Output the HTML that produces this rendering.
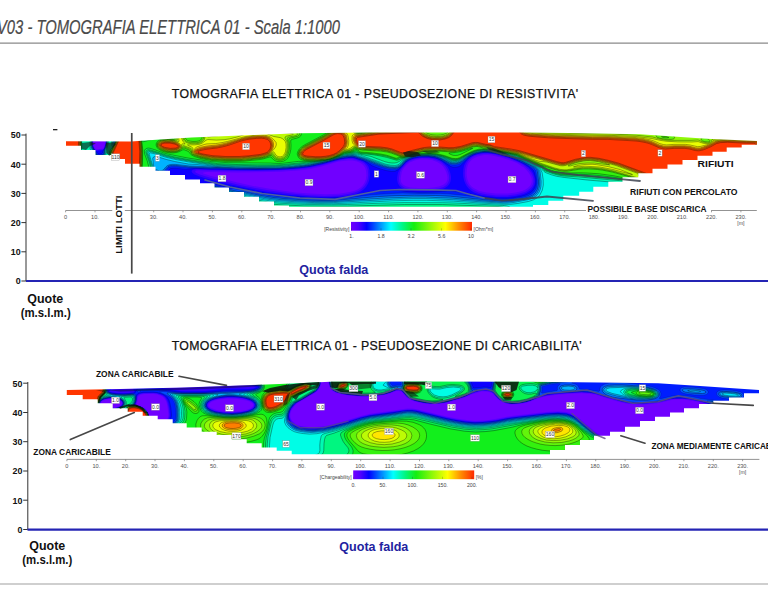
<!DOCTYPE html>
<html><head><meta charset="utf-8"><title>V03 - TOMOGRAFIA ELETTRICA 01</title>
<style>
html,body{margin:0;padding:0;background:#fff;}
body{width:768px;height:614px;overflow:hidden;position:relative;font-family:"Liberation Sans",sans-serif;}
svg{position:absolute;left:0;top:0;display:block;}
text{font-family:"Liberation Sans",sans-serif;}
.b{font-weight:bold;fill:#111;}
.t{fill:#111;stroke:#111;stroke-width:0.25px;}
.q{font-weight:bold;fill:#2222a0;}
.h{font-style:italic;fill:#4a4a4a;stroke:#4a4a4a;stroke-width:0.2px;}
</style></head><body>
<svg width="768" height="614" viewBox="0 0 768 614">
<defs><linearGradient id="cb" x1="0" y1="0" x2="1" y2="0"><stop offset="0%" stop-color="#7000ff"/><stop offset="6%" stop-color="#5000ff"/><stop offset="13%" stop-color="#0000ff"/><stop offset="23%" stop-color="#0080ff"/><stop offset="33%" stop-color="#00ffff"/><stop offset="43%" stop-color="#00f680"/><stop offset="52%" stop-color="#14ee10"/><stop offset="65%" stop-color="#8cf808"/><stop offset="78%" stop-color="#ffff00"/><stop offset="89%" stop-color="#ff8c00"/><stop offset="100%" stop-color="#ff2800"/></linearGradient></defs>
<rect width="768" height="614" fill="#fff"/>
<!-- header -->
<text class="h" x="-3" y="34.3" font-size="19.5" textLength="343" lengthAdjust="spacingAndGlyphs">V03 - TOMOGRAFIA ELETTRICA 01 - Scala 1:1000</text>
<line x1="0" y1="43.2" x2="768" y2="43.2" stroke="#8a8a8a" stroke-width="1.2"/>
<line x1="0" y1="584" x2="768" y2="584" stroke="#a0a0a0" stroke-width="1.1"/>
<!-- titles -->
<text class="t" x="171.7" y="98.3" font-size="12.3" textLength="406.5" lengthAdjust="spacing">TOMOGRAFIA ELETTRICA 01 - PSEUDOSEZIONE DI RESISTIVITA'</text>
<text class="t" x="171.7" y="349.8" font-size="12.3" textLength="410" lengthAdjust="spacing">TOMOGRAFIA ELETTRICA 01 - PSEUDOSEZIONE DI CARICABILITA'</text>
<!-- ===== section 1 ===== -->
<g fill-rule="evenodd" stroke="#000" stroke-opacity="0.5" stroke-width="0.7">
<rect x="60" y="128" width="704" height="84" fill="#7000ff" stroke="none"/>
<path fill="#5700ff" stroke="none" d="M763.9 128.1l0 83.8 -703.8 0 0-83.8zM97.7 139.6l-3 0.8 -1.2 1.2 -0.2 1.3 0.2 2.2 1.1 2.9 0.8 1.1 1 0.4 6.5-1 0.7-0.8 0.8-2 0.8-3.1 -0.1-1.5 -0.7-0.7 -1.5-0.5zM484.1 155.1l-6.2 1.3 -4.4 2 -1.9 1.5 -1.7 1.8 -1.3 1.9 -1 2.5 -0.7 3.1 -0.3 3.7 0.2 3.2 0.6 3.2 1 2.7 1.4 2.4 1.8 2 2.3 1.8 2.6 1.4 2.9 1.3 7 1.7 9.7 1 11.3 0 8.2-1 6.5-1.5 2.5-1.1 2.4-1.4 1.9-1.5 1.5-1.8 1-2.2 0.4-2.2 -0.2-2.3 -1-2.7 -1.7-2.9 -2.5-3 -2.5-2.4 -3.1-2.2 -3.9-2.3 -5-2.2 -11.1-3.5 -8.8-2 -4.1-0.4zM419.3 159.6l-4.8 1 -4.9 2 -3 2.3 -3 3.6 -1.2 2.1 -0.8 2.2 -0.9 5.6 0.4 3.5 0.8 1.4 1 1.2 3 1.7 4.7 1.2 7.5 0.7 8.3 0.1 7-0.6 5.3-1 4.2-1.5 2.7-2 1.1-1.5 0.6-2 0.2-2.2 -0.4-2.5 -0.9-3 -1.4-2.8 -1.7-2.5 -1.8-2 -4.2-2.7 -5.1-1.8 -5.1-0.6zM348.1 160.4l-9.4 1.2 -16.3 4.6 -10.8 2.5 -6.2 1 -7.5 0.8 -17.8 1.2 -12 0.4 -30.7 0.5 -30.5-0.5 -3.3 0.3 -0.7 0.5 0.5 0.5 1.5 0.7 6.3 2 26.4 6.5 15.5 3.3 18.2 3.2 24.3 3.3 14.3 1.2 15.7 0.6 13.3-0.5 10.7-1.6 4.4-1.2 3.5-1.5 3.1-2 2.1-2 1.9-3 1.2-3 0.6-4 -0.3-4.5 -1-3.1 -2-2.9 -2.5-2 -3.5-1.5 -4.7-1z"/>
<path fill="#3600ff" stroke="none" d="M763.9 128.1l0 83.8 -703.8 0 0-83.8zM97 139.1l-2.6 0.8 -0.9 0.7 -0.6 1 0.2 4 1.3 3.1 1 1.2 1 0.4 6.7-1.1 1-1.3 1-3 0.6-2.8 -0.3-1.5 -1-0.8 -2-0.6zM483.5 153.9l-6.3 1.2 -2.6 1 -2.6 1.5 -2.2 1.8 -1.7 1.9 -1.3 2.1 -1 2.5 -0.7 3.2 -0.3 4 0.2 3.5 0.7 3.3 1.1 3 1.6 2.5 1.9 2.2 2.3 1.9 2.8 1.6 3 1.3 3.7 1.1 3.8 0.8 10.2 1.1 11.5 0 8.8-1.1 6.7-1.7 2.8-1.2 2.5-1.6 2-1.7 1.4-1.7 1.2-2.5 0.5-2.5 -0.2-2.8 -0.8-2.7 -1.4-2.8 -2.3-3 -2.7-2.7 -2.9-2.3 -4.3-2.5 -5-2.2 -4.8-1.8 -7.5-2.2 -9.7-2.3 -4.3-0.3zM421.8 158.1l-6.2 0.8 -3.1 1 -2.9 1.2 -3.3 2.3 -4.2 5 -1.3 2 -0.9 2 -1 5.7 0.4 4 0.8 1.8 1 1.4 3 2.1 4.3 1.3 7.7 1 8.5 0.2 7.3-0.4 6.7-1.1 4.8-1.5 3.1-2 1.4-1.8 0.9-2 0.4-2.5 -0.1-2.5 -0.6-3 -1.2-3 -1.6-3 -1.8-2.2 -1.9-1.8 -2.2-1.5 -5.1-2.2 -5.6-1.1zM346.8 159.1l-8.1 1.3 -16.3 4.6 -11 2.5 -6.5 1 -10.3 1 -17.7 1.1 -20.5 0.5 -20.3 0 -37.2-0.9 -2.9 0.4 -0.7 0.5 -0.1 0.5 0.4 0.8 0.9 0.7 3.2 1.5 13.2 3.8 28 6.8 12 2.4 16.7 3 21.7 3 17.6 1.7 15.7 0.6 14-0.5 6.5-0.8 5.5-1 4.5-1.3 3.8-1.6 3-2.1 2.5-2.5 2-3.3 1.3-3.7 0.5-4.5 -0.4-4.5 -1.3-3.5 -2.2-3 -3.4-2.2 -6-2 -3.5-0.5z"/>
<path fill="#0e00ff" stroke="none" d="M763.9 128.1l0 83.8 -703.8 0 0-83.8zM97.3 138.6l-3.2 1 -0.9 0.8 -0.6 0.9 -0.2 1.3 0.2 2.5 1 3 1.3 1.9 1.5 0.9 6.5-0.9 1.2-1.3 1-2.3 1-4 -0.2-1.8 -1-1 -2-0.8 -2.5-0.3zM482.8 153.1l-3.2 0.5 -3.6 1 -2.5 1 -2.6 1.5 -2.2 1.8 -2.1 2.2 -1.6 2.5 -1.1 2.5 -0.6 3.5 -0.2 4 0.2 3.5 0.8 3.5 1.1 3 1.7 2.8 2 2.3 2.5 2 2.7 1.7 3.3 1.4 4 1.2 4 0.8 10.7 1.1 11.8 0 8.7-1.1 7.3-1.8 2.7-1.2 2.8-1.7 2-1.7 1.5-1.8 1.4-2.7 0.6-2.8 -0.1-3 -0.8-3.2 -1.2-3 -1.7-2.5 -2.7-2.8 -2.9-2.2 -4.2-2.5 -5.4-2.5 -5.9-2.3 -6.6-2 -7.5-2 -4-0.7 -4.8-0.4zM420.5 157.4l-6.2 1 -3.4 1.2 -2.6 1.3 -2.7 2.1 -6.4 7.4 -0.9 1.5 -0.6 2 -0.5 3.2 -0.1 2.8 0.8 3.7 2 3 1.5 1.2 1.7 1 4.3 1.3 8.7 0.9 9.3 0.1 8.5-0.4 6.2-0.9 4.5-1.6 3.3-2.2 1.5-1.9 1-2.2 0.6-2.8 0-2.7 -0.7-3.3 -1.1-3.2 -1.5-2.8 -1.9-2.2 -2.2-2 -2.6-1.8 -2.9-1.5 -2.7-1 -6.5-1.2zM348.4 158.1l-8.7 1.3 -17.6 4.9 -11 2.5 -6.5 1 -10.2 1 -17.3 1.1 -21 0.3 -44.7-0.5 -14.8-0.6 -3.7 0.6 -1 0.7 -0.3 1 0.9 1.7 2.1 1.5 4.3 1.7 5.5 1.7 19.7 5 15.3 3.5 13.7 2.8 14.8 2.7 20.7 2.8 20 1.8 15.5 0.6 15-0.5 7-0.8 6.3-1.2 4.5-1.3 3.5-1.6 3.2-2.3 2.4-2.6 2.1-3.5 1.2-3.5 0.6-4.8 -0.3-4.7 -1.1-3.8 -1.9-2.7 -3-2.3 -4.2-1.7 -6.2-1.8z"/>
<path fill="#001dff" stroke-opacity="0.25" d="M154.4 128.2l608.3-0.1 1.2 0.2 0 50.4 -1.8 0.5 -8 4.5 -3.7 1.6 -5.3 1.2 -15.2 2.8 -5 0.3 -27.8 0 -27-0.5 -3.5 0.2 -0.7 0.3 -0.3 0.5 0.3 4.8 -0.1 3 -0.6 2.5 -1.2 2.5 -1.4 1.7 -2 1.7 -7.7 4.6 -1.1 1 -421.1 0 -13.1-1.9 -16-4.2 -3-1.5 -1.1-1.2 -0.8-1.7 -0.4-2 0-3.3 0.7-4.5 1-2.5 1.2-2 2.2-2 2.7-1.6 2.5-0.5 3.5 0 3.8 0.7 11 3 1.7 0.2 4-0.2 2.8 0.2 22.4 4.7 15.1 2.6 18.5 2.2 25 1.7 15.2 0.2 11.5-0.7 12.3-1.7 12.2-3.2 3.5-0.7 11.5-1 15.3-0.7 12 1.4 12 0.6 11.7-0.2 15.8-1.1 3.7 0 15 1.8 13.1 3.3 6.8 1.3 10.6 0.9 9.8 0.1 6.7-0.5 8-1.5 4.8-1.4 4-1.9 3-2.5 2-3.1 1.1-3.9 0.1-4 -1.5-6.6 -1.2-2.6 -3.4-3 -5.3-3.5 -7.2-3.5 -8.7-3.3 -13.7-3.7 -7.2-1 -4 0 -3.7 0.5 -4 1 -3.2 1.2 -2.7 1.5 -2.3 1.8 -7.4 7.3 -2.2 1.1 -2.8 0.5 -2.5 0 -2.2-0.7 -9.6-6.2 -3.1-1.5 -2.8-1 -6.8-1.1 -9.2 0 -5.7 1.1 -5 2 -2.6 1.8 -5 5.4 -3.5 2.9 -2.7 1.3 -3.3 0.2 -5.7-1 -6.8-2 -6.5-2.5 -6.2-3.9 -3.6-1.7 -8.5-2.8 -3.9-0.3 -10 1.3 -18.5 5.1 -12.3 2.7 -8.2 1.1 -15 1.3 -10.5 0.5 -20.8 0.3 -18.7-0.1 -19-0.6 -6.5 0.1 -15.3-0.7 -9.5 1.1 -11-1.2 -3 0.1 -1.5 0.3 -1.2 0.7 -2.8 3.2 -2 1.5 -2.7 0.9 -4 0.5 -3.3 2.8 -2.7 1.6 -4.3 1.2 -5.5 0.5 -4.2-0.3 -3.8-1.4 -3.2-2.4 -3.4-4 -0.9-0.5 -14-0.2 -2-0.4 -1-0.7 -0.7-1 -0.4-4.7 -0.6-0.8 -25.5-9.5 -3.5-1.9 -1.8-0.2 -17 0 0-18.7 19 0 5.5 0.5 26.5 0.1 2.3 0.4 2.2 1.5 1.5-1.1 1.3-0.5 9-0.3 4.1-0.8 20.1-5.2zM97.2 138.1l-2.8 1 -1.8 1.5 -0.5 1.8 0.4 3.7 1.6 3.4 3 2.9 0.8 1 1 0.5 2 0 1.5-0.9 0.3-1.6 2.1-3.5 1.4-4.8 0.2-2 -1-1.6 -2-1 -2.8-0.5z"/>
<path fill="#004dff" stroke-opacity="0.25" d="M162.6 128.2l592.7-0.1 2.7 0.8 5.9 0.8 0 46.4 -2.5 0.8 -8 4.6 -3.8 1.6 -6.2 1.4 -14 2.5 -33 0.2 -30-0.5 -3.5 0.2 -0.9 0.5 -0.4 1 1.1 5.2 -0.1 4 -0.8 2.5 -1.3 2 -2.9 2.4 -4.7 2.7 -3.8 1.5 -6.7 1.9 -1.6 0.8 -0.4 0.5 -394.2 0 -5-1 -21.8-2.4 -14.8-3.8 -3.7-1.2 -2-1.6 -0.8-2.8 0.1-5 1.3-4 1.7-2.5 2.4-1.9 2.8-1 3.2-0.1 3.8 0.5 11.7 3.3 8.3 0.3 12 2 11.7 2.7 14.8 2.5 14.7 1.5 25.3 1.7 12 0.3 13.2-0.4 10-0.9 14.8-2.2 9.7-1.1 19.3-1.3 11.7-0.4 17 0.4 20.8-0.1 7.7 0.4 18.3 1.9 21.5 3.1 10.2 0.7 8.8 0.1 6.2-0.5 9.6-1.7 5.2-1.5 3.7-1.9 2.8-2.5 1.8-3.1 1-4.3 0-4.5 -1.2-7.7 -0.7-1.8 -1.9-1.7 -6.9-4.3 -7.7-3.7 -9.2-3.5 -13.6-3.8 -8.1-1.1 -3.8-0.1 -3.2 0.4 -3.3 0.6 -3.6 1.2 -2.7 1.3 -2.8 1.7 -7.4 6.1 -3 1.2 -3 0.6 -2.7-0.1 -2.8-0.7 -9.3-5.1 -5.6-2 -6.6-0.8 -9.5 0.1 -5.9 1.2 -5.1 2.3 -2.2 1.7 -4.5 5 -3 2.1 -2.5 0.7 -3 0 -4.8-0.7 -5.5-1.4 -9.2-3.3 -10.4-4.4 -8.1-2.6 -3.5-0.3 -10 1.3 -16 4.5 -15.5 3.5 -10 1.2 -15.8 1.3 -27.5 0.6 -19.7-0.2 -19-0.6 -6.5 0.2 -14.5-0.8 -8.8 0.1 -12.2-1.4 -3.3 0 -2.2 0.5 -1.5 0.7 -3.3 3.6 -2 1.4 -2.5 0.6 -4-0.1 -3.2 3.1 -2.8 1.5 -3.7 1.1 -4.8 0.4 -3.7-0.3 -3-1.1 -2.8-2 -2.9-3.2 -1.2-0.5 -3.1-0.2 -12.5 0 -1.8-0.3 -1-0.7 -0.5-1 -0.2-4.8 -0.8-1.1 -25.2-9.5 -3.8-1.9 -2.2-0.2 -17.3 0 0-16.6 19 0.1 4.7 0.7 8.8 0.1 2.8 0.4 0.4 0.5 -2.7 2 -1 1.5 -0.2 1.8 0.5 3.7 1 2.3 2.3 3 1.3 2.2 1.3 0.8 2.1 0.1 2-0.5 1.1-1.1 0.4-2.8 1.6-3.7 1.1-4.3 0.1-1.2 -0.4-1.3 -0.9-1 -2.2-1.5 0.4-0.5 3.3-0.4 5.2 0.1 1 0.4 0.7 0.7 1.1 2.1 2-2.6 1.5-0.8 12.9-0.5 6.3-0.7 21.3-5.5 2.9-1z"/>
<path fill="#0080ff" d="M166.5 128.1l585.8 0 3.8 1 7.8 1.1 0 44.7 -2.5 0.8 -8.5 4.8 -3.5 1.5 -5.3 1.2 -14.7 2.7 -5 0.2 -29.5 0 -31-0.5 -3 0.3 -1 0.5 -0.4 1 1.4 5.5 0.1 4 -0.7 2.5 -1.7 2.2 -3.2 2.4 -4.5 2.4 -3.3 1.1 -10.5 2.6 -2 0.9 -0.7 0.9 -381.9 0 -1.3-0.5 -4.7-0.8 -26.6-2.9 -18-4.7 -2-1.4 -0.9-2 0-4.5 0.8-3.5 1.6-2.9 2.2-2 2.5-1 3.5-0.3 3.8 0.5 12.2 3.5 5.5 0.6 6 1.4 8.3 0.6 12.2 2.9 14 2.4 11.5 1.2 25.8 1.7 12 0.3 13.2-0.1 43.5-3.8 17.3-0.9 19.2-0.4 21.5 0.2 14.5 0.7 38 3.9 10.3 0.6 8 0.1 6.7-0.5 10.8-2 5.2-1.4 3.6-1.8 2.8-2.5 2-3.5 1-4.5 0-4.7 -1.1-8.3 -0.5-1.5 -1.7-1.7 -5.8-3.5 -8.6-4.3 -10.4-4 -14.7-4 -7.8-1.1 -3.8 0 -3.2 0.3 -3.3 0.6 -3.7 1.2 -5.8 3 -5.5 4.4 -2 1.3 -2.7 1.1 -3 0.5 -2.8-0.1 -2.5-0.6 -10-5.1 -5.2-1.6 -6.8-0.7 -9 0.1 -2.2 0.3 -4.6 1.2 -4 1.7 -2.4 1.8 -3.5 4 -2 1.8 -2.3 1.3 -2.7 0.5 -5.5-0.5 -5.5-1.2 -6-2 -13.4-5.2 -9.6-3.1 -2.8-0.4 -4.5 0.3 -6 1 -13.5 3.9 -19 4.2 -10.5 1.3 -15.5 1.2 -27.2 0.6 -19.8-0.3 -19-0.7 -6.7 0.2 -22-0.9 -13-1.5 -3 0 -2.5 0.3 -2 0.9 -3.5 3.8 -1.8 1.2 -2.5 0.5 -4-0.5 -0.7 0.5 -2.3 2.8 -2.5 1.6 -3.7 1.2 -4.8 0.4 -3.5-0.3 -2.5-0.9 -2.5-1.6 -2.8-2.9 -1.2-0.5 -2.7-0.3 -13.8-0.1 -1.7-0.2 -0.8-0.4 -0.6-1 -0.3-5 -0.3-1 -0.5-0.4 -25.5-9.7 -3.3-1.6 -2.2-0.2 -17.8 0 0-15.7 19 0 4.5 1 7.8 0 1.9 0.3 0.4 0.3 -0.1 0.5 -1.5 1.9 -0.5 1.6 0.2 3.7 0.6 2 0.9 1.8 1.9 2.5 1.4 2.7 1.5 0.8 2.3 0.2 2.5-0.7 0.7-0.6 0.6-0.9 0.3-3 1.4-4 1.1-4.3 -0.3-1.7 -1.4-2.3 0.4-0.5 3.9-0.3 2.8 0.4 1.2 1.2 0.5 2.7 0.3 0.2 2.5-3.9 1.5-1 15.7-0.5 6.8-0.7 21.3-5.6 2.9-1z"/>
<path fill="#00b3ff" d="M170.3 128.1l579.4 0 5.7 1.3 8.5 1.2 0 43.5 -2.7 0.8 -8.6 4.8 -3.5 1.6 -5.5 1.2 -14.5 2.6 -34.5 0.2 -31.7-0.6 -3.5 0.4 -1.4 0.8 -0.4 1 1.9 5.7 0.1 4 -0.8 2.5 -1.7 2 -3.7 2.5 -3.8 1.8 -16 4.1 -3.6 1.4 -1.2 1 -371.4 0 -2.4-0.8 -5.2-0.7 -29.4-3.2 -17.5-4.5 -2.1-1.1 -1-1.7 -0.3-4 0.7-3.5 1.4-2.9 2-2 2.8-1.2 3.2-0.3 3.5 0.5 10.8 3.2 6.5 1.2 5.5 1.5 9.7 0.8 11.8 2.9 13.2 2.4 10.5 1.2 22.3 1.3 12.5 0.6 17.7 0 40.5-2.9 15.8-0.9 23-0.7 12.7 0 27 1.1 35.8 3.1 12.2 0.7 7-0.1 6.5-0.7 12.8-2.5 5.2-1.8 3.3-2.3 1.6-1.7 1.1-2 0.9-2.3 0.6-2.7 0.2-4.8 -1-9.5 -1-2.2 -3-2.3 -9.9-5.2 -9.6-4 -7.4-2.5 -11.6-3 -6.1-1 -5.8-0.3 -5.3 0.6 -5.6 1.7 -5.9 3 -7.2 5.2 -2.5 1 -3 0.5 -2.5-0.1 -2.5-0.6 -10-4.7 -5.1-1.6 -6.9-0.7 -9.8 0.1 -2 0.2 -4.7 1.3 -4.1 1.9 -2.4 1.7 -3.3 3.9 -2 1.7 -2.2 1.1 -2.5 0.4 -5.3-0.4 -5.5-1.2 -18.2-6.7 -6.8-2 -3.7-1.4 -2.8-0.4 -4.2 0.2 -6 0.9 -13.8 4.1 -20 4.3 -15 1.7 -14 0.9 -23 0.4 -21-0.3 -46-1.8 -14.2-1.6 -3.5 0 -2.5 0.4 -2 0.8 -1.3 1.1 -2.5 2.9 -1.7 1.1 -2.5 0.2 -3.3-1.2 -0.7 0.1 -2.4 4.1 -1.4 1.2 -1.7 0.9 -4 1 -4.8 0.3 -2.5-0.3 -2.2-0.8 -2.3-1.6 -2.3-2.2 -1.8-0.8 -3.4-0.3 -13.7 0 -1.5-0.3 -0.8-0.5 -0.5-0.9 -0.2-5.2 -0.3-0.8 -0.7-0.7 -25-9.4 -3.3-1.7 -20.5-0.2 0-15 19 0 4.5 1.2 7 0 1.7 0.3 0.3 0.5 -1 2.3 -0.3 1.5 0.3 4 0.7 2 2.3 3.2 1.8 3.4 1.7 0.9 2.5 0.1 2.5-0.7 0.8-0.7 0.6-1 0.4-3.5 1.3-3.7 1-4 0-1.5 -0.8-2.3 0.5-0.6 3.7-0.1 1.9 0.5 0.8 1.2 0.3 3 0.3 0.5 1-1 2.1-4 1.6-1 23-0.8 22.7-5.9 4.1-1.3z"/>
<path fill="#00e6ff" d="M175.1 128.3l571.3-0.2 17.5 2.8 0 42.4 -2.8 0.8 -9 5.1 -3.2 1.4 -5 1.2 -14.8 2.7 -34.5 0.2 -32.5-0.7 -4.2 0.4 -1.6 0.7 -0.6 1.3 2.3 6 0.3 2 -0.1 2 -1 2.5 -2.1 2 -3.8 2.2 -3.7 1.5 -25.1 5.5 -2.3 0.8 -1.2 1 -354.9 0 -1.7-0.5 -7.8-1 -34-3.8 -16.8-4.2 -2.3-1 -1.1-1.5 -0.3-3.3 0.5-3.5 1.3-3 2-2.1 2.5-1.1 3.2-0.3 3.5 0.5 10.5 3.1 6 1.3 6 1.7 9.5 1.1 10.5 2.6 11 2.2 11 1.5 17 1.1 19.8 0.9 19.2 0 59.8-3.4 19.7-0.6 12.8 0 27.5 1.1 27.5 2.2 15.7 0.9 7.5 0.4 4.3-0.1 6.5-0.8 13-2.6 5.5-1.9 3.2-2.3 1.6-1.9 1.3-2.2 0.9-2.5 0.6-2.8 0.2-4.7 -1-9.5 -0.4-1.3 -0.7-1.2 -2.9-2.3 -10.1-5.2 -10-4.2 -8.4-2.8 -12.2-3 -5.1-0.8 -6.3-0.3 -5.2 0.6 -5.7 1.7 -6 3 -7.1 4.8 -2.5 1 -2.7 0.5 -2.5-0.1 -2.5-0.6 -9.4-4.3 -5.4-1.6 -6.7-0.7 -12 0.2 -4.8 1.2 -4.4 1.9 -2.6 1.8 -3.4 3.9 -1.7 1.5 -2.1 1.1 -2.8 0.4 -5-0.4 -5.5-1.3 -16.7-6.1 -7.3-2.2 -4.2-1.7 -2.5-0.4 -3.8 0.2 -6.5 0.9 -14.5 4.4 -17.5 3.6 -5.5 0.9 -22 2 -8.2 0.4 -17.5 0.2 -21.5-0.4 -17.5-0.6 -22-2.1 -8.5-0.5 -13.8-2.5 -8.2-2 -8.2-2.6 -3.1-0.5 -1.7 0.7 -0.7 1.5 1.3 10 -0.2 2.3 -0.9 2 -1.8 1.7 -2.5 1.1 -3.5 0.7 -4 0.2 -2.2-0.3 -2-0.7 -2-1.2 -2.6-2.3 -2.2-0.7 -3.7-0.3 -13.5 0 -1.5-0.3 -0.8-0.6 -0.3-0.8 -0.1-5 -0.4-1 -0.7-0.9 -25.2-9.6 -2.8-1.4 -21-0.1 0-14.6 19 0.1 1.5 0.2 2.8 1.1 8 0.3 0.4 0.6 -0.7 2 -0.1 1.5 0.3 4 0.4 1.8 2.7 3.5 1 2.5 0.7 1 1.8 0.9 2.5 0.2 1.5-0.2 1.5-0.7 0.9-0.7 0.6-1 0.4-3.8 1.2-3.5 1-4 0.1-1.5 -0.5-2 0.5-0.6 3.3-0.1 1.5 0.6 0.5 1.1 0.1 3.3 0.4 0.9 1.2-1.3 2.5-4.6 1.5-1.1 20.3-0.6 3.2 0.2 24.5-6.4 6.4-1.4z"/>
<path fill="#00fde6" d="M179.4 128.1l563 0 21.5 3 0 41.5 -3 0.9 -9 5.1 -3.3 1.4 -5 1.2 -14.5 2.6 -34.7 0.2 -33.5-0.6 -5.2 0.5 -2.1 1 -0.5 0.7 -0.2 0.8 0.4 1.2 2.4 4.5 0.4 2 -0.1 1.8 -1 2.2 -2.6 2 -4 2 -5.6 1.5 -12.7 2.7 -11.7 1.4 -5 1 -3.4 1.4 -0.8 0.8 -0.4 1 -82.7 0 -1-0.6 -2.2-0.3 -1.5 0.3 -0.9 0.6 -247.3 0 -2.6-0.7 -11.7-0.9 -36-4 -5.4-0.9 -13.3-3.5 -2.3-1 -0.8-1 -0.3-1.3 -0.1-2.7 0.4-2.3 1.2-3 1.8-2 2.5-1.2 3-0.2 3.5 0.5 22.3 6.2 9 1.3 8 2.2 7.5 1.7 12.5 2.2 12.5 1 20.5 1 28 0.4 14-0.5 45.5-2.4 20.2-0.5 13.3 0 27 0.9 28 1.9 23 1.2 6.5 0 6.7-0.8 10.8-2 5.2-1.7 3.5-2 1.6-1.4 1.5-2 2.1-4.3 1-5 -0.1-5.5 -1.1-7 -1.3-2.7 -2.5-2.3 -6.4-3.5 -11.8-5.4 -9.5-3.4 -14.9-3.7 -8.3-1 -6.3 0.1 -6.5 1.6 -6.8 3.1 -8.2 5.1 -2.5 0.9 -2.5 0.4 -2.2-0.1 -2.3-0.6 -9.2-4.1 -5.5-1.5 -6.5-0.7 -12.5 0.1 -4.9 1.2 -4.7 2 -2.7 1.8 -3.2 3.7 -1.8 1.5 -2.2 1 -2.5 0.3 -5-0.5 -5.4-1.3 -15.4-5.6 -7.7-2.4 -3.8-1.6 -3-0.5 -3.7 0.1 -6.8 0.9 -15 4.7 -23.5 4.4 -13.7 1.4 -9.3 0.6 -26.7 0.4 -20-0.3 -20-1 -26.5-3.7 -13.5-2.5 -9.3-2.2 -10.9-3.4 -5.1-1.1 -0.8 0.3 -0.1 1 3.5 11.5 0.5 3.3 -0.2 2.2 -1.2 2 -2.2 1.5 -3 0.9 -4 0.4 -2.7-0.1 -2-0.5 -2-1 -2.7-2.2 -2.6-0.8 -3.2-0.3 -14 0 -1.8-0.3 -0.7-0.5 -0.5-0.8 -0.1-5 -0.3-1.3 -0.6-0.9 -1.3-0.7 -7.4-2.9 -1.9-1 0.1-0.3 4.2-1 1.3-0.8 0.8-1.1 0.4-1.3 0.1-3 2.1-7.2 0.1-3.5 0.5-0.4 2.5-0.1 1.2 0.7 0.3 1.1 0.2 4.2 0.2 0.5 0.3 0 1.5-2 2.5-4.8 1.5-1.1 20.3-0.6 3.5 0.6 24.2-6.3 10.1-1.8 1.5-0.5zM79.1 137.1l1.5 0.3 2.5 1.4 6.5 0 1.3 0.3 0.2 0.5 -0.5 2.8 0.3 5.7 0.5 1 2.5 2.8 1.7 4.4 -1.5-0.1 -2.9-1.1 -7.3-2.7 -2.5-1.4 -3.3 0.2 -18 0 0-14.1z"/>
<path fill="#00fab3" d="M182.4 128.1l556.6 0 4.1 0.7 7.8 0.7 13 1.9 0 40.5 -3 0.8 -9.1 5.2 -3.4 1.5 -19.3 3.7 -5 0.2 -45.5 0.1 -21-0.6 -4.5 0.5 -5.7 1.5 -3.8 0.2 -10.2-0.7 -9.9-1.2 -36.4-3.1 -22.7-2.5 -7.8-1.2 -5.2-1.5 -5.3-2 -2-1.2 -3-3 -2.7-1.7 -8.9-4.5 -12.1-5.3 -6.3-2.1 -6.2-1.6 -10.5-2.3 -6.5-0.8 -6.3 0 -3.2 0.6 -3.3 0.9 -7.1 3.1 -8.4 5 -2.2 0.8 -2.5 0.4 -2.3-0.1 -2-0.4 -9.4-4 -5.6-1.5 -5.7-0.6 -9 0.2 -2.8-0.3 -1.5 0.1 -5.4 1.4 -5.3 2.2 -2.7 1.8 -4.3 4.4 -1.8 0.8 -2 0.4 -4.7-0.3 -5.1-1.1 -27.4-9.8 -4-0.5 -9.8 1.1 -10 3.6 -5.2 1.4 -22.8 4 -22.5 2.1 -8.2 0.3 -17.8 0.2 -21.7-0.4 -19.9-1 -27.1-3.9 -13.5-2.5 -9.3-2.2 -11.2-3.6 -5.5-1.3 -1.2 0.5 -0.2 1.3 3.9 11.7 0.6 3.5 -0.2 2.3 -1.2 1.9 -2.2 1.4 -3.3 0.8 -4 0.3 -3.6-0.7 -4.4-2.7 -2.8-0.8 -3.9-0.3 -13.8 0 -1.5-0.2 -0.7-0.6 -0.4-0.9 0-5 -1.1-2.6 -1-0.7 -5.7-2.2 -0.9-0.7 2.8-1.8 1.3-1.7 0.3-1.3 0.2-3.2 1.9-6.3 0.3-3.4 0.5-0.5 1.5 0 0.9 0.7 0.3 5.5 0.2 0.5 0.4 0.2 1.5-1.5 3.4-6.5 0.6-0.6 1-0.5 20-0.4 3.7 1 24-6.2 11.6-2 3.1-1zM79.1 137.3l1.9 0.6 1.6 1.8 5.8-0.1 1.5 0.2 0.3 0.6 -0.2 8.2 0.5 1 2.8 2.5 0.6 1.3 0.1 1.5 -1.3 0 -8.1-3 -1.4-0.8 -1.1-1.1 -1.7 0.8 -1.5 0.2 -18.8 0 0-13.8zM208.6 187.9l4.3 0.5 21.7 6.1 8.8 1.6 7.7 2.3 7 1.7 10.3 1.9 11 1.2 25 1.2 27.2 0.3 15.8-0.2 32.7-1.3 24-0.6 38.8 0.1 12 0.3 47.7 2.4 4 0.5 2.5 0.7 1.9 1.3 0.7 1.2 -0.9 0.8 -5.7 2 -222.7 0 -1-0.5 -2.3-0.5 -20.7-1.4 -37-4 -4.1-0.9 -13.9-3.7 -1.4-1 -0.6-1.5 0.1-3.3 0.7-2.7 1.1-2 1.3-1.3 1.8-0.9z"/>
<path fill="#00f680" d="M184.9 128.1l551.3 0 2.9 0.6 11.8 1 13 1.9 0 8.8 -0.9 0.5 -0.4 1 0.3 0.8 1 0.5 0 27.9 -1.5 0.2 -1.8 0.7 -9 5.1 -3.4 1.5 -6.7 1.5 -12.9 2.3 -50 0.5 -24.2-0.7 -8.5 0.5 -8.8-0.2 -3.7 0.2 -14.1-2.1 -40.9-3.7 -13.8-0.8 -7-1.1 -5.2-1.5 -7-2.5 -1.5-0.9 -2.3-2.2 -2.3-1.3 -9.3-4.5 -13.6-6 -7.8-2.2 -13.7-3 -4-0.6 -7-0.4 -5 0.5 -5.3 1.6 -6.5 3 -7.2 4.3 -2.3 0.8 -2.5 0.4 -2.2-0.1 -2-0.4 -8.5-3.4 -6.3-1.7 -5.2-0.6 -10 0.1 -3.3-0.4 -4.3 0.9 -4.4 1.5 -5.1 2.2 -4.7 2.9 -2.2 1.1 -2.3 0.4 -2.7 0 -3.3-0.4 -3.9-1 -13.8-5.2 -10.3-2.1 -3.5-1.1 -2.2-0.1 -10.5 1.2 -9.8 3.8 -7 1.9 -21 3.2 -23 2.2 -8 0.3 -18.2 0.1 -28.8-0.7 -12.9-0.7 -26.8-3.9 -13.8-2.6 -9-2.1 -11.7-3.8 -5.5-1.3 -0.9 0.2 -0.7 0.5 -0.3 0.7 0 1 3.7 10.5 1.1 5.5 -0.2 1.3 -0.5 1.1 -2 1.7 -3.7 1.1 -4.8 0.1 -2.2-0.4 -3.9-2.1 -3.1-0.9 -4.3-0.3 -14.2 0 -1.3-0.3 -0.7-0.7 -0.3-1.3 0-4.3 -1.4-5 0.5-7.5 1-2.2 3.2-3.9 3.1-6.1 1.1-1.4 1.8-0.4 19-0.3 1.2 0.2 1.8 1.2 1 0.1 23.2-6 12-2.2 5.1-1.5zM78.1 137.4l2.5 0.5 0.8 1 0.3 1.5 0 7.2 -0.4 2 -0.9 0.9 -1.5 0.3 -18.8 0 0-13.4zM208.1 188.9l2.3 0 2.5 0.5 21.2 6.1 7.6 1.6 8.4 2.7 7.3 1.7 10.2 2.1 11.3 1.1 25 1.2 27.2 0.2 16.5 0 56.8-1.6 38 0 55.5 2 5.2 0.7 1.4 0.7 0.4 0.7 -0.8 0.8 -1.7 0.6 -7.5 0.7 -1.6 0.4 -1.4 0.8 -194.8 0 -1.1-0.5 -7.9-1.1 -28.2-1.6 -6.5-0.6 -31.1-3.5 -5.1-1 -12.3-3.2 -1.3-0.5 -0.8-0.8 -0.4-1.2 0-2.2 1-3.6 0.7-1.2 1.1-1 1.4-0.7z"/>
<path fill="#09f24e" d="M187.1 128.3l546-0.2 5 0.9 12.5 0.9 13.3 2 0 8.1 -1.3 0.6 -0.6 1.8 0.6 1.5 1.3 0.4 0 25.8 -1.5 0.2 -2 0.7 -9.5 5.4 -3 1.3 -12.9 2.7 -6.6 1 -27.8 0.3 -19.2 0.8 -14.5-0.3 -21.3-1.2 -4.7 0.5 -4.3-0.2 -3.5 0.5 -11.2-2.1 -12.3-1.6 -29.2-2.6 -15.5-0.3 -6.8-0.9 -4.2-1.1 -8-2.8 -1.4-0.8 -1.9-1.9 -1.3-0.8 -24.4-11.2 -7.7-2.1 -14.6-3 -6.5-0.8 -4.7-0.2 -4.8 0.6 -5.2 1.5 -6.5 3 -7 4 -2.3 0.8 -2.2 0.4 -4-0.4 -8.8-3.3 -6.5-1.7 -6.2-0.6 -9 0.2 -3-0.5 -5.7 1.3 -14.1 5.1 -1.7 0.2 -9.6-2.8 -6.8-1.5 -8-1.3 -10.9-1 -4-1.3 -1.5-0.2 -11 1.6 -7.5 3.2 -4.5 1.6 -5 1.3 -7 1.1 -36.7 3.6 -7.8 0.4 -19 0 -21.2-0.4 -18-0.8 -20.9-2.8 -10-1.5 -13-2.5 -8.2-2 -14.7-4.7 -2.7-0.5 -1 0.3 -0.8 0.5 -0.5 0.9 -0.1 1 0.5 2 3.1 8.5 1.1 4.7 0.1 1.8 -0.4 1.2 -0.7 1 -1.1 0.8 -3.2 0.9 -4.3 0.2 -2.1-0.4 -4.1-1.5 -3.6-0.7 -4.2-0.3 -14.2 0 -1.3-0.3 -0.6-0.7 -0.3-1.5 0.1-4 -0.9-4.5 0.5-8 0.8-1.7 2.9-4.5 3.1-6.3 1.2-1.1 1.7-0.3 18.8-0.3 1.5 0.4 1.7 1.8 1 0.2 22.9-5.9 8.9-1.7 9.8-2.8zM78.1 137.6l2.3 0.4 0.7 0.9 0.3 1.2 -0.1 7.8 -0.4 1.7 -0.9 0.8 -1.4 0.3 -18.5 0 0-13.1z"/>
<path fill="#12ef1c" d="M190.1 128.1l540.3 0 3.8 0.8 16.2 1.3 13.5 1.9 0 7.5 -1 0.3 -0.8 0.8 -0.5 1.1 -0.1 1.3 0.1 1.6 0.5 1.1 0.8 0.4 1 0.2 0 21.6 -2 0.3 -2 0.7 -9.9 5.6 -2.9 1.3 -18.5 3.5 -21.5 0.4 -12.5 1.4 -12.2 0.9 -10.5-0.1 -13.8-0.7 -7-0.8 -6.2-1.1 -4 1.3 -4.8-0.3 -3 0.6 -17.7-3.5 -15.5-1.9 -11-0.9 -8.5-0.4 -15 0.2 -6.6-0.9 -4.8-1.2 -7.9-2.7 -3.7-3 -18-8 -7-3.4 -7.7-1.9 -14.3-2.9 -8.5-1 -6-0.1 -5.8 1.3 -6.7 2.9 -8.8 4.7 -3.7 1 -4-0.4 -8.8-3.1 -6.5-1.6 -6.5-0.6 -9.2 0.2 -2.8-0.5 -6 1.3 -8.2 2.9 -4.3 0.5 -1.7 1 -1.5 0.2 -9.5-2.9 -6.3-1.3 -8.7-1.2 -11.3-0.9 -1.4-0.5 -2.1-1.4 -1-0.2 -6.2 1.7 -5.3 0.5 -6 3 -3.7 1.5 -4.8 1.5 -5 1 -6 0.8 -9 0.7 -11.7-0.1 -15.8 1.9 -4 0.2 -8-0.4 -42.5-0.4 -17-1.1 -24-3.7 -19-3.8 -4.7-1.2 -8.5-3.1 -4.8-1.5 -1.7-0.2 -1.5 0.2 -1.3 0.7 -0.9 1.1 -0.3 1.5 0.3 2.5 2.7 7.2 1.2 4.8 0.1 3 -0.4 0.8 -0.8 0.7 -2.1 0.7 -5.8 0.8 -10.2-1.5 -16.8-0.2 -1-0.3 -0.5-0.5 -0.3-1.5 0.1-4 -0.6-4.2 0.4-8 6.5-12.5 1.2-1.3 1.7-0.3 19-0.2 1.4 0.5 2.1 3.3 1 0.3 19.4-5.1 8.4-1.9 6.7-2.8 10.1-2.8zM78.1 137.7l2.1 0.4 0.7 0.8 0.2 1.2 0 7.5 -0.3 1.8 -0.9 0.8 -1.5 0.3 -18.3 0 0-12.8z"/>
<path fill="#34f10e" d="M194.1 128.2l80.7-0.1 3.8 0.7 14.5 0.6 3.8 0.6 2.2 0.7 1.3 0.9 0.8 1.3 0.2 1.2 -0.7 1.8 -1.6 1.3 -2 0.8 -5 1.3 -1.2 0.8 -0.2 1 0.3 4 -0.2 4.3 -0.8 3.7 -1 2.8 -1.3 2.2 -1.8 1.8 -2.3 1.2 -2.7 0.6 -3-0.1 -2.5-0.8 -2-1.3 -2.3-2.4 -1-0.3 -6.2 1.9 -3.8 0.8 -17.5 1.8 -17.5 0.1 -14-1 -9.7-1.7 -7-2.2 -3.3-1.8 -2.7-3.3 -4.3-1.7 -1.5 0.1 -3 1.7 -3 1 -3.5 0.4 -3.7-0.1 -4.5-0.8 -3.8-1.3 -2.7-1.7 -1.6-1.9 -0.7-2 0.3-2 1.2-1.8 2-1.4 2-0.7 2.8-0.5 8.2-0.1 0.8-0.6 0.6-1.9 0.8-1.2 2.8-2 4.3-1.5 10.2-2.3zM337.9 128.3l4 0.4 0.7-0.1 0.5-0.5 12.5 0 0.5 1.3 1.3 1.9 0.7 0.5 1 0.1 19-2.7 12.1-1.1 337.1 0 1.8 0.5 3.8 0.5 17.2 1.3 13.8 2 0 6.8 -1.3 0.5 -0.8 0.9 -1.7 6 -1.4 2.3 -1.8 1.9 -7 5.9 -12.5 7.7 -13.3 6.6 -15.2 6.2 -12.3 3.1 -13.2 1.4 -11.5 0 -14.5-0.9 -6.8-1 -6.2-1.6 -0.8 0.1 -1.5 1.3 -1.5 0.5 -5.2-0.5 -2.5 0.1 -18.8-3.9 -14.7-2 -11.8-0.8 -8.2-0.2 -13.8 0.2 -6.2-0.6 -5.3-1.3 -6.7-2.2 -3.8-2.3 -18-7.7 -8.2-4.1 -7.3-1.7 -15.8-3 -10.4-1.2 -5 0.3 -5.3 1.5 -6.2 2.8 -7.8 4.2 -2 0.7 -2 0.2 -3.5-0.3 -8-2.8 -7.2-1.8 -5.8-0.6 -9.7 0.2 -2.8-0.4 -5.8 1.2 -8.4 2.9 -2.3 0.3 -3.2-0.3 -1.7 1.1 -1.1 0.2 -9.2-3 -6-1.2 -8.8-1.2 -11.1-0.8 -1.2-0.5 -1.8-1.5 -2.1-0.7 -5.3 2.3 -6.2 0.8 -5.8 3.3 -5.5 2.1 -5 1.4 -5.7 0.9 -7.8 0.6 -9-0.1 -2.5-0.4 -2-0.8 -1.5-0.9 -1.1-1.2 -1.1-2.5 -0.1-1.5 0.4-1.5 1.5-2.8 2.9-2.6 3-1.9 17-9 8.8-5.1 3-1.2zM471.3 148.4l-10.4 3.1 -5.8 1 -5.4 0.4 -0.8 0.2 0 0.3 1.7 1 2.5 0.9 2.3 0.2 2.2-0.2 2.9-0.9 12.2-6zM77.9 137.9l2.2 0.4 0.6 0.8 0.2 1.5 0 7 -0.4 1.8 -0.9 0.7 -1.2 0.3 -18.3 0 0-12.5zM139.1 137.7l1.3 0.6 0.8 1.3 1 4 0.5 6 0 3.8 -0.5 15.5 -0.4 1.5 -1.2 0.9 -2.5 0.2 -9.7-1.1 -15.5-0.1 -1-0.2 -0.8-0.8 -0.6-10.9 0.3-5.8 0.7-2 2.6-4.6 3.1-6.4 0.9-1.2 1.5-0.5z"/>
<path fill="#62f50b" d="M207.7 128.1l53.1 0 1.4 0.5 2.7 0.4 12 1.2 18 0.9 3.5 1.1 0.9 0.9 0.2 1 -0.6 1.3 -1.5 0.9 -7 1.8 -1.4 0.8 -0.3 1 0.7 3.7 0 4 -0.4 3.5 -1 3.3 -1.3 2.5 -1.6 1.7 -2 1.1 -2.5 0.6 -2.5-0.2 -2.2-0.7 -1.8-1.3 -2-2.3 -1-0.4 -1.2 0.2 -4.8 1.9 -3.5 0.8 -16.7 2 -5.3 0.3 -14 0 -14-0.9 -10.5-1.9 -7-2.4 -1.5-0.8 -1.2-1 -1.3-2.7 -0.7-0.8 -5.1-2 -1.4 0.1 -2.8 2.1 -2.7 1.2 -3.5 0.6 -4 0 -4.8-0.8 -3.7-1.3 -2.8-1.8 -1.4-2.1 -0.2-1.5 0.4-1.5 0.9-1.2 1.3-1.1 2.3-0.9 2.7-0.5 9.5 0.1 0.8-0.6 0.8-2.8 1.3-1.7 2.6-1.5 3-0.8 1.8-0.1 1 0.4 -0.6 2.5 0.1 2.2 1 2 1.5 1.3 2.4 0.7 3.1 0.4 3.7-0.1 2.5-0.5 1.5-0.8 1.1-1.2 0.4-1.5 -0.1-1.8 -0.5-1.2 -0.9-1 -4.2-2.3 -0.1-0.5 1.5-0.7 2.6-0.7zM344.9 128.1l9.3 0 0.5 1.3 1.8 2.7 0.9 0.6 1.2 0.2 20.5-2.9 24.3-1.3 4.3-0.6 315.2 0 5.5 1.1 22.2 1.7 13.3 1.9 0 6 -1.3 0.4 -1 0.9 -2.1 5.8 -1.6 2.5 -1.8 1.9 -6.7 5.7 -12.5 7.7 -13.3 6.6 -14.7 6 -12.8 3.5 -13 1.5 -11.5 0 -14.7-1 -6.3-1 -7.2-2.2 -0.8 0.3 -0.7 1.2 -0.8 0.6 -1 0.3 -1.5-0.1 -3.2-0.7 -8.3-2.6 -14.7-4 -10.1-2 -4.9-0.6 -8.8-0.6 -5 0 -5.1 0.5 -11.4 1.8 -3 0.1 -4.5-0.6 -6-1.5 -13.2-4.5 -15.4-6.6 -7.4-3.8 -22.7-4.3 -11.6-1.9 -3.9-1.2 -2.5-0.5 -4 0.5 -11.5 3.6 -7.3 1.2 -5.5 0.1 -10-0.7 -9 0 -5.6 0.5 -8.6 1.5 -4.3 1.2 -5.2 1.9 -2.8 0.5 -3.2-0.4 -8.5-3.2 -4.7-1.2 -6.2-0.8 -17.9-1 -3.2-0.6 -3.8-1.1 -0.9 0.2 -2.3 1.6 -2 0.9 -6 0.8 -5.2 3.2 -4.5 2 -4.8 1.5 -5 1 -9 0.8 -9.3-0.3 -2.5-0.4 -2.2-0.8 -1.7-1 -1.1-1.3 -0.9-2.5 0.7-2.7 2-2.7 3.5-2.7 16.9-8.9 11.1-6.3 2.5-0.9 2.5-0.4 5.7 0.3 1.2-0.7zM662.4 136.4l-0.9 0.2 0.1 0.3 1.4 0.5 2.9 0.4 2.2-0.1 0.8-0.3 -2.3-0.8zM139.6 138l1 0.9 0.6 2 1 10.7 -0.3 12.3 -0.2 5 -0.4 1.2 -1.2 0.9 -1.5 0.1 -9.5-0.8 -15.7-0.1 -1.6-0.3 -0.7-1.3 0.1-4.2 -0.4-3.8 0.4-8.5 6.5-13 0.8-0.7 1.1-0.3zM77.6 138.1l2.2 0.3 0.7 0.7 0.2 1.3 0 7 -0.3 1.7 -0.8 0.8 -1.5 0.3 -18 0 0-12.1z"/>
<path fill="#90f808" d="M345.9 128.1l7.4 0 0.4 1.3 2.2 3.2 1 0.6 1.5 0.3 21.5-3 29.5-1.4 5.7-0.5 2.3-0.5 11.8 0 0.5 1 -0.2 0.5 -3.9 1.8 -0.3 0.5 0.4 0.5 1.7 1 2.9 1 2.6 0.5 4.2 0.3 3.3-0.2 3.2-0.6 2.7-1 1.3-1 0.1-0.5 -0.6-0.5 -3-0.9 -1.1-0.6 -0.5-0.8 -0.1-1 270.1 0 2.1 0.6 36 2.9 13.3 2.1 0 4.5 -1.5 0.5 -1.2 1.2 -2.2 5.7 -1.6 2.5 -1.8 1.9 -6.7 5.6 -12.3 7.6 -13.2 6.6 -14.8 6 -12.7 3.6 -13 1.6 -11.3 0 -14.7-1.1 -6.3-1.1 -8.2-2.6 -0.9 0.2 -0.3 1.5 -0.6 0.6 -1 0.3 -1.2 0 -25.3-7.3 -9.7-1.9 -5.8-0.9 -9-0.5 -5.2 0 -5.5 0.5 -10.8 1.8 -3 0 -4.2-0.4 -5.8-1.5 -14.1-4.7 -15-6.3 -7.3-3.7 -26-4.8 -4.8-1.3 -9.8-1.9 -3.7 0.3 -11.8 3.6 -7.5 1.4 -5.2 0 -7.3-0.6 -9.5-0.2 -8.1 0.5 -9.9 2.2 -8 2.6 -2.7 0.6 -3-0.4 -9.1-3.5 -4.7-1.3 -6-0.7 -15.2-0.9 -5-0.5 -1.8-0.3 -3.2-1.1 -1 0.2 -2.3 1.7 -1.8 0.9 -5.9 0.9 -4.9 3.3 -4.2 2 -4.7 1.6 -5 1 -9.2 0.8 -9.5-0.4 -2.5-0.4 -2.3-0.8 -1.6-1 -1.1-1.3 -0.6-2.2 0.7-2.5 1.9-2.4 3.2-2.5 17.4-9.1 10.1-5.9 2.8-1 2.5-0.4 6.2 0.3 1.4-0.8zM658.5 133.9l-2.1 0.7 -0.4 0.5 0 0.8 1.1 1.3 2.5 1 5.8 1 5.7 0.2 2.3-0.4 0.7-0.4 0.5-0.7 -0.1-1 -0.6-0.8 -2.8-1.2 -6.2-1zM702.9 137.6l-1.3 0.4 -0.6 0.9 0.4 1.2 0.9 0.8 2.3 0.7 2.8 0.3 1.7-0.1 0.9-0.7 0-0.5 -0.6-0.7 -2.5-1.6 -2-0.7zM228.6 129.4l26.3-0.1 24.5 2.1 14.2 0.7 3.1 0.8 0.6 0.5 0.3 0.7 -0.5 0.8 -1.3 0.7 -7.2 1.6 -1.4 0.9 -0.2 1 1.1 3.3 0.3 2.7 -0.2 4 -0.8 3.8 -1 2.5 -1.6 2 -1.9 1.2 -2.3 0.6 -2.2-0.1 -2-0.7 -1.8-1.3 -2-2.4 -1-0.4 -6 2.4 -3.7 1 -16.8 2 -5.5 0.3 -14 0 -14.2-0.9 -10-1.8 -7-2.4 -1.5-0.8 -1.1-1 -0.9-3 -0.6-0.7 -6.2-2.5 -1.2 0.1 -2.5 2.5 -2.5 1.3 -3.5 0.7 -4 0.1 -4.8-0.7 -4-1.4 -2.8-1.9 -0.8-1 -0.4-1.2 0-1.5 0.9-1.5 1.4-1.1 2-0.8 4.5-0.7 7.7 0.5 1.4-0.2 0.5-0.5 0.5-2.5 0.8-1.5 1.6-1.4 2-0.8 1.2 0 0.7 0.5 1.4 5 0.9 1.4 1.3 1 1.7 0.8 2.5 0.5 5.8 0.1 2.2-0.3 2-0.8 1.5-1 1.1-1.5 0.4-1.5 0-1.5 -1.7-4.5 0.1-0.5 0.6-0.4 2-0.4 5.3-0.4zM138.9 138l1 0.4 0.8 1.2 0.6 3.5 0.6 7.5 -0.3 13.3 -0.3 4.7 -0.3 1.3 -0.9 0.7 -1.7 0.2 -9.3-0.7 -15.7 0 -1.5-0.4 -0.5-0.6 -0.2-1.2 0.1-3.5 -0.3-5.8 0.4-6.2 0.5-1.5 5.5-11 1-1.3 1-0.3zM77.6 138.2l2 0.4 0.7 0.8 0.2 1.2 0 6.8 -0.4 1.7 -0.7 0.7 -1.3 0.2 -18 0 0-11.8z"/>
<path fill="#bdfb05" d="M347.1 128.1l5.2 0 0.5 1.5 2.3 3.3 1.3 0.8 1.5 0.3 22-3 38.2-2 3.3 0.1 1.6 0.5 0.1 1.8 0.3 0.8 0.8 0.9 1.6 1 4.9 1.8 5.7 0.6 3.5-0.1 3.3-0.5 2.5-0.8 2.3-1.2 1.4-1.3 0.4-1 -0.3-1 -1.4-1.5 0.1-1 110.5 0 -0.8 0.5 -1 0.2 -10.5 0.3 -4.8 0.6 -6.5 0.2 -3.4 0.5 -1.5 0.5 2 0.7 3.6 0.5 19.8 0.9 56 1.1 24.5 1.1 16.8 1.9 7 2 6.7 1.1 5.3 0.2 19 0 7.2-0.4 4.8 2.1 4.5 0.7 2-0.1 1.2-0.5 0.8-0.8 0.7-1.9 1.8-0.6 11.2-0.5 26.3 0.3 5.5-0.3 3.7-0.5 0.7 0.2 -2.3 6.5 -1.4 2.5 -1.7 2 -7 6 -12 7.4 -13.5 6.8 -14.8 6 -13 3.7 -12.7 1.6 -11.5 0 -15.3-1.2 -5.7-1.1 -7.5-2.7 -4.3-1 -0.5 0 -0.1 0.3 1.5 1.5 0.4 1 -0.5 0.5 -1.5 0 -24.8-7.1 -9.7-2 -5.5-0.8 -9-0.6 -5.5 0 -5.8 0.6 -10.7 1.8 -2.8 0 -4-0.4 -5.9-1.5 -14.1-4.8 -15-6 -7.2-3.6 -25.3-4.5 -1.7-0.5 -2-1.2 -11.8-1.9 -4 0.4 -11.7 3.6 -7.3 1.3 -5.2 0.1 -7.3-0.7 -10-0.2 -8.7 0.7 -10.5 2.6 -6.5 2.3 -2.5 0.4 -3-0.4 -8.5-3.4 -5.5-1.5 -6-0.7 -15-0.8 -5-0.5 -1.8-0.4 -3.7-1.4 -1 0.3 -2 1.7 -1.7 0.8 -1.8 0.5 -3 0.3 -1.3 0.4 -4.4 3.3 -3.8 2 -4.5 1.6 -5 1.1 -9.3 0.8 -9.7-0.3 -2.8-0.5 -2.2-0.8 -1.5-0.9 -1.1-1.2 -0.5-2.3 0.7-2.2 1.9-2.3 3.2-2.3 16.9-8.9 10.6-6.1 2.5-0.9 2.5-0.4 6.5 0.5 1.8-1zM586.8 160.6l-4.1 0.5 -6.6 1.5 -6 2 -2 1.3 2 0.1 4.8-1.4 5.2-1.1 7-0.5 7.3 0.1 15.3 1.8 -4.2-1.5 -7-1.8 -7.9-1zM227.9 130.6l27.7-0.1 35.5 3 1.5 0.2 0.7 0.4 -1 0.8 -5.9 1.3 -1.4 0.9 0 1.3 1.7 3 0.6 2.2 0 3.5 -0.4 3.8 -1 3 -1.3 2.2 -2 1.5 -2.2 0.6 -2-0.2 -2-0.8 -1.5-1.3 -1.5-2.2 -1-0.5 -6 2.7 -3.8 1.2 -5.5 0.9 -11.2 1.2 -6 0.4 -14 0 -14-0.9 -10.5-1.9 -7-2.4 -1.4-0.8 -0.8-1 -0.4-1 0-2.2 -0.5-0.8 -7.4-2.9 -1.3 0.1 -1.9 2.8 -2.1 1.4 -3 0.9 -4 0.3 -5-0.5 -4.2-1.3 -3-1.8 -0.9-1 -0.5-1.2 0.1-1.5 0.8-1.3 1.5-1.1 2.2-0.8 5.3-0.5 7 0.7 1.7-0.1 0.7-0.7 0.1-2.2 0.6-1.5 1.1-1.1 1.5-0.6 0.8 0.1 0.5 0.6 1.2 3.5 0.9 1.7 1.1 1.1 1.3 0.8 2.2 0.8 3.3 0.4 3.7 0 3-0.3 2-0.6 1.5-0.9 1.4-1.3 0.9-1.2 0.5-2.3 -1-4.5 0.2-0.6 0.6-0.4 5.2-0.5zM139.1 138.2l1 0.7 0.5 1.2 0.4 3.3 0.6 9.7 -0.5 15.3 -0.5 1.5 -1 0.6 -1.5 0.1 -9.7-0.6 -15-0.1 -1.5-0.4 -0.6-1.4 0.2-3.7 -0.3-3.8 0.4-8.2 0.5-1.5 6-11.8 0.8-0.6 1-0.2zM77.4 138.4l2 0.3 0.6 0.7 0.3 1.2 0 6.5 -0.3 1.8 -0.9 0.7 -1.2 0.2 -17.8 0 0-11.4z"/>
<path fill="#e9fe02" d="M348.4 128.2l2.4-0.1 0.7 1.8 2.6 3.2 1.5 0.9 2 0.4 22.3-3 40-1.8 1.7 0.5 1.5 2.9 2.8 1.9 4.7 1.6 5.5 0.7 3.3-0.1 3.2-0.4 2.9-0.8 2.2-1 1.7-1.3 1-1.3 0.3-1.2 -0.3-1.7 0.5-1.3 89.3 0 -4.1 0.3 -9.8 1.5 -1.4 0.4 -0.4 0.6 0.5 0.5 1.1 0.5 3.3 0.6 13 1.1 23.2 0.9 46.3 0.9 24 1.1 15.4 1.9 9.8 2.1 5 0.7 11.5 0.7 14.3 0.1 6.2-0.4 5 1.6 2.8 0.4 2.5-0.1 2.2-0.5 1.3-0.9 1.2-1.5 1-0.5 8.8-0.8 25.2 0.4 10.3-0.3 1 0.2 0.3 1.3 -0.3 2 -1.1 2.2 -1.6 2.5 -1.8 1.9 -6.5 5.4 -12.8 7.8 -12.5 6.2 -15 6.1 -12.5 3.6 -13 1.7 -10 0 -6.7-0.4 -8.8-0.7 -5-0.9 -3.7-1.1 -32.8-11.8 -10.8-3 -9.9-1.9 -6-0.5 -5.5 0.5 -8 1.6 -10 3.4 -2.5 0.3 -2.5-0.1 -13.3-3.6 -4.2-0.6 -2.8-0.1 -2.1-0.5 -11.9-4 -8.2-3.8 -24.8-4.3 -1.5-0.4 -2.2-1.6 -4.5-0.4 -7.8-1.4 -4.1 0.4 -11.6 3.6 -7.3 1.3 -5 0.1 -7.5-0.7 -9.7-0.1 -8.8 0.6 -11 2.8 -6.3 2.1 -2.7 0.4 -2.7-0.4 -8.5-3.4 -5-1.4 -6.5-0.8 -15-0.8 -5-0.5 -2-0.5 -3-1.6 -1.3-0.2 -1 0.4 -3 2.2 -6 1.8 -4.2 3.3 -3.5 2 -4.3 1.6 -4.9 1.2 -9.1 0.9 -10.5-0.4 -2.7-0.5 -2.3-0.7 -1.5-0.9 -0.9-1.2 -0.5-2 0.8-2.2 2-2.3 3.1-2.1 16.4-8.6 10.6-6.2 2.5-0.8 2.8-0.5 2 0.1 3.5 0.6 1.7-0.1 1.3-0.5 1-0.8 0.7-1.1zM228.9 132.2l25 0.4 9 0.5 4 0.7 6.5 2.6 7.2 1.3 1.8 0.9 1.5 1.2 1.5 1.9 0.6 2.2 0.1 3.7 -0.6 3.8 -0.8 2.2 -1 1.5 -1.3 1.2 -1.5 0.5 -2 0 -1.8-0.7 -1.3-1.2 -1.7-2.7 -0.7-0.4 -1 0.3 -5.3 3.1 -5 1.6 -8.7 1.2 -13.5 1.1 -14.8 0 -14-0.9 -10.2-1.9 -5.3-1.8 -2.2-1.1 -0.7-0.8 -0.3-1 0.6-2.7 -0.1-0.8 -1-0.9 -3.5-1.6 -0.9-0.7 7.1 0 4.8-0.6 2.7-1.1 4-3 1.8-0.7 8.5 0.6 7.7-0.4 5.4-0.8 7.3-1.8 6.1-2 1.4-0.7 -0.4-0.3 -2-0.2 -6.8 0.4 -16.5 1.2 -9.7 1.4 -1-0.1 -1-0.6 -1.1-1.8 0.2-1.3 1.1-0.5zM180.1 136.6l0.5 0.1 0.5 0.5 1.6 3.7 2.3 3 -2.4-0.1 -0.7 0.2 -0.6 2.6 -0.5 1.3 -1.2 1.1 -1.5 0.9 -2.2 0.6 -3 0.4 -3.3-0.1 -3.2-0.5 -2.8-0.8 -2.5-1.1 -1.7-1.3 -0.8-1.2 -0.2-1.5 0.7-1.5 1.5-1.1 2.5-0.8 5.8-0.4 8 1.1 1.8-0.1 0.4-0.5 -0.4-2.2 0.2-1 0.5-0.9zM138.9 138.4l0.9 0.5 0.5 1 1 11.2 -0.2 12.8 -0.3 4.7 -0.3 1 -0.9 0.6 -1.5 0.1 -10-0.5 -14.7 0 -1.3-0.3 -0.5-0.6 -0.1-1.3 -0.1-9.2 0.4-6 6.1-12.8 0.7-0.8 1-0.3zM77.4 138.6l1.8 0.3 0.7 0.7 0.2 1 0 6.5 -0.2 1.5 -0.8 0.8 -1.2 0.2 -17.8 0 0-11zM585.9 164.4l6.2-0.1 4.2 0.3 11.9 2 11.9 3 12.4 5 -19.6-5.1 -13.3-2.5 -14.5-0.8 -11 0.9 -0.6-0.2 4.8-1.5z"/>
<path fill="#ffe500" d="M452.9 128.3l77.6-0.2 -6.6 1.4 -1 0.6 -0.1 0.8 0.9 1 2.4 0.8 10.3 1.3 29.7 1.4 47 0.9 23.5 1.3 7.5 1 6 1.2 3.8 1.2 5.8 2.6 3.9 1 3 0.3 7.3-0.5 11.7 0 4.5 0.6 7.5 1.7 3.2-0.3 9.3-2.6 1.5-0.7 2-1.7 1.3-0.5 7-1 6.7-0.1 19 0.6 10-0.2 1.3 0.4 0.2 1 -0.7 2.5 -2.3 3.5 -7.2 6.5 -11.8 7.4 -13.7 6.9 -14.6 6 -12.4 3.6 -12.3 1.8 -9.2 0.1 -14.8-0.8 -4.5-0.5 -4.5-0.9 -33.6-12.3 -9.6-2.8 -9.3-2 -8.7-1 -5.8 0.3 -8.2 1.6 -10.3 3.3 -2.5 0.3 -2.5-0.1 -3.5-0.7 -19.1-5.4 -10.9-2.5 -3.5-1.2 -3.7-1.9 -2-0.6 -24.5-4.2 -1.3-0.4 -2.5-1.6 -5-0.5 -6.7-1.3 -2.3-0.1 -2.5 0.3 -12 3.7 -7.2 1.3 -4.8 0.1 -7.5-0.7 -9.7-0.1 -8.5 0.6 -3.3 0.6 -7.7 2.1 -6.8 2.3 -2.7 0.3 -2.5-0.4 -8.5-3.4 -5.8-1.5 -6.2-0.7 -15.3-0.8 -5.5-0.8 -1.7-0.8 -4.2-2.8 -0.7-1.3 -0.5-2.2 0.1-4 0.6-1.3 0.9-0.5 5.3 0.2 21.5-3 37.5-1.8 2.7 0.4 0.6 0.5 1.1 2 1.1 1 2 1.3 3 1.2 2.7 0.7 3.3 0.5 6-0.1 5-1 3.5-1.8 1.8-1.8 0.5-1.3 0.4-2zM337.4 131.4l3.2 0.1 4.8 1.1 1.1 0.5 0.8 1 0.7 1.8 0.8 4.5 -0.2 4 -1.1 3 -1 1 -3.1 1.8 -4.1 3.4 -3.7 2 -4.3 1.5 -4.7 1.1 -6.2 0.6 -5.8 0.1 -8.5-0.6 -3.5-1 -1.9-1.7 -0.5-1.7 0.5-2 1.4-1.9 2.5-2 18.5-9.8 9-5.3 2.7-1zM256.1 135.1l5-0.2 3.8 0.3 3.2 0.8 2.8 1.3 2.8 2.3 2.4 3 0.2 2.3 -0.8 2.2 -1.9 2.5 -3 3 -2.2 1.5 -3 1.3 -3.4 1 -4.1 0.7 -16.3 1.6 -16.5 0 -14.5-1 -7.7-1.4 -3.6-0.9 -4.7-1.8 -1-0.7 -0.5-0.8 -0.1-0.7 0.4-1 3-3.4 8.5-2.7 2-0.4 8.5-0.3 6.7-1 5.6-1.2 17.7-4.9zM138.1 138.5l1 0.1 0.8 0.8 0.7 4.2 0.5 9 -0.5 15.8 -0.3 1 -0.6 0.5 -2.1 0.2 -9.5-0.5 -14.7 0 -1-0.2 -0.6-0.5 -0.2-10.8 0.3-5.2 0.5-1.6 6-12 1.5-0.6zM77.4 138.9l1.7 0.2 0.5 0.6 0.3 1.2 0 6.2 -0.3 1.4 -0.6 0.6 -1.1 0.3 -17.8 0 0-10.5zM164.6 141.1l6 0 7.5 1.6 1.3 0.7 1 1 0.4 1.2 -0.1 1.5 -0.8 1.2 -1.3 0.9 -1.7 0.7 -2.5 0.5 -5.3 0 -5.5-1.3 -2.2-1 -1.5-1 -0.9-1.2 -0.2-1.3 0.4-1.2 1.2-1.1 1.7-0.7z"/>
<path fill="#ffb100" d="M466.6 128.3l0.4-0.2 57.9 0 -2 1 -0.9 0.8 -0.2 1 0.6 0.9 1.2 0.8 1.5 0.6 5.5 0.9 25 1.6 36.8 1.1 16.2 0.1 27.3 1.5 7.7 1 5.5 1.3 3.8 1.3 6.4 2.9 4.3 1.1 3.3 0.2 7-0.5 11.5 0 4.5 0.6 5.5 1.4 2.2 0.3 2.5-0.1 2.8-0.8 8-3 4.5-2.6 5.7-0.9 6.5-0.3 19.3 0.7 10-0.1 1.2 0.3 0.4 0.9 -0.6 2.1 -2.1 3.2 -7.4 6.5 -11.5 7.2 -14.6 7.3 -13.9 5.7 -12.3 3.5 -12 1.8 -10.2 0.1 -14.8-0.9 -7.5-1.2 -33.7-12.4 -9.8-2.8 -9.2-2.1 -8.8-0.9 -6 0.3 -8.2 1.5 -10.5 3.3 -2.3 0.3 -2.5-0.1 -3.7-0.8 -22.5-6.6 -9.5-2.3 -6.8-2.5 -24.5-4.1 -1.2-0.4 -1.8-1.3 -1-0.4 -5-0.4 -6.7-1.4 -2.3-0.1 -2.5 0.3 -11.7 3.6 -7.5 1.4 -4.8 0.1 -7.5-0.7 -9.5-0.1 -8.7 0.6 -3.3 0.6 -8 2.2 -6.4 2.2 -2.8 0.3 -2.5-0.4 -9-3.6 -5-1.2 -6.3-0.8 -15.5-0.8 -5.4-0.8 -2.1-1.1 -2.4-2.4 -0.9-1.7 -0.5-2 0-2 0.3-1.3 0.8-0.9 1-0.3 3.7-0.2 20.8-3 38-1.8 2.3 0.5 2.9 3.5 2.3 1.3 2.7 1.1 2.8 0.8 3 0.4 6.2 0 5-0.9 3.5-1.6 2.5-2.4 1.3-3.2 1.5-0.9 2.5-0.4zM336.9 131.9l3.7 0.1 3.1 0.9 1.5 0.7 0.8 1 0.7 1.5 0.7 4.5 -0.2 3.8 -1.2 3 -7.4 6.2 -3.3 1.8 -4.3 1.5 -4.7 1 -5.7 0.6 -5.7 0 -8.5-0.6 -3.5-1 -1.8-1.4 -0.5-1.6 0.5-1.8 1.3-1.7 2.5-2 18.5-9.9 8.8-5.1 2.3-1zM257.6 135.9l5.5 0 3.8 0.6 3.2 1.4 2 2 0.8 1.5 0.6 2 0.1 1.7 -0.2 1.8 -0.7 2 -1 1.7 -2.5 2.5 -2.3 1.3 -3 1.1 -7.8 1.4 -15 1.4 -15.2 0 -14-0.8 -8.8-1.5 -7.5-2.4 -1.3-0.7 -0.7-1 0.4-1.3 1.6-1.3 2.5-1.3 2.8-0.8 6-1.2 8.7-0.9 4.5-0.7 6.3-1.5 18.5-5.4 4.7-0.8zM119.9 138.9l18-0.2 1.2 0.2 0.5 0.5 0.7 4 0.6 8.2 -0.6 16.5 -0.2 1 -0.5 0.5 -2 0.2 -9.7-0.4 -14.3 0 -1-0.1 -0.5-0.4 -0.3-1.3 0.1-9.2 0.4-6.3 5.8-12.2 0.8-0.8zM77.1 139.1l1.8 0.2 0.5 0.6 0.2 1.2 0.1 5.8 -0.3 1.5 -0.5 0.5 -1.3 0.2 -17.5 0.1 0-10.1zM166.1 141.4l5.5 0.3 5.9 1.4 1.4 0.8 1 1 0.4 1 -0.1 1.2 -1.1 1.3 -2 1 -2.7 0.6 -3.5 0.1 -3.8-0.4 -3-0.8 -2.7-1.2 -1.6-1.3 -0.6-1.8 0.3-1 0.8-0.7 2.3-1.1z"/>
<path fill="#ff7e00" d="M472.4 128.4l8.3-0.3 41.7 0 -1.2 1.5 -0.2 0.8 0.2 1 0.7 1 3 1.3 5.5 1 18.5 1.4 17.2 0.7 26.5 0.8 15.5 0 27.5 1.5 7.3 1 5.7 1.3 4 1.4 6 2.8 4.8 1.3 3.5 0.2 7.2-0.6 11.3 0.1 4.2 0.5 5.5 1.5 2.5 0.3 2.5-0.1 2.5-0.7 8.3-3.3 4.7-2.7 5.3-1 6.7-0.2 19 0.7 9.5-0.1 1.3 0.3 0.4 0.8 -0.7 2 -1.9 2.8 -7.6 6.5 -11.2 7 -14.7 7.2 -13.5 5.5 -12.1 3.5 -12 1.9 -10.5 0.1 -14.8-1 -7.2-1.2 -33.5-12.4 -9.7-2.7 -9.3-2.1 -9-1 -6 0.3 -8.2 1.5 -10.5 3.3 -2.3 0.3 -2.5-0.2 -3.7-0.8 -22.3-6.6 -10.2-2.7 -5.8-1.9 -24.5-4 -1.5-0.5 -2.7-1.6 -5-0.5 -7-1.5 -2.3-0.1 -2.5 0.3 -11.7 3.6 -7.5 1.4 -4.8 0.1 -7.5-0.7 -9.2-0.1 -8.8 0.7 -10.5 2.5 -7.5 2.4 -2.7 0.3 -2.5-0.4 -9-3.6 -5-1.2 -6.5-0.7 -14.8-0.7 -5.5-0.8 -1.8-0.9 -1.7-1.8 -1.3-2.2 -0.5-2.3 0.2-2.5 0.6-0.7 0.8-0.4 22.2-3.1 39.5-2 2.3 0.5 2 2.5 1.2 1.1 4.8 2.3 2.7 0.7 3 0.5 6.3 0.1 5.2-1 3.5-1.5 2.4-2 0.9-1.2 1-2.3 1.2-0.8 2.3-0.3 10.2-0.1zM336.6 132.4l3.8 0 2.2 0.7 1.8 1 0.9 1 0.5 1.3 0.7 4.2 -0.1 3.4 -1.1 2.9 -4.8 4.7 -2.3 1.8 -3.3 1.7 -4.5 1.5 -4.3 0.9 -5.5 0.5 -5.5 0.1 -8.5-0.7 -3.2-0.8 -1.3-0.7 -0.6-0.8 -0.4-1.5 0.5-1.5 1.5-1.7 2.3-1.8 17.7-9.4 9.3-5.4 2.1-0.9zM257.1 136.6l5.3 0 3.5 0.4 3 1.1 2.1 1.8 1.3 3 0.3 3.5 -1.2 3.5 -1 1.5 -1.3 1.2 -2.2 1.3 -2.8 1 -7.9 1.5 -15.1 1.4 -14.7 0.1 -14-0.9 -8.5-1.4 -7-2 -1.8-0.8 -0.7-0.9 0.4-1 1.1-0.8 5.2-1.9 5.8-1.1 8.2-0.8 4.8-0.8 6.5-1.6 17.8-5.5 4.7-0.9zM119.6 139.1l18-0.2 1.3 0.2 0.5 0.5 0.6 3.8 0.6 8.5 -0.5 16 -0.2 1 -0.5 0.5 -2 0.2 -9.5-0.4 -14.3 0 -0.7-0.1 -0.6-0.5 -0.2-10.2 0.5-6.3 5.5-11.7 0.8-1zM76.9 139.4l1.7 0.2 0.5 0.5 0.3 1.2 0 5.6 -0.3 1.2 -0.5 0.5 -1.2 0.2 -17.3 0.1 0-9.5zM165.1 141.9l5.5 0 5.8 1.4 1.7 0.8 1 0.8 0.6 1.2 -0.1 1 -1 1.2 -1.9 0.8 -2.8 0.5 -3 0.1 -3.1-0.3 -3.2-0.8 -2.5-1 -1.7-1.2 -0.8-1.5 0.2-0.8 0.6-0.7 1.9-1z"/>
<path fill="#ff5500" d="M485.3 128.1l35.7 0 -0.7 1.8 -0.1 1 0.5 1.2 0.9 1 3.3 1.4 5.5 1 18.2 1.3 17.5 0.8 26.5 0.8 15.5 0 27.5 1.6 7.8 1.1 5.2 1.2 3.7 1.3 6.1 2.8 5 1.3 3.5 0.3 7.2-0.6 11 0 4.3 0.6 5.7 1.5 2.3 0.3 2.7-0.1 2.8-0.7 7.2-3 5.8-3.1 2.2-0.7 3-0.4 6.8-0.3 18.7 0.8 8.5 0 1.5 0.3 0.3 0.8 -0.8 1.7 -1.7 2.2 -7.5 6.3 -10.9 6.8 -15.2 7.5 -13 5.2 -12.1 3.5 -11.6 1.8 -10.7 0.1 -13.7-0.9 -7.7-1.2 -3.9-1.3 -13.7-5.4 -15.8-5.7 -10.7-3 -9-2 -8.8-0.9 -5.7 0.2 -8.8 1.7 -10 3.1 -2.2 0.4 -2.5-0.2 -4.4-0.9 -37.9-11.1 -24.2-3.9 -1.5-0.5 -1.8-1.2 -1.2-0.4 -5-0.4 -7-1.7 -2.5-0.1 -2.5 0.4 -11.9 3.6 -6.9 1.3 -5.2 0.1 -9.8-0.7 -9.2 0 -5.5 0.5 -4 0.7 -6.8 1.8 -8.2 2.6 -2.5 0.2 -2.5-0.5 -8.8-3.4 -5-1.2 -6.5-0.7 -14.7-0.7 -5.5-0.9 -1.7-0.8 -1.3-1.5 -1.1-2 -0.5-2.3 0.2-2 0.4-0.5 0.9-0.5 21.6-3.1 39.2-1.9 1.8 0.3 3.2 3.5 2.3 1.3 2.5 1 5.5 1.3 6.7 0.2 5.3-0.9 3.7-1.5 2.5-1.9 1.2-1.5 1.2-2.3 1.1-0.6 11.8-0.3 5.2-0.5 9.5 0 2.3-0.5zM337.4 132.9l3.4 0.2 1.8 0.8 1.3 1 1.2 2.4 0.6 4.3 -0.3 2.8 -1 2.3 -4.2 4.4 -2.7 2 -3.5 1.8 -3.8 1.2 -3.6 0.8 -5.7 0.5 -5.8 0.1 -8.2-0.6 -3.1-0.8 -1.7-1.2 -0.3-1.3 0.5-1.5 1.4-1.5 2.4-1.7 17.3-9.1 9.2-5.5 2.3-0.9zM257.6 137.4l5 0 3.3 0.4 2.6 1.1 1.7 1.5 1.2 2.7 0.3 3.3 -1.1 3.3 -0.9 1.4 -1 1 -2.2 1.3 -2.7 1 -6.4 1.2 -16 1.6 -14.3 0.1 -11.7-0.6 -5.8-0.6 -9.4-2 -3.5-1.2 -1.1-1 0.3-0.7 1-0.6 4.7-1.5 5.2-1 8.1-0.8 5-0.9 7-1.7 13.8-4.6 3.7-1 4.7-0.8zM120.1 139.4l17.5-0.2 1 0.2 0.5 0.5 0.5 3.5 0.6 8.5 -0.5 16 -0.6 1.1 -1.7 0.2 -23.5-0.3 -1.3-0.4 -0.2-1.1 0.1-9 0.4-6 5.5-11.9 0.7-0.9zM76.9 139.8l1.5 0.2 0.5 0.6 0.1 0.8 -0.1 6.2 -0.5 0.6 -1 0.2 -17.3 0.1 0-8.7zM165.6 142.4l5 0.1 5 1.1 2.8 1.5 0.5 0.8 0.1 1 -0.8 1 -1.8 0.8 -3 0.4 -3 0 -3.7-0.5 -2.6-0.7 -2.2-1 -1.3-1.1 -0.3-1.2 0.8-1.1 1.8-0.7z"/>
<path fill="#ff3600" d="M498.9 128.1l20.9 0 -0.5 1.8 0 1.2 0.5 1.3 1.1 1.2 1.5 0.9 2 0.8 5.5 1 18.7 1.5 17.5 0.7 26.5 0.8 15.3 0.1 28.2 1.6 6.2 0.9 5.5 1.2 3.8 1.3 7.5 3.3 3.3 0.9 3.2 0.4 8.5-0.6 10.8 0 4.2 0.5 6.5 1.7 3.3 0.2 2.5-0.4 3-0.9 6.2-2.7 5.8-3.2 4.2-1 7-0.3 18.8 0.8 7.5 0.1 1.3 0.2 0.4 0.7 -0.5 1.1 -1.2 1.6 -5.5 4.8 -10 6.5 -4 2.3 -11 5.5 -9.4 4 -7.1 2.7 -12.6 3.5 -10.4 1.5 -10.5 0.1 -13.6-0.8 -7.6-1.3 -33.6-12.4 -10.5-2.9 -9.2-2 -8.8-1 -5.7 0.3 -9 1.7 -9.9 3.1 -2.1 0.3 -2.3-0.1 -4.4-1 -37.3-10.9 -7.8-1.5 -17.2-2.6 -4.3-1.8 -4.7-0.5 -7.3-1.8 -2.7-0.1 -2.8 0.3 -11.7 3.7 -6.9 1.2 -5.1 0.1 -9.8-0.7 -9.2 0 -5.5 0.5 -6 1.3 -7.5 1.9 -5.5 1.9 -2.3 0.3 -2.6-0.5 -8.6-3.4 -5-1.2 -6.8-0.8 -14.8-0.6 -4.9-0.8 -1.5-0.7 -1.1-1 -0.9-2 -0.5-2.3 0.2-1.6 1.3-0.7 21.2-3.2 38.3-1.8 1.7 0.5 2.1 2.3 1.7 1.3 4.5 2.1 5.5 1.3 6.5 0.2 5.5-1 4-1.5 2.7-2.1 2.5-3.5 1-0.6 25.8-0.6 5.7-0.7 9.3-0.1 2-0.5zM337.6 133.6l3 0.3 1.5 0.7 1.1 1 1.1 2.8 0.4 4 -0.5 2.5 -1.2 2 -3.4 3.7 -3.1 2.3 -3.1 1.5 -4.1 1.2 -3.9 0.7 -4.5 0.4 -5.5 0 -8.3-0.6 -3-0.7 -1.3-1 -0.1-1 0.6-1.3 1.6-1.5 1.8-1.2 16.9-8.9 9.6-5.6 1.9-0.8zM256.6 138.4l4.8-0.2 3.2 0.4 2.7 0.8 1.8 1.2 1.3 2.4 0.4 2.9 -0.7 2.9 -1.5 2.3 -1.3 1 -2.2 1 -4.6 1.3 -12.3 1.5 -9.1 0.6 -14 0 -13.1-0.9 -9.9-1.7 -3.2-1 -1-0.5 -0.4-0.5 0.4-0.5 1.1-0.5 4-1 4.4-0.8 9.5-1.1 7.2-1.5 5.3-1.5 12-4.1 3.9-1 4.2-0.8zM138.1 139.7l0.5 0.3 0.3 0.6 0.8 10.5 -0.2 12.5 -0.5 4.8 -0.6 0.3 -1.3 0 -24-0.4 -0.3-1.2 0.5-14.5 5.6-12.1 0.7-0.6 0.8-0.1zM77.9 140.5l0.4 0.4 0.2 0.7 -0.1 5.6 -0.5 0.5 -1 0.2 -16.8 0 0-7.6zM164.9 143.1l5 0 4.2 0.8 3 1.2 0.9 0.8 0.1 0.7 -0.7 0.9 -1.7 0.6 -5.3 0.3 -5.7-1 -2.3-1 -1-0.9 -0.2-0.6 0.4-0.8 1.3-0.6z"/>
</g>
<path fill="#fff" fill-rule="evenodd" d="M58 126 H766 V214 H58 z M66 141.3 L131 141.6 L160 139.5 L191.7 137.5 L253 135 L300 133.3 L370 132.4 L480 132.4 L523 132.6 L570 133 L640 134.2 L706.7 138.7 L757 141 L757 144.7 L757 144.7 L741.7 144.7 L741.7 147.5 L741.7 147.5 L726.7 147.5 L726.7 151.7 L726.7 151.7 L712.5 151.7 L712.5 155.8 L712.5 155.8 L697.5 155.8 L697.5 160 L697.5 160 L682.5 160 L682.5 164.5 L682.5 164.5 L667.5 164.5 L667.5 168.7 L667.5 168.7 L652.5 168.7 L652.5 173.2 L652.5 173.2 L638.3 173.2 L638.3 177.2 L638.3 177.2 L622.5 177.2 L622.5 181.7 L622.5 181.7 L608.3 181.7 L608.3 186.7 L608.3 186.7 L593.3 186.7 L593.3 191.7 L593.3 191.7 L579.2 191.7 L579.2 195.8 L579.2 195.8 L563.3 195.8 L563.3 200.8 L563.3 200.8 L548.3 200.8 L548.3 205 L548.3 205 L533 205 L533 206.8 L289 206.8 L289 205.5 L274 205.5 L274 201.4 L259 201.4 L259 196.7 L244 196.7 L244 192 L229 192 L229 187.5 L214.5 187.5 L214.5 183.3 L200 183.3 L200 179.5 L185 179.5 L185 175 L170 175 L170 170.8 L155.5 170.8 L155.5 166.7 L139.5 166.7 L139.5 163.7 L125 163.7 L125 159 L111 159 L111 155 L95.5 155 L95.5 150 L81 150 L81 145.8 L66 145.8 z"/>
<path fill="#101810" opacity="0.8" d="M403 152.5 L409 151 L418 152.3 L421 155.5 L412 157.2 L405 156.6z"/>
<path fill="#101810" opacity="0.55" d="M421 151 L436 150.5 L440 152.6 L428 153.6z"/>
<path fill="#101810" opacity="0.6" d="M486 147 L492 147.5 L503 152 L510 155.3 L500 153.6 L490 150.8z"/>
<path fill="#101810" opacity="0.6" d="M82 143 L90 142 L96 143.5 L90 146 L86 150 L82 149z"/>
<path fill="#101810" opacity="0.7" d="M106 143 L113 142.3 L116 144 L111 149.5 L109.5 156 L106.5 153z"/>
<path fill="none" stroke="#3d4350" stroke-width="1.8" stroke-linecap="round" stroke-linejoin="round" opacity="0.85" d="M488 150 L502 154.3 L527 160.5 L552 171.7 L578 175 L613 178.3 L640 181"/>
<path fill="none" stroke="#3d4350" stroke-width="1.8" stroke-linecap="round" stroke-linejoin="round" opacity="0.85" d="M484 198 L502 200.7 L524 199 L547 196.5 L593 200.8"/>
<path fill="none" stroke="#52649a" stroke-width="1.7" stroke-linecap="round" stroke-linejoin="round" opacity="0.95" d="M205 180 L230 187 L262 193.5 L300 198 L335 199.3 L362 194 L380 190.5 L400 189.5 L432 189.8 L456 190.5 L470 194.5 L484 198"/>
<rect x="111.2" y="153.8" width="8.5" height="6.4" fill="#fff" stroke="#888" stroke-width="0.3"/><text x="115.5" y="158.8" font-size="5" text-anchor="middle" fill="#333">110</text><rect x="155.5" y="154.8" width="4" height="6.4" fill="#fff" stroke="#888" stroke-width="0.3"/><text x="157.5" y="159.8" font-size="5" text-anchor="middle" fill="#333">3</text><rect x="242.5" y="143.3" width="7" height="6.4" fill="#fff" stroke="#888" stroke-width="0.3"/><text x="246" y="148.3" font-size="5" text-anchor="middle" fill="#333">10</text><rect x="218" y="175.3" width="8" height="6.4" fill="#fff" stroke="#888" stroke-width="0.3"/><text x="222" y="180.3" font-size="5" text-anchor="middle" fill="#333">1.8</text><rect x="305" y="179.3" width="8" height="6.4" fill="#fff" stroke="#888" stroke-width="0.3"/><text x="309" y="184.3" font-size="5" text-anchor="middle" fill="#333">0.9</text><rect x="323" y="142.3" width="7" height="6.4" fill="#fff" stroke="#888" stroke-width="0.3"/><text x="326.5" y="147.3" font-size="5" text-anchor="middle" fill="#333">15</text><rect x="358.5" y="140.8" width="7" height="6.4" fill="#fff" stroke="#888" stroke-width="0.3"/><text x="362" y="145.8" font-size="5" text-anchor="middle" fill="#333">20</text><rect x="374.2" y="170.8" width="4.5" height="6.4" fill="#fff" stroke="#888" stroke-width="0.3"/><text x="376.5" y="175.8" font-size="5" text-anchor="middle" fill="#333">1</text><rect x="416.5" y="171.8" width="8" height="6.4" fill="#fff" stroke="#888" stroke-width="0.3"/><text x="420.5" y="176.8" font-size="5" text-anchor="middle" fill="#333">0.6</text><rect x="431.5" y="140.3" width="7" height="6.4" fill="#fff" stroke="#888" stroke-width="0.3"/><text x="435" y="145.3" font-size="5" text-anchor="middle" fill="#333">10</text><rect x="488" y="136.3" width="7" height="6.4" fill="#fff" stroke="#888" stroke-width="0.3"/><text x="491.5" y="141.3" font-size="5" text-anchor="middle" fill="#333">15</text><rect x="508" y="176.3" width="8" height="6.4" fill="#fff" stroke="#888" stroke-width="0.3"/><text x="512" y="181.3" font-size="5" text-anchor="middle" fill="#333">0.7</text><rect x="581.4" y="150.3" width="4.2" height="6.4" fill="#fff" stroke="#888" stroke-width="0.3"/><text x="583.5" y="155.3" font-size="5" text-anchor="middle" fill="#333">2</text><rect x="657.9" y="149.8" width="4.2" height="6.4" fill="#fff" stroke="#888" stroke-width="0.3"/><text x="660" y="154.8" font-size="5" text-anchor="middle" fill="#333">2</text>
<line x1="26" y1="133.6" x2="26" y2="281" stroke="#333" stroke-width="1"/>
<line x1="21.4" y1="135" x2="26" y2="135" stroke="#333" stroke-width="1"/>
<text class="b" x="20.6" y="138.3" font-size="8.9" text-anchor="end">50</text>
<line x1="21.4" y1="164.2" x2="26" y2="164.2" stroke="#333" stroke-width="1"/>
<text class="b" x="20.6" y="167.5" font-size="8.9" text-anchor="end">40</text>
<line x1="21.4" y1="193.4" x2="26" y2="193.4" stroke="#333" stroke-width="1"/>
<text class="b" x="20.6" y="196.7" font-size="8.9" text-anchor="end">30</text>
<line x1="21.4" y1="222.6" x2="26" y2="222.6" stroke="#333" stroke-width="1"/>
<text class="b" x="20.6" y="225.9" font-size="8.9" text-anchor="end">20</text>
<line x1="21.4" y1="251.8" x2="26" y2="251.8" stroke="#333" stroke-width="1"/>
<text class="b" x="20.6" y="255.1" font-size="8.9" text-anchor="end">10</text>
<line x1="21.4" y1="281" x2="26" y2="281" stroke="#333" stroke-width="1"/>
<text class="b" x="20.6" y="284.3" font-size="8.9" text-anchor="end">0</text>
<line x1="26" y1="281" x2="768" y2="281" stroke="#2424b4" stroke-width="2.2"/>
<rect x="53" y="129" width="4.4" height="1.3" fill="#222"/>
<line x1="65.6" y1="210.5" x2="112.5" y2="210.5" stroke="#777" stroke-width="0.8"/>
<line x1="124.7" y1="210.5" x2="586" y2="210.5" stroke="#777" stroke-width="0.8"/>
<line x1="711.2" y1="210.5" x2="756.8" y2="210.5" stroke="#777" stroke-width="0.8"/>
<line x1="65.6" y1="210.5" x2="65.6" y2="212.3" stroke="#777" stroke-width="0.7"/>
<text x="65.6" y="218.7" font-size="5.6" text-anchor="middle" fill="#505050">0</text>
<line x1="95" y1="210.5" x2="95" y2="212.3" stroke="#777" stroke-width="0.7"/>
<text x="95" y="218.7" font-size="5.6" text-anchor="middle" fill="#505050">10.</text>
<line x1="153.7" y1="210.5" x2="153.7" y2="212.3" stroke="#777" stroke-width="0.7"/>
<text x="153.7" y="218.7" font-size="5.6" text-anchor="middle" fill="#505050">30.</text>
<line x1="183" y1="210.5" x2="183" y2="212.3" stroke="#777" stroke-width="0.7"/>
<text x="183" y="218.7" font-size="5.6" text-anchor="middle" fill="#505050">40.</text>
<line x1="212.4" y1="210.5" x2="212.4" y2="212.3" stroke="#777" stroke-width="0.7"/>
<text x="212.4" y="218.7" font-size="5.6" text-anchor="middle" fill="#505050">50.</text>
<line x1="241.8" y1="210.5" x2="241.8" y2="212.3" stroke="#777" stroke-width="0.7"/>
<text x="241.8" y="218.7" font-size="5.6" text-anchor="middle" fill="#505050">60.</text>
<line x1="271.1" y1="210.5" x2="271.1" y2="212.3" stroke="#777" stroke-width="0.7"/>
<text x="271.1" y="218.7" font-size="5.6" text-anchor="middle" fill="#505050">70.</text>
<line x1="300.5" y1="210.5" x2="300.5" y2="212.3" stroke="#777" stroke-width="0.7"/>
<text x="300.5" y="218.7" font-size="5.6" text-anchor="middle" fill="#505050">80.</text>
<line x1="329.8" y1="210.5" x2="329.8" y2="212.3" stroke="#777" stroke-width="0.7"/>
<text x="329.8" y="218.7" font-size="5.6" text-anchor="middle" fill="#505050">90.</text>
<line x1="359.2" y1="210.5" x2="359.2" y2="212.3" stroke="#777" stroke-width="0.7"/>
<text x="359.2" y="218.7" font-size="5.6" text-anchor="middle" fill="#505050">100.</text>
<line x1="388.6" y1="210.5" x2="388.6" y2="212.3" stroke="#777" stroke-width="0.7"/>
<text x="388.6" y="218.7" font-size="5.6" text-anchor="middle" fill="#505050">110.</text>
<line x1="417.9" y1="210.5" x2="417.9" y2="212.3" stroke="#777" stroke-width="0.7"/>
<text x="417.9" y="218.7" font-size="5.6" text-anchor="middle" fill="#505050">120.</text>
<line x1="447.3" y1="210.5" x2="447.3" y2="212.3" stroke="#777" stroke-width="0.7"/>
<text x="447.3" y="218.7" font-size="5.6" text-anchor="middle" fill="#505050">130.</text>
<line x1="476.6" y1="210.5" x2="476.6" y2="212.3" stroke="#777" stroke-width="0.7"/>
<text x="476.6" y="218.7" font-size="5.6" text-anchor="middle" fill="#505050">140.</text>
<line x1="506" y1="210.5" x2="506" y2="212.3" stroke="#777" stroke-width="0.7"/>
<text x="506" y="218.7" font-size="5.6" text-anchor="middle" fill="#505050">150.</text>
<line x1="535.4" y1="210.5" x2="535.4" y2="212.3" stroke="#777" stroke-width="0.7"/>
<text x="535.4" y="218.7" font-size="5.6" text-anchor="middle" fill="#505050">160.</text>
<line x1="564.7" y1="210.5" x2="564.7" y2="212.3" stroke="#777" stroke-width="0.7"/>
<text x="564.7" y="218.7" font-size="5.6" text-anchor="middle" fill="#505050">170.</text>
<text x="594.1" y="218.7" font-size="5.6" text-anchor="middle" fill="#505050">180.</text>
<text x="623.4" y="218.7" font-size="5.6" text-anchor="middle" fill="#505050">190.</text>
<text x="652.8" y="218.7" font-size="5.6" text-anchor="middle" fill="#505050">200.</text>
<text x="682.2" y="218.7" font-size="5.6" text-anchor="middle" fill="#505050">210.</text>
<line x1="711.5" y1="210.5" x2="711.5" y2="212.3" stroke="#777" stroke-width="0.7"/>
<text x="711.5" y="218.7" font-size="5.6" text-anchor="middle" fill="#505050">220.</text>
<line x1="740.9" y1="210.5" x2="740.9" y2="212.3" stroke="#777" stroke-width="0.7"/>
<text x="740.9" y="218.7" font-size="5.6" text-anchor="middle" fill="#505050">230.</text>
<text x="740.9" y="225.4" font-size="5.2" text-anchor="middle" fill="#505050">[m]</text>
<rect x="351" y="221.9" width="121" height="8.8" fill="url(#cb)"/>
<text x="349.5" y="230.5" font-size="5" text-anchor="end" fill="#444">[Resistivity]</text>
<text x="473.5" y="230.5" font-size="5" fill="#444">[Ohm*m]</text>
<text x="351.5" y="238.2" font-size="5.2" text-anchor="middle" fill="#444">1.</text>
<line x1="351.5" y1="228.3" x2="351.5" y2="230.5" stroke="#333" stroke-width="0.5" opacity="0.6"/>
<text x="381" y="238.2" font-size="5.2" text-anchor="middle" fill="#444">1.8</text>
<line x1="381" y1="228.3" x2="381" y2="230.5" stroke="#333" stroke-width="0.5" opacity="0.6"/>
<text x="411" y="238.2" font-size="5.2" text-anchor="middle" fill="#444">3.2</text>
<line x1="411" y1="228.3" x2="411" y2="230.5" stroke="#333" stroke-width="0.5" opacity="0.6"/>
<text x="441.7" y="238.2" font-size="5.2" text-anchor="middle" fill="#444">5.6</text>
<line x1="441.7" y1="228.3" x2="441.7" y2="230.5" stroke="#333" stroke-width="0.5" opacity="0.6"/>
<text x="471" y="238.2" font-size="5.2" text-anchor="middle" fill="#444">10</text>
<line x1="471" y1="228.3" x2="471" y2="230.5" stroke="#333" stroke-width="0.5" opacity="0.6"/>
<rect x="130.9" y="133" width="1.7" height="140.6" fill="#474747"/>
<rect x="112.5" y="194" width="12" height="61" fill="#fff"/>
<text class="b" transform="translate(122.2 253.8) rotate(-90)" font-size="9.4" textLength="58.3" lengthAdjust="spacingAndGlyphs">LIMITI LOTTI</text>
<text class="b" x="697.6" y="167.2" font-size="8.6" textLength="36" lengthAdjust="spacingAndGlyphs">RIFIUTI</text>
<text class="b" x="630" y="194.9" font-size="8.6" textLength="107.5" lengthAdjust="spacingAndGlyphs">RIFIUTI CON PERCOLATO</text>
<text class="b" x="587.5" y="211.8" font-size="8.6" textLength="119" lengthAdjust="spacingAndGlyphs">POSSIBILE BASE DISCARICA</text>
<text class="q" x="299.3" y="274.3" font-size="13.6" textLength="69" lengthAdjust="spacingAndGlyphs">Quota falda</text>
<text class="b" x="27.3" y="302.7" font-size="13.6" textLength="36" lengthAdjust="spacingAndGlyphs">Quote</text>
<text class="b" x="20.7" y="316.6" font-size="13" textLength="50" lengthAdjust="spacingAndGlyphs">(m.s.l.m.)</text>
<!-- ===== section 2 ===== -->
<g fill-rule="evenodd" stroke="#000" stroke-opacity="0.5" stroke-width="0.7">
<rect x="60" y="376" width="706" height="84" fill="#7000ff" stroke="none"/>
<path fill="#5700ff" stroke="none" d="M765.9 376.1l0 83.8 -705.8 0 0-83.8zM323.9 379.9l-1.3 0.6 -0.8 0.9 -1 3.7 -0.8 2 -1.5 2.5 -1.6 1.9 -2 1.5 -17.2 10.1 -2.6 2.3 -3 3.8 -1 2 -0.7 2.4 -0.1 2 0.2 1.8 0.8 2 1.1 1.6 3.6 3.1 2 1 2.7 0.8 7.9 1 6.8 0 9.7-1 6.5-1.3 11.3-3 17-5.4 10-2.5 37.5-5.2 4.7 0 4.8 0.8 29.6 7.3 10.1 2 9.9 1.5 8.6 0.6 14-0.8 5.8-0.8 12-2.4 10.2-1.4 28.8-3.3 12-0.7 9 0.8 4.5 1.4 3.7 1.7 3.3 2.3 16.5 14.1 3.6 2.5 3.4 1.8 3.9 1 5.3 0.7 6.5 0.5 9.5 0.3 10.4-0.8 15.5-2.5 10.8-2.2 11-2.8 14.2-4.2 10.1-3.8 6.7-3.5 3.1-2.4 2.2-2.4 1.5-2.2 0.7-2 -0.3-1.5 -0.9-1.2 -1.8-1.3 -2.3-1 -11.4-3 -9.6-1.7 -5.4-0.4 -8.2 0.3 -2.8 0.4 -10.2 2.5 -6 1 -11.3 1 -7-0.1 -7-0.6 -6.5-1.2 -8.5-2.3 -19.2-5.9 -5.8-0.9 -7.7-0.5 -6.8 0.2 -14 1 -9.1 1 -6.6 1.2 -7.1 2 -7.4 2.9 -5.3 1.5 -7.2 1.3 -7 0.2 -4.5-0.7 -4.5-1.8 -4.3-3 -4.2-4.8 -1.3-1.1 -3.1-1.2 -3.6-0.5 -3.9 0.2 -7.3 1.8 -2.9 1 -4.2 2.1 -3.7 1.5 -17.3 5 -7 1 -8.5 0.3 -5.2-0.5 -5.3-1 -5.5-1.3 -2.7-1 -3-1.5 -2.3-1.5 -4.7-5.4 -1.3-0.7 -2-0.6 -2.9 0.3 -5.8 2.4 -5.5 1.5 -12.3 1.6 -11.7 0 -11.8-1 -6.5-1.1 -6.2-1.7 -3.8-2.1 -1.2-1.3 -1.1-1.8 -1.9-6.2 -1.8-1.4zM144.7 394.1l-3.8 0.7 -2.3 1.3 -0.6 1.3 -0.5 3.7 -1.1 3.3 0.4 0.5 4.1 1.3 3.2 1.8 1.9 1.6 1.4 1.8 1.4 2.5 0.5 2.5 -0.3 1.7 -1.3 2 0.1 0.5 4.6 1.2 6.5 0.7 4.2-0.5 2.8-1.4 1.2-1.2 0.8-1.8 0.4-1.7 0-1.8 -0.5-4.7 -0.9-5.5 -1-3 -1.5-2.5 -1.5-1.5 -1.5-1 -3.9-1.3 -3.6-0.5zM227.6 398.6l-8.7 1 -5.4 1.5 -2.3 1 -1.7 1.3 -0.8 1.2 0.1 1.3 0.8 1.1 1.6 1.1 5.5 2 7.5 1.3 7.9 0.3 7.6-0.6 6.4-1.2 2.9-1 2-1 1.4-1.1 0.7-1.2 -0.2-1.5 -1.1-1.2 -2.2-1.3 -3.5-1.2 -8.5-1.5zM108.7 399.1l-3.5 0.8 -3.1 1.5 -1 1.5 0 1 0.4 0.7 1.6 1.3 2.6 1 2.2 0.5 3.7 0.3 3.3-0.3 3.2-0.8 2.1-1 1.4-1.5 0.1-1.2 -0.5-1 -1.2-1 -1.5-0.8 -4.6-1z"/>
<path fill="#3600ff" stroke="none" d="M765.9 376.1l0 83.8 -705.8 0 0-83.8zM324.6 379.1l-1.8 0.5 -1.4 1.2 -1.1 4.3 -0.8 1.8 -1.4 2.5 -1.7 1.9 -1.8 1.2 -18 10.6 -2.2 2.1 -2.8 3.5 -1.2 2.4 -0.7 2.3 -0.2 2.2 0.2 2 0.8 2 1.1 1.8 1.7 1.7 2.3 1.8 2 1 2.6 0.7 8.2 1.1 6.5 0.1 9.5-1 9.7-1.9 13.6-3.8 12.7-4.2 10-2.4 37-5.1 4.7 0 4.5 0.7 30.5 7.5 10.3 2 10.2 1.5 7.5 0.5 7.8-0.3 7.2-0.7 5.4-0.7 11.6-2.4 9.5-1.3 29.8-3.4 11.5-0.7 6 0.4 3 0.4 4 1.3 3.5 1.6 3.5 2.3 6.7 6 9.8 8 3.6 2.5 3.5 1.8 3.6 1 6 0.9 6.8 0.5 9.2 0.2 11.5-0.9 15.2-2.5 9.6-2 12-3 14.1-4.2 10-3.8 6.7-3.5 3.2-2.5 2.5-2.7 1.5-2.4 0.5-1.9 -0.2-1.5 -0.8-1.4 -1.8-1.3 -2.1-1 -7.5-2.3 -9.1-2.1 -4.2-0.6 -5.8-0.6 -9 0.3 -3.3 0.5 -9.5 2.4 -6 1 -11.5 1 -7.2 0 -7.8-0.8 -6-1.2 -17.5-5 -9-2.9 -6.2-1 -8-0.5 -5 0.1 -15.8 1 -10 1.2 -5.3 1 -8 2.2 -6.4 2.7 -4.8 1.5 -6.2 1.2 -7.5 0.6 -5.8-0.8 -5-2 -3.5-2.6 -4.7-5.3 -2.3-1.5 -3.7-1 -4.5-0.1 -4.6 0.8 -4.6 1.3 -9.8 4.4 -17.8 5.2 -7 1 -8.5 0.3 -5-0.5 -4.2-0.8 -6.5-1.5 -2.8-1 -3-1.4 -2.2-1.6 -5-5.6 -1.4-0.8 -1.9-0.4 -2.5 0.2 -6.2 2.6 -5.3 1.5 -4.5 0.8 -8 0.9 -11.2 0 -11.5-1 -7.3-1.2 -6.2-1.7 -3.5-2.1 -1.5-1.6 -0.9-1.7 -1.1-4.8 -0.5-1.1 -1.5-1.4zM144.2 393.4l-3.8 0.7 -1.5 0.7 -1 0.9 -0.6 1.4 -0.6 4.3 -1.1 3 0.7 0.7 4.1 1.2 3.2 1.7 1.8 1.5 1.8 2.1 1.3 2.5 0.5 2.8 -0.5 1.5 -2.1 2.2 0 0.4 5.1 1.4 7.4 0.9 4.7-0.5 3-1.6 1.2-1.3 0.8-1.8 0.6-2 0-2 -0.6-5.5 -1-5.2 -1-3 -1.5-2.5 -1.5-1.5 -1.5-1 -4.5-1.5 -4-0.6zM225.6 397.9l-8.5 1.2 -5.8 2 -2 1.3 -1.2 1.2 -0.4 1.5 0.3 1.3 1 1.2 1.8 1.3 5.6 2 7.2 1.3 9 0.3 8-0.6 6.8-1.5 4.5-2 1.4-1.3 0.7-1.2 0-1.8 -1.4-1.7 -2.5-1.5 -3.5-1.3 -4.5-1 -5.9-0.7zM110.2 398.4l-4.6 0.7 -3.5 1.5 -1 0.9 -0.6 1.1 -0.1 1 0.5 1.1 1.5 1.4 2.3 1 2.9 0.8 4 0.3 3.6-0.3 3.2-0.8 2.4-1.2 1.4-1.5 0.2-1.3 -0.3-1 -1-1.2 -1.7-1 -4.3-1.2z"/>
<path fill="#0e00ff" stroke="none" d="M765.9 376.1l0 83.8 -705.8 0 0-83.8zM323.5 378.9l-1.5 0.7 -1 1 -0.8 3.8 -0.8 2 -1.4 2.5 -1.7 2 -1.9 1.4 -18.5 10.8 -2.5 2.5 -2.5 3.3 -1 2.2 -0.8 2.8 -0.2 2.2 0.4 2.3 0.8 2 1.3 1.8 1.7 1.7 2.4 1.7 2.1 1 2.8 0.7 8.2 1.1 6.5 0 9.8-1 7.5-1.4 10.7-2.9 17.5-5.6 9.5-2.3 23.2-3.1 9.8-1.6 4.5-0.5 4.5 0.1 4.5 0.7 29.8 7.3 10.1 2 9.9 1.5 8.5 0.6 8-0.3 7-0.6 6-0.8 11.2-2.3 9.8-1.3 29.2-3.4 11.8-0.7 8.7 0.7 4 1.3 3.8 1.7 3.2 2.2 7 6.2 9 7.2 4.4 3 3.6 1.8 3.8 1 5.7 0.8 6.8 0.5 9.5 0.2 10.7-0.8 16.6-2.7 9.4-2 11.1-2.8 14.9-4.5 9.9-3.7 6.6-3.5 3.3-2.7 2.5-2.8 1.4-2.3 0.5-2 -0.2-1.6 -0.8-1.4 -1.4-1.3 -2.4-1.2 -7.6-2.4 -12.5-2.7 -6.5-0.6 -8.8 0.2 -3.5 0.4 -9.5 2.4 -6.7 1.2 -11.3 0.9 -7.2 0 -8-0.8 -6-1.3 -16.8-4.7 -9.5-3 -6.2-1.1 -8-0.5 -22 1.3 -10 1.2 -4.8 0.9 -7 2.1 -7 3 -4.7 1.4 -6.5 1.2 -7 0.6 -5.5-0.8 -3-1 -2.5-1.3 -4-3.1 -4.3-5 -2-1.2 -3.7-1.1 -4.5 0 -4 0.7 -5.1 1.4 -10.2 4.6 -17 5 -7.5 1.2 -8.2 0.2 -5-0.4 -4-0.7 -6.5-1.5 -3-1 -3-1.5 -2.3-1.5 -5-5.8 -1.7-0.9 -1.8-0.3 -2.7 0.3 -5.8 2.4 -5.7 1.7 -12 1.6 -11.5 0 -12-1 -6.5-1 -6.3-1.8 -3.2-1.8 -1.4-1.3 -1.1-1.8 -0.6-2 -0.6-3.5 -0.8-1.2 -1-1 -1.2-0.5 -1.3-0.2zM157.9 383.4l-31 1 -15.8 1.2 -3.2 0.8 -0.5 0.5 0.5 0.5 3.7 1.5 -0.2 0.5 -2.2 1.5 0.3 0.7 1.1 0.5 2 0.5 4.1 0.5 6.4 0.2 4.4-0.2 5.8-0.7 0.8-0.5 0.3-0.8 -1.3-2 0-0.5 0.5-0.6 2.3-0.8 4.7-0.5 7 0.1 11.8 0.9 10.7 1.3 9.8 1.9 5.7 0.3 19.8-0.2 16.2-2 6.8-0.5 20 0.5 4.6-0.6 2.5-0.8 0.5-0.5 -1.3-0.7 -3.6-0.8 -19.7-1.5 -28-0.7zM143 392.9l-3.6 0.9 -2 1.4 -0.6 1.4 -0.5 4.5 -1.3 3.5 1.1 0.7 4.3 1.2 3.2 1.8 2.2 1.8 1.7 2.3 1.1 2.5 0.1 2.5 -1 1.7 -2.5 2 1.2 0.6 4.7 1.1 7.8 1 5.2-0.5 1.7-0.7 1.6-1 1.2-1.5 0.9-2 0.5-2 0-2.2 -0.5-5.3 -1.1-5.5 -1.1-3.2 -1.6-2.5 -1.6-1.5 -2-1.2 -5.2-1.6 -4.5-0.4zM227.7 397.1l-9.1 1.1 -3.8 0.9 -3.4 1.3 -2.2 1.2 -1.5 1.5 -0.7 1.5 0.2 1.8 1.1 1.5 1.7 1.2 2.6 1.3 3.1 1 7.4 1.3 8.8 0.4 8-0.5 7.5-1.6 2.5-0.9 2.4-1.2 1.5-1.3 0.9-1.5 0-2 -1.2-1.7 -2.1-1.6 -3.5-1.4 -4-1.1 -5.3-0.8 -4.7-0.4zM108.7 398.1l-4.4 1 -1.7 0.8 -1.4 1 -0.8 1 -0.4 1.2 0.1 1 0.8 1.3 2.2 1.5 2.8 1 2.7 0.5 3.3 0.1 4-0.4 3-0.8 2.2-1.2 1.5-1.7 0.3-1.3 -0.6-1.5 -1.2-1.2 -1.8-1 -2.3-0.8 -2.8-0.5z"/>
<path fill="#001dff" stroke-opacity="0.25" d="M765.9 376.1l0 83.8 -705.8 0 0-83.8zM324.2 378.4l-2.1 0.7 -1.4 1.3 -1.4 5.7 -1.6 2.8 -1.6 1.8 -1.7 1.3 -12.5 7.5 -6.2 3.4 -2.3 2.1 -2.8 3.6 -1.2 2.5 -0.7 2.8 -0.2 2.2 0.2 2.3 0.8 2 1.2 2 1.7 1.7 2.5 1.9 2 1 2.7 0.8 8.5 1.2 7 0 9.5-0.9 9.8-2 13-3.6 13.5-4.4 9.5-2.3 22.5-3 10.5-1.8 4.2-0.4 4.5 0.1 4.5 0.7 29.8 7.3 10 2 9.5 1.5 9 0.6 8-0.3 7-0.6 6-0.8 11.2-2.3 9.8-1.3 29.5-3.5 11.5-0.6 8.7 0.7 4 1.3 3.5 1.6 3.3 2.2 7.1 6.2 8.8 7 4.5 3 3.6 1.8 3.5 0.9 6.5 1 6.5 0.4 9.5 0.3 11.4-0.9 15.1-2.5 9.6-2 12.1-3 14.8-4.5 9.9-3.8 6.5-3.5 3.3-2.7 2.5-2.8 1.5-2.4 0.6-2.1 -0.2-1.7 -0.9-1.5 -1.5-1.3 -2.3-1.2 -3.4-1.3 -4.8-1.4 -12.5-2.7 -6.2-0.6 -8.3 0.2 -4 0.4 -9.2 2.4 -7.2 1.2 -11.1 1 -7.2 0 -8.5-1 -6-1.2 -15.9-4.5 -9.6-3.2 -6.3-1 -8.2-0.6 -23 1.4 -9.8 1.3 -4.5 0.9 -6.7 2.2 -6.8 2.9 -4.2 1.3 -7 1.3 -7 0.6 -5.5-0.8 -2.8-0.9 -2.5-1.2 -4-3.2 -4.2-5 -2.5-1.7 -3.3-0.9 -4.7-0.1 -3.5 0.6 -5.8 1.7 -9.5 4.5 -17.5 5.2 -7.5 1.2 -8.2 0.3 -5-0.5 -4-0.7 -6.5-1.5 -3-1 -3-1.5 -2.3-1.6 -5-5.8 -1.5-0.7 -1.7-0.5 -2.8 0.3 -6 2.6 -5.7 1.7 -12 1.6 -11.5 0 -12-1.1 -6.5-1 -6.3-1.8 -3.3-1.8 -1.4-1.5 -0.9-1.8 -1-5 -0.6-1.2 -1-1 -1.3-0.7zM476.7 380.9l-4.1 0.5 -1.3 0.5 0 0.7 2.1 5.3 1 0.1 9.5-0.9 3.2 0.1 3.3 0.4 0.7-0.4 0.8-4.6 -0.2-0.5 -0.6-0.3 -5.6-0.9zM158.3 382.1l-27.7 0.8 -18.2 1.3 -5.5 1.1 -0.5 0.5 -0.2 1.6 0.2 0.7 1.3 1.3 0.4 2.1 1.8 1.1 5 1.1 9.2 0.3 10.1-0.9 1.2-0.7 1.3-2.8 0.9-0.4 2-0.2 5.3-0.1 9.2 0.6 16.5 1.5 10.8 1.3 22 0.1 21.7-1.6 6.8-0.3 10.5 0.1 7-0.4 3.8-0.6 3.6-1 1.5-0.7 0.6-1 -0.3-0.5 -1-0.6 -6.2-1.4 -19.3-1.5 -28.7-0.8zM143.5 392.1l-4.1 0.9 -1.8 0.8 -0.7 0.7 -0.5 1.6 -0.4 4.5 -1.4 4 1 0.8 4.8 1.3 3 1.6 2.2 1.9 1.8 2.4 1.1 2.8 0 2.2 -1.1 1.6 -3 1.7 -0.2 0.5 1.7 0.7 4.3 1 8.9 1.2 5.8-0.6 2.5-1 1.7-1.1 1.1-1.5 0.8-2 0.5-2 0-2 -0.5-5.2 -1-5.5 -1.1-3.3 -1.5-2.5 -2-1.7 -2.3-1.4 -2.5-1 -3.2-0.9 -4.3-0.5zM227.2 396.6l-5.1 0.5 -4.5 0.8 -3.7 1 -3.3 1.3 -2.3 1.4 -1.4 1.7 -0.5 1.8 0.4 1.8 1.2 1.5 1.8 1.2 2.6 1.2 3.2 1.1 7.8 1.3 9 0.4 8.5-0.7 7-1.5 2.7-1.1 2.2-1.2 1.5-1.2 0.9-1.5 0.2-2 -1.1-2 -2.3-1.8 -3.3-1.5 -4.5-1.2 -5.3-0.9 -5.3-0.4zM111 397.6l-5.4 0.8 -2.2 0.7 -1.8 1 -1.2 1.2 -0.6 1.3 -0.1 1.3 0.6 1.2 1.7 1.5 2.9 1.3 3 0.6 3.7 0.3 4.3-0.4 3-0.8 2.4-1.2 1.4-1.5 0.5-1.3 -0.2-1.5 -0.8-1.2 -1.3-1.1 -2-0.9 -2.5-0.8z"/>
<path fill="#004dff" stroke-opacity="0.25" d="M765.9 376.1l0 83.8 -705.8 0 0-83.8zM323.8 378.1l-1.9 0.8 -1.4 1.2 -0.4 1 -0.4 3 -0.7 2 -1.6 2.8 -1.5 1.7 -14 8.6 -6.7 3.7 -2.3 2.1 -2.5 3.4 -1.3 2.5 -0.8 3 -0.3 2.5 0.3 2.5 0.8 2.2 1.3 2 1.7 1.7 2.5 1.8 2.3 1.1 2.7 0.7 8.3 1.2 7 0.1 9.2-1 10.3-2 12.5-3.5 14.2-4.6 9.3-2.2 22-2.9 11-1.9 4.2-0.4 4.5 0.1 4.5 0.7 29.5 7.3 10.3 2 9.5 1.5 9 0.6 8-0.3 7-0.6 6-0.8 11.5-2.3 9.5-1.3 29.7-3.5 11.5-0.6 8.5 0.8 3.8 1.1 3.5 1.6 3.2 2.1 7.3 6.3 8.7 6.7 4.5 3 3.8 1.9 3.7 1 6.3 0.9 6.5 0.4 9.5 0.3 11.5-0.9 15.3-2.6 9.5-2 12.1-3 14.8-4.5 9.8-3.7 6.7-3.6 3.2-2.7 2.6-2.8 1.5-2.4 0.6-2.3 -0.2-1.7 -0.9-1.6 -1.5-1.4 -2.3-1.3 -3.5-1.4 -6.2-2 -10.3-2.2 -6.7-0.8 -7.8 0.1 -5.5 0.7 -9.5 2.4 -7.3 1.2 -10.4 0.9 -8.3-0.1 -8.4-1 -6.7-1.5 -13.9-4 -7.2-2.7 -2.8-0.7 -6.2-1 -7.5-0.5 -3 0 -12 1.1 -10 0.4 -6.3 0.8 -7.2 1.5 -6.9 2.6 -5.9 2.6 -5 1.5 -8.5 1.5 -4.2 0.3 -3.3-0.3 -4.7-1.2 -4.3-2.1 -3.2-2.8 -3.5-4.3 -2.5-2.5 -0.1-0.5 0.8-1.1 0.3-0.9 0.9-5.2 -0.3-1 -2.4-1.1 -6-0.7 -8.5 0.1 -4.7 0.7 -1.9 0.7 -0.2 0.8 1.7 3.2 1.2 4 0.9 0.5 3.3-0.1 0.8 0.4 -5.3 2.4 -6 3.3 -7 2.4 -14 3.9 -6.3 0.8 -8 0.2 -5-0.5 -5-0.9 -5.2-1.2 -3-1.1 -3-1.5 -2-1.4 -5.3-6 -1.5-0.8 -1.7-0.4 -2.5 0.2 -6.3 2.7 -5.5 1.7 -4.5 0.8 -7.7 0.9 -11.5 0 -12-1.1 -6.5-1 -5.8-1.6 -3.5-1.9 -1.4-1.4 -0.9-1.8 -0.6-1.7 -0.5-3.5 -0.6-1.3 -1-1 -1.5-0.8 -1.5-0.3zM393 380.6l-1.9 0.5 -0.6 0.5 -0.3 0.8 0.5 1.7 1.4 1.5 1.3 0.2 3.7-0.6 3.3 0.1 0.8-0.4 0.2-1.8 -0.5-0.9 -0.8-0.6 -3-0.9zM617.3 380.6l-37.9 1.1 -6.5 0.7 -1.2 0.5 3.7 1.1 2 1.1 1.1 1.3 0.8 2.2 0.6 0.5 10.5 0.9 8.2 1.4 1-0.5 0.5-3 0.7-1.3 1.1-1.1 3-1.5 4.5-1 5-0.3 9.2 0.1 10 0.9 11.3 1.6 5 1 4.2 1.2 2.8 1.2 2.1 1.4 1.4 1.8 0.6 1.7 -0.3 2.3 -1.3 2.2 0 0.3 0.5 0.3 2.2-0.3 9.8-2.4 5-0.4 7 0 7.5 0.9 9.6 2.1 11.4 1.5 18.2 1.8 15 0.8 8.7-1.1 4-1.7 1.6-1 1-1 1.5-2.5 0.4-1.5 0-2.8 -0.7-1 -11.2-4.2 -28-3.6 -42.8-1.9zM155.8 381.6l-25.7 0.7 -18.7 1.4 -5 1.1 -0.4 0.8 -0.1 2.3 2 4.1 1.5 0.9 2.5 0.8 7 0.7 6.7 0 7.5-0.5 2.3 0.2 0.4 1.3 0 4 -0.4 2.2 -1.2 2.8 0 0.5 0.9 0.5 5 1.3 3.8 2.1 2.9 3.1 1.5 3 0.2 2 -0.6 1.6 -1.5 1.3 -3 1.3 -0.1 0.5 2.1 0.9 5.2 1.1 9.3 1.1 4.2-0.3 4.5-0.8 3.1-0.7 1.7-0.7 1.3-1.1 0.7-1.2 0.4-1.8 0.2-2.7 -0.2-4.8 -0.6-5 -0.8-2.9 -1.3-2.5 -1.2-1.6 -1.8-1.5 -9.7-4.7 -0.7-0.5 0.4-0.3 3.3-0.1 7.5 0.4 11 1 18.5 0.1 5.7-0.1 17.5-1.2 18.8-0.3 7.5-0.6 4.9-0.9 3.5-1.3 1.1-0.8 0.4-0.9 -0.2-0.8 -1.2-0.7 -6.3-1.5 -19.7-1.6 -29.3-0.8zM556.8 383.6l-7 0.8 -7.3 2 -0.4 0.7 0 2.8 -0.6 3 0.4 0.3 0.7-0.1 14.5-2.6 0.4-0.6 -0.2-2 0.3-1.3 0.9-1.2 1.8-1.5 -0.7-0.3zM227.2 396.1l-4.8 0.5 -4.8 0.8 -3.7 1 -3.7 1.5 -2.3 1.5 -1.5 1.7 -0.6 1.8 0.4 2 1.2 1.5 1.9 1.5 2.6 1.2 3.2 1.1 7.8 1.4 9.2 0.4 8.7-0.6 7.6-1.7 2.7-1.1 2.3-1.3 1.5-1.4 0.9-1.5 0.1-2.3 -1.2-2 -2.1-1.7 -3.5-1.6 -4.7-1.4 -5.5-0.9 -5.3-0.4zM110.1 397.4l-5.2 0.9 -2.2 0.8 -1.6 1 -1 1.1 -0.7 1.7 0.1 1.2 0.7 1.3 1.8 1.5 2.9 1.2 3 0.7 3.7 0.3 4.3-0.4 3-0.8 2.5-1.3 1.7-1.7 0.4-1.5 -0.3-1.5 -0.9-1.3 -1.6-1.2 -2.1-0.9 -2.5-0.7 -3.2-0.4zM684.4 387.1l9 0.1 10 1.4 2.2 0.6 1.6 0.9 0.9 1.3 0.1 1.2 -0.5 1 -1.1 0.9 -3 0.7 -9-0.2 -9.5-1.3 -3.5-1.2 -1-0.9 -0.5-1.2 0.1-1.3 0.9-1.1 1.3-0.6zM723.9 389.9l8.2 0.4 4.5 0.7 3.3 0.8 1.7 0.8 1.3 1 0.7 1.3 0 1.5 -1 1.4 -1.7 1 -2.8 0.4 -3.5 0.2 -6-0.4 -5-0.7 -3.7-1 -2.3-1.4 -0.7-1 -0.3-1.3 0.3-1.2 0.7-1 2-1zM138.4 390.8l1.5 0 0.8 0.3 -1.5 0.8 -1.3 0.2 -0.3-0.2 0-0.5z"/>
<path fill="#0080ff" d="M765.9 376.1l0 83.8 -705.8 0 0-83.8zM323.4 377.9l-2 1 -1.2 1.2 -1.2 5.5 -1.5 2.8 -1.7 2 -1.7 1.2 -12.5 7.5 -7 3.8 -2.3 2.2 -2.4 3.3 -1.3 2.7 -0.9 3 -0.2 2.8 0.2 2.5 0.7 2.2 1.3 2 1.7 1.8 2.5 1.7 2.2 1.2 2.8 0.8 8.5 1.3 7.2 0.1 9-0.9 10.8-2.2 12.5-3.4 14.2-4.6 9.3-2.3 21.7-2.8 11.3-1.9 4.2-0.4 4.5 0.1 4.5 0.6 29.5 7.3 10.3 2.1 9.7 1.4 8.8 0.7 8-0.3 7-0.6 6-0.9 11.5-2.3 9.5-1.3 29.5-3.4 11.7-0.7 8.5 0.8 3.7 1.1 3.4 1.5 3.4 2.3 7.1 6 8.6 6.5 4.8 3.1 4 1.9 5 1.1 7.3 0.9 11.2 0.5 6.5-0.3 7-0.6 11.5-1.8 13-2.6 11-2.7 16.5-5 8.8-3.2 4.8-2.3 3.4-2.1 3.8-3.3 2.7-3.4 1.1-3 -0.1-2.2 -1.2-2.1 -2.3-1.8 -4.4-2.4 -0.1-0.5 4.3 0.1 21 1.9 12.2 0.7 8.8-0.9 2.7-0.8 4.6-2.5 2.6-3.7 0.6-2.5 -0.1-2.8 -0.7-1.2 -11.9-4.5 -29.1-3.7 -42.5-1.8 -59.2 0 -35.3 1 -6.7 0.3 -26.5 2.3 -9.4 2.1 -1.3 0.5 -0.4 0.5 -0.1 4.3 -1.2 3.2 0 1.8 -0.9 0.7 -7.7 3.6 -5 1.5 -6.8 1.3 -7.2 0.5 -4.3-0.6 -4.5-1.6 -3.4-2.2 -3.1-3 -4.3-5.5 1.7-8 -0.2-0.7 -0.4-0.5 -2.3-1 -4.2-0.7 -9.3-0.1 -6.5 0.7 -1.6 0.6 -1 0.7 -0.1 0.8 1.4 2 0.7 1.7 1.1 4 1.2 1.3 -1.8 1.5 -3.6 2.2 -6.8 2.6 -15 4.3 -6.5 0.9 -7.2 0.4 -8.8-1 -7-1.6 -3.7-1.3 -2.8-1.3 -2.2-1.6 -5.3-6.1 -1.5-0.9 -1.7-0.4 -2.5 0.4 -6 2.7 -5.3 1.6 -4.7 0.9 -7.8 0.9 -11.5 0.1 -11.7-1.1 -6.5-0.9 -6.3-1.8 -3.2-1.7 -1.4-1.3 -1-1.8 -0.6-2 -0.5-3.5 -0.8-1.4 -1.2-1.1 -1.5-0.7 -1.5-0.2zM392.2 379.6l-2.3 0.8 -0.8 0.7 -0.4 1 0.5 2.3 0.7 1.2 1 0.9 1.7 0.5 4.3-0.5 3.7 0.3 0.8-0.2 0.7-0.6 0.5-1.4 0-1.5 -0.5-1.3 -1-1 -1.4-0.7 -2.2-0.5zM155.5 381.1l-25.4 0.7 -19.2 1.5 -4.9 1.1 -0.3 0.5 -0.1 3 1.2 3.2 0.6 1 1.7 1.1 2.5 0.8 6.5 0.8 7.5 0 6.3-0.5 1.7 0.2 1 0.3 0.8 1.6 0.1 3 -0.4 2 -1.3 2.7 0 0.8 0.7 0.5 5.4 1.4 3.7 2 2.9 2.8 1.1 1.8 0.6 1.7 0.1 2.3 -0.9 1.5 -1.3 0.8 -3.7 1.4 -0.5 0.5 2.2 1 5 1.2 7.8 1.1 3.5 0.2 7.9-0.5 4.3-0.9 1.7-0.8 1.2-1 0.9-1.2 0.4-1.3 0.3-3.3 -0.1-5.5 -0.6-4.7 -0.9-3.5 -1.1-2.3 -1.3-1.8 -2-1.8 -3.8-2.6 -0.2-0.5 0.4-0.3 4.4-0.4 10.5 0.8 21.5 0 18.5-0.9 20-0.6 8.2-0.8 5.3-1.1 3.2-1.3 1-0.9 0.4-1 -0.3-1 -1-0.8 -6.6-1.7 -20-1.6 -29.5-0.8zM225.8 395.6l-5.2 0.7 -4.5 0.9 -4 1.3 -3 1.4 -2.2 1.6 -1.3 1.9 -0.4 2 0.6 2 1.3 1.5 2 1.5 2.7 1.2 3.3 1.1 8.2 1.4 9.3 0.4 8.8-0.8 7.5-1.7 2.7-1.1 2.3-1.3 1.6-1.5 0.9-1.5 0.2-2.2 -1.2-2.4 -2.5-2 -3.5-1.7 -5.3-1.4 -6.2-1 -5.5-0.4zM109.4 397.1l-5.3 1.1 -2 0.9 -1.5 1.1 -1 1.4 -0.5 1.8 0.3 1.2 1 1.4 2 1.4 3 1.1 3 0.6 3.7 0.2 4-0.4 3.5-1 2.3-1.3 1.5-1.7 0.5-1.8 -0.4-1.5 -1.1-1.4 -1.8-1.2 -2.2-1 -3-0.7 -3-0.3zM614.6 384.9l7.5 0 11.3 0.7 8.2 0.7 7 1.2 5.3 1.5 3.2 1.6 1.9 2 0.3 1 0 1.3 -0.8 1.5 -1.4 1.2 -2.2 1.1 -2.8 0.8 -6.5 0.8 -9.5-0.3 -19-2.2 -4.6-0.9 -4.2-1.3 -2.2-1 -2.2-1.6 -1.3-1.6 -0.4-1.5 0.2-1.3 0.7-1.1 1.3-0.9 4.2-1.3zM564.4 385.1l6.2-0.1 4 0.8 1.3 0.7 0.7 0.9 0.2 1 -0.4 1.5 -0.4 0.5 -1.1 0.4 -4 0.5 -6 0.2 -3-0.4 -2-1.8 -0.4-0.9 0.2-1 1.4-1.4zM684.4 388.9l7.5-0.1 7.2 0.7 5.2 1.1 1.2 0.8 0.3 0.7 -0.2 0.5 -0.7 0.5 -2.3 0.4 -6.5 0 -7-0.8 -4-0.7 -2.1-0.9 -0.5-0.7 0.1-0.8 0.7-0.5zM723.1 391.4l7.5 0.2 7 1.1 3.3 1.2 0.8 1 0.1 1 -0.6 1 -1.3 0.6 -3 0.4 -3 0.1 -9.8-1.1 -3.5-0.9 -1.8-1.1 -0.4-1.3 0.7-1.2 1.5-0.7z"/>
<path fill="#00b3ff" d="M765.9 376.1l0 83.8 -705.8 0 0-83.8zM324 377.4l-2.4 0.9 -1.6 1.6 -0.4 1 -0.3 3 -0.6 1.7 -1.5 2.8 -1.8 2 -14 8.5 -7 3.7 -2.2 2 -2.4 3.3 -1.5 3 -1 3.2 -0.5 3 0.1 2.8 0.7 2.2 1.1 2 1.7 1.8 2.5 1.8 2.2 1.2 2.5 0.9 7.8 1.3 8 0.3 8-0.7 6.5-1 6.2-1.4 12.8-3.5 14.2-4.6 9-2.2 22.3-3 11-1.8 4.2-0.4 4.5 0.1 4.8 0.7 29.2 7.2 10.5 2.1 9.8 1.5 8.7 0.6 7.8-0.3 7.2-0.7 6-0.8 11.3-2.3 9.7-1.3 29.3-3.5 12-0.6 8.2 0.8 3.5 1 3.5 1.5 3.3 2.1 7.2 6.1 8 5.9 5.3 3.3 4.2 2 5 1.2 7.3 0.8 11.2 0.5 6.5-0.3 6.8-0.5 10.2-1.6 16.5-3.4 12-3 11.5-3.5 9-3.2 4.5-1.9 4.5-2.4 3.3-2.5 3.3-3.5 1.8-3 0.6-2.5 -0.5-2.3 -1.5-2 -3.2-2.5 -0.1-0.2 0.3-0.4 4 0 17.8 1.6 12.2 0.7 8.9-0.9 2.9-0.8 4.7-2.6 2.8-4 0.6-2.6 -0.1-3 -1-1.5 -12-4.5 -4.5-0.8 -24.5-2.9 -42.8-1.8 -59.2 0 -35.3 1 -6.7 0.3 -26.8 2.3 -10.2 2.4 -1 0.5 -0.3 0.5 0 4.5 -1.2 3.2 -0.4 1.8 -0.7 0.7 -6.9 3.3 -4.8 1.5 -6.7 1.3 -7.5 0.6 -4.5-0.7 -4.3-1.5 -3.4-2.2 -3-3 -3.7-5 0.7-5.5 0.8-3 -0.2-0.8 -0.7-0.6 -2.5-1.1 -3.7-0.5 -9.8-0.2 -6.7 0.8 -2.3 0.8 -0.9 0.8 0.1 0.8 1.3 1.7 1 2 1.4 5.5 -1 1.3 -3.2 2 -6.9 2.6 -15 4.3 -6.3 0.9 -7.2 0.3 -6.8-0.6 -8.4-1.8 -4.1-1.3 -4.1-2.2 -1.6-1.4 -3.5-4.4 -2.7-2.7 1.4-1.1 0.7-1.1 0.4-1.5 0-1.5 -0.5-1.3 -0.8-1 -1.3-0.7 -1.7-0.6 -3.5-0.4 -3.5 0.2 -2.3 0.8 -1.4 1.2 -0.4 1.3 0.2 1.5 0.9 1.7 1.2 1.3 2 0.8 4-0.4 1.7 0.3 -0.5 0.5 -6.1 3 -6.1 2 -5.7 1 -7.5 0.8 -9.8 0.1 -17.2-1.7 -5.3-1.2 -4-1.3 -2.5-1.6 -1.5-1.8 -0.9-2.5 -0.5-3.8 -0.8-1.6 -1.3-1.1 -1.2-0.7 -1.5-0.4zM156.6 380.6l-26.5 0.8 -19.7 1.5 -3.8 0.7 -1.1 0.5 0 4.3 0.8 2.7 0.9 1.3 1.7 1.1 2.7 1 6.3 0.7 7.7 0 6-0.5 1.5 0.2 1 0.4 0.8 1.3 0.2 2.8 -0.4 2 -1.4 3 0 0.5 0.8 0.5 6 1.6 3.5 1.9 2.9 3 1.6 3.2 0.1 2.3 -1.1 1.6 -1.5 0.8 -4.8 1.6 -0.3 0.5 3.6 1.2 5.3 1.2 8.2 1.1 4 0.1 6.8-0.2 4.3-0.9 1.7-0.8 1.5-1 1-1.1 0.6-1.4 0.4-2.7 0-5 -0.3-4.5 -0.7-3.8 -0.8-2.5 -1.2-2.3 -4.3-4.7 -0.1-0.5 0.6-0.5 2.8-0.2 8.5 0.5 21.7 0 17.8-0.5 6.5 0.1 12.7-0.8 9.8-1 5.7-1.3 3.1-1.5 1-1 0.4-1 -0.4-1.3 -0.9-0.7 -6.7-1.8 -20.2-1.7 -29.5-0.8zM227.7 394.6l-5.1 0.7 -5.2 1 -4.8 1.4 -3.7 1.7 -2.4 1.7 -1.5 2 -0.4 2.3 0.7 2.2 1.5 1.8 2.1 1.4 2.7 1.3 3.3 1 8.2 1.4 9.3 0.4 9.2-0.8 7.5-1.6 2.8-1.1 2.2-1.3 1.7-1.5 1.1-1.7 0.3-2.5 -1-2.3 -2.1-2 -3.5-1.8 -4.7-1.6 -6.3-1.2 -5.7-0.8zM108.8 396.9l-5.2 1.1 -2 1 -1.2 1 -1 1.7 -0.5 1.9 0.5 1.5 1.2 1.4 2.2 1.4 3 1 3.1 0.5 3.5 0.1 4-0.4 3.2-0.9 2.4-1.3 1.6-1.8 0.6-1.7 -0.3-1.7 -1.2-1.6 -1.8-1.3 -2.5-1.1 -3-0.7 -3.3-0.3zM564.4 386.4l4-0.3 3.7 0.3 2.1 0.7 0.5 0.5 0.2 0.8 -0.5 0.7 -1 0.6 -3.5 0.6 -5.3-0.3 -1.7-0.4 -1.2-0.7 -0.3-0.8 0.3-0.7 0.9-0.6zM610.6 386.4l7.5-0.2 14.3 0.2 8.2 0.6 5.5 0.7 5.5 1.3 4 1.6 2.2 1.8 0.5 1 0.1 1.2 -0.7 1.5 -1.8 1.4 -2.8 1 -3.2 0.6 -9.5 0.3 -6-0.4 -5.5-0.8 -12.3-2.3 -5.5-1.4 -4.5-1.6 -2.3-1.8 -0.4-0.7 -0.1-1 1.1-1.5 2.2-0.9zM690.4 390.1l6.8 0.5 2.4 0.5 0.9 0.5 -1.9 0.5 -3.2 0 -5.7-0.7 -2-0.8zM722.1 392.4l4.5-0.2 9 0.9 3.8 1.1 0.9 0.7 0.2 0.7 -0.2 0.5 -1 0.5 -3.7 0.5 -5.7-0.3 -4.8-0.6 -3.5-0.8 -1.7-1 -0.2-0.8 0.3-0.5z"/>
<path fill="#00e6ff" d="M765.9 376.1l0 83.8 -705.8 0 0-83.8zM324.5 376.9l-2.6 0.9 -2.2 1.8 -0.4 1 -0.2 2.8 -0.5 2 -1.5 2.7 -1.7 2 -14 8.6 -7.5 3.9 -2 1.8 -2.4 3.2 -1.5 2.8 -1.2 3.5 -0.8 4 -0.1 2.5 0.6 2.2 1.3 2.3 1.8 1.9 2.3 1.7 2.2 1.2 2.5 1 6.8 1.3 7.7 0.5 7.8-0.5 8.5-1.3 6.2-1.4 12.8-3.5 14.5-4.8 9.2-2.2 22.3-3 11-1.7 4.2-0.4 4.5 0 4.8 0.7 29.2 7.3 10.5 2 9.8 1.5 8.7 0.6 7.8-0.3 7.2-0.6 6-0.9 11.3-2.2 10-1.4 29-3.5 12-0.6 8 0.7 3.5 1 3.5 1.5 3.2 2 7.5 6.1 7.5 5.4 6 3.7 4.3 1.9 6.7 1.4 8.5 0.7 9.3 0.3 8.2-0.5 16.3-2.3 12.5-2.5 10.7-2.7 16-4.7 12.3-4.8 4.2-2.3 3.5-2.6 3.1-3.2 2-3 0.7-2.3 -0.2-2.2 -0.9-2 -2.6-2.8 0.3-0.5 3.1-0.1 16.5 1.5 12.5 0.7 9.5-1 3.1-1.1 4.4-2.5 2.8-4.2 0.7-2.8 -0.2-3 -1.2-1.5 -12.1-4.6 -3.5-0.6 -25.7-3.1 -42.8-1.8 -59.2 0 -35.3 1 -7 0.3 -26.5 2.3 -10.5 2.4 -1 0.5 -0.5 0.6 0 4.8 -1.6 4.7 -0.9 1 -6.2 3 -4.8 1.6 -6.7 1.3 -7.5 0.5 -4.5-0.6 -4.1-1.5 -3.4-2.2 -3.1-3.1 -3.4-4.7 0.6-5.3 0.9-3.2 -0.3-1 -0.7-0.7 -2.5-1.1 -4-0.6 -9.8-0.2 -6.7 0.8 -2.3 0.8 -1.4 1 0 1 1.6 2 1.1 2.2 0.9 5 -0.8 1.3 -2.7 1.7 -7.1 2.8 -14.8 4.2 -6.3 0.9 -7.2 0.3 -6.8-0.7 -8.4-1.7 -3.9-1.3 -4.2-2.2 -1.9-1.8 -4.7-6 0-0.5 1.1-1.9 0.6-1.8 -0.1-1.5 -0.5-1.5 -1.5-1.5 -2.6-1 -3.6-0.4 -3.8 0.3 -2.5 0.8 -1.7 1.5 -0.5 1.3 0.1 1.2 0.7 1.8 0.9 1.2 1 0.8 1.5 0.6 3.8 0.1 0.3 0.3 -1.3 1 -2.7 1.5 -6.2 2 -5.4 1 -7.7 0.8 -9.8 0 -17.1-1.6 -5.5-1.2 -3.9-1.4 -2.2-1.4 -1.6-2 -0.9-2.5 -0.4-3.7 -0.8-1.5 -2.6-2 -1.2-0.4zM130.1 381l-20.5 1.6 -3.7 0.8 -1 0.5 0.4 1.7 0.1 3.1 0.7 2.7 1 1.4 2 1.3 3.5 1.1 5.3 0.5 8-0.2 5.7-0.4 1.5 0.3 0.8 0.4 0.7 1.6 0.1 2.2 -0.5 2 -1.4 2.8 0 0.5 1.3 0.7 5.8 1.4 3.7 2 3 3.1 1.4 3.3 0.1 2 -1.2 1.6 -1.5 0.8 -6.6 1.8 0.3 0.5 5.5 1.6 5.3 1.1 8.7 1.1 5.5 0.1 5.3-0.3 4.5-1.1 3-2 0.9-1.2 0.6-1.5 0.4-2.8 0-4.7 -0.9-7.8 -0.7-2.5 -1-2.2 -3.7-4.8 0-0.5 0.4-0.3 2.2-0.3 9.3 0.3 27.2-0.2 6.4 0.5 0.1 0.3 -0.7 0.5 -8.5 3.4 -2 1.3 -1.5 1.4 -1.2 1.9 -0.3 2 0.6 2 1.2 1.7 1.9 1.6 2.8 1.4 3.2 1.2 4 0.9 9.8 1.1 10-0.2 8.5-1.3 6.2-2 2.3-1.2 1.7-1.5 1.3-1.7 0.5-1.8 -0.1-1.7 -0.7-1.5 -1.2-1.6 -2-1.5 -4.5-2.1 -9.4-2.6 -0.8-0.5 1.1-0.5 11.3-1.6 5.5-1.4 1.8-0.7 1.5-1 0.8-1 0.4-1 -0.3-1.3 -1.2-1 -6.7-1.9 -3.8-0.5 -16.7-1.2 -29.8-0.8 -43.5-0.1zM110 396.4l-5.6 1 -2.3 1 -1.5 1 -1 1.3 -1 2.7 0.4 1.5 1.1 1.5 2 1.4 3 1.1 3 0.7 3.8 0.2 4-0.4 3.5-0.9 2.5-1.2 1.8-1.7 0.8-1.7 -0.1-1.8 -1-1.7 -1.5-1.4 -2.8-1.4 -3.5-1.1 -2.5-0.3zM629.1 387.1l12 0.5 5 0.7 4.5 0.9 3.3 1.1 2.3 1.3 1.3 1.5 0.2 1.5 -0.6 1.2 -1.2 1 -2 0.9 -2.5 0.6 -7.3 0.5 -7.7-0.3 -7.8-1.1 -7-1.9 -9.5-2.1 -4.7-1.8 -1.1-0.7 -0.4-0.8 0.1-0.7 0.9-0.8 3.2-0.8zM724.6 393.1l5.8 0.3 4 0.5 3 0.7 0.9 0.8 -0.9 0.5 -1.8 0.2 -5.7-0.2 -5.4-0.8 -2.4-1 0-0.4 0.5-0.3z"/>
<path fill="#00fde6" d="M324.1 376.1l-3 1.8 -1.6 1.5 -0.5 1.2 -0.1 2.5 -0.5 2 -1.5 2.9 -1.9 2.1 -14.1 8.5 -7 3.5 -2.1 1.8 -2.2 2.7 -1.6 2.8 -1.3 3.2 -2 6.3 -0.2 3 1.2 3 2.2 2.7 3.5 2.6 3 1.5 3.5 1 5.5 0.9 6.2 0.5 7.3-0.4 15-3 13.7-3.9 15.5-5 9.3-2.3 36.2-4.9 5-0.1 4.8 0.7 29.7 7.3 11.3 2.2 9.2 1.4 8.5 0.5 7.8-0.3 7.5-0.6 6-0.9 11-2.2 10-1.4 28.5-3.5 11.7-0.7 8.5 0.7 3.5 1 3.5 1.4 3.5 2.2 7.2 5.8 6.3 4.4 7.3 4.5 4.7 2.1 6.8 1.2 8.5 0.8 9.2 0.3 9-0.6 15.8-2.3 12.2-2.6 11-2.7 15.8-4.7 11.7-4.5 4.3-2.2 3.2-2.4 3-2.9 2.4-3.1 1-2.5 0.2-2.3 -0.7-2.2 -2-2.8 0.2-0.5 2.9-0.1 28 2.1 9.5-1.1 2.9-0.9 4.5-2.5 1.4-1.5 3-4.9 0 65.7 -705.8 0 0-83.8zM155.8 379.9l-27.2 0.8 -17.2 1.3 -6.8 1.4 -0.5 0.5 1.1 1.7 0 3 0.8 3.3 1.1 1.4 3 1.8 0.3 0.5 -6 1.5 -3.3 1.5 -1 1 -1 1.8 -0.7 2 0.2 1.2 0.9 1.5 1.6 1.4 2 1 3 1 5.8 0.6 6.2-0.9 2.8-1 2.1-1.3 1.5-1.8 0.4-1.7 -0.3-1.8 -1-1.6 -1.7-1.5 -2.9-1.6 -0.3-0.3 0.1-0.2 11.6-0.9 2 0.2 0.9 0.4 0.6 0.8 0.4 2.2 -0.5 2.3 -1.7 3.5 1.6 0.7 5.9 1.4 3.8 2 1.6 1.4 1.5 1.7 0.9 1.8 0.6 1.7 -0.1 2 -1.5 1.6 -3.8 1.3 -5 0.9 -0.5 0.2 0.1 0.3 3.7 1.4 9.5 2 9.5 1.1 8.7-0.1 4.5-0.9 3-1.4 2.3-2.1 1.2-2.8 0.2-7 -0.8-7 -1.6-4.7 -3.1-4.5 -0.2-0.5 0.4-0.5 1.9-0.3 33.2 0 3.5 0.4 0.6 0.4 -0.4 0.5 -6.7 3.6 -1.8 1.6 -1.1 1.8 -0.5 2 0.3 2 0.9 1.7 1.7 1.7 2.3 1.5 2.7 1.2 7.5 1.8 9.5 0.9 10-0.3 6.8-0.9 5.5-1.4 4-1.9 2.7-2.3 1.2-2 0.3-2 -0.5-2 -1.3-2 -1.8-1.5 -2.4-1.4 -7.7-2.9 -1.3-0.7 1.2-0.8 7.8-1.4 5.5-1.5 2.8-1.7 0.8-1.1 0.3-1 -0.3-1.5 -1.1-1 -6.5-1.9 -4.2-0.7 -16.3-1.2 -30.2-0.8zM765.9 376.1l0 14.3 -1.3-1.5 -1.5-1 -12.2-4.4 -28.8-3.6 -42.7-1.8 -59.3 0 -41 1.3 -28 2.4 -10.5 2.5 -1 0.5 -0.5 0.6 0.3 3.5 -0.2 1.5 -1.6 4.7 -1.1 1 -5.6 2.8 -5.7 1.7 -6.8 1.3 -6.5 0.4 -4.5-0.7 -4.1-1.5 -3.4-2.2 -3-3.1 -2.8-3.7 -0.4-1 0.6-5 0.9-3.2 -0.2-1 -0.7-0.8 -2.4-1.2 -3.5-0.6 -3.8-0.3 -7.2 0 -7 0.9 -2.5 1 -1.2 1 -0.1 1 1.8 2 1.1 2.2 0.5 2 0.2 2.8 -0.1 0.7 -0.6 0.8 -2.3 1.5 -7.1 2.7 -15 4.3 -6 0.8 -7 0.3 -7-0.6 -8.4-1.8 -3.8-1.2 -4.2-2.3 -1.9-1.7 -4.2-5.5 0-0.8 1.5-4 0-1.2 -0.5-1.5 -1.6-1.8 -2.9-1.1 -2.2-0.4 -3 0 -4.3 0.8 -2.9 2 -3.5 4 0 0.5 0.4 0.2 2.6 1.3 3.7 1.3 3.2 0.8 -0.7 0.9 -1.9 1 -6.5 2 -6.4 1 -6 0.6 -9.7 0 -16.9-1.6 -6.3-1.5 -3.4-1.3 -2.1-1.5 -1.3-1.8 -0.8-2.4 -0.3-3.5 -0.5-1.3 -1.7-1.7 -2.9-1.8zM629.1 387.9l4.3-0.2 7.2 0.4 9.3 1.4 3.2 1 2.5 1.3 1.2 1.3 0.2 1.5 -0.5 1 -1.1 0.9 -3.8 1.3 -4.7 0.5 -7.8-0.2 -7.2-0.8 -5.5-1.3 -3.4-1.6 -1.4-1.3 -1-1.2 -0.1-0.5 0.4-0.8 2.4-1.5 2.6-0.8z"/>
<path fill="#00fab3" d="M322.5 376.1l-2.6 2.3 -1 1.2 -0.3 1.3 0 2.2 -0.5 1.8 -1.2 2.5 -1.8 2.2 -1.8 1.3 -12.2 7.2 -8.7 4.5 -1.9 2 -2 2.8 -3.6 8 -1.3 1.9 -1.5 1 -3.7 0.3 -1.8 0.6 -1.7 1.3 -1.2 1.9 -0.9 2.7 -2.7 12.3 -0.6 8 0.1 4.2 0.8 1.9 1.2 1.4 2 1.2 7.1 3.3 1.4 1.2 0.4 1.3 -222.4 0 0-83.8zM157.8 379.4l-31.7 1 -15 1.2 -7.7 1.7 -0.5 0.3 0.1 0.3 1.4 0.6 0.6 1.1 0.1 3 0.7 3.5 0.8 1.3 1.7 1.5 0.1 0.4 -5.3 1.7 -2.2 1.3 -1.3 1.7 -1.3 2.9 -0.2 0.7 0.1 1 1 1.5 1.7 1.6 2 1 3 1 5.7 0.6 6.5-0.8 2.8-0.9 2.2-1.2 1.3-1.3 0.9-1.7 0.1-1.8 -0.5-1.7 -1.3-1.6 -2.3-1.9 -0.1-0.5 1.2-0.4 7.7-0.5 2 0.2 0.7 0.4 0.5 0.8 0.3 2.4 -0.7 2.3 -1.9 2.8 1 0.5 7.6 1.7 3.8 2 1.7 1.5 1.4 1.8 1 1.7 0.4 1.8 -0.3 2 -1.5 1.4 -4 1.1 -5.7 0.9 -0.7 0.3 0.1 0.3 3.3 1.4 8.3 2 10.2 1.4 5 0.3 6.3-0.2 5.2-1.1 2-0.9 2.1-1.4 1.4-1.5 0.9-1.5 0.7-2.3 0.3-2.7 0-3.8 -0.4-3.7 -0.7-3.3 -0.9-2.7 -1.1-2 -2.4-3.5 0.1-0.7 0.7-0.3 25.1-0.2 6.7 0.1 1.7 0.3 0.2 0.3 -0.3 0.5 -4.6 3 -2.2 2.5 -0.9 2.7 0.1 1.5 0.4 1.5 0.9 1.5 1.2 1.3 3.3 2.1 4.7 1.7 6.3 1.2 7.2 0.6 7 0.1 7-0.6 6.3-1 4.7-1.3 3.7-1.8 2.6-2.3 1.3-2.5 0.2-1.7 -0.4-1.8 -0.7-1.5 -1.3-1.5 -2.9-2.1 -6.6-2.9 -0.8-0.7 1.4-0.8 9.8-2.4 1.7-0.8 1.5-1.1 1.2-1.7 0-2 -1.2-1.4 -2.5-1 -7.7-1.7 -19-1.4 -28.5-0.7zM327.4 376.1l438.5 0 0 13.1 -3.3-1.9 -12-4.3 -26.7-3.3 -6-0.4 -38.8-1.6 -59 0 -41.2 1.3 -27.8 2.4 -11 2.7 -1 0.5 -0.4 0.5 0.2 3.8 -0.2 1.5 -1.5 4.5 -0.9 1 -5.5 2.7 -4.7 1.5 -6.1 1.3 -7.9 0.6 -4.6-0.6 -4.1-1.5 -3.4-2.3 -2.9-2.9 -2.5-3.4 -0.5-1.2 0.5-4.7 1-3.5 -0.1-1 -0.9-1 -2.5-1.2 -3.2-0.7 -4-0.4 -7.5 0 -7 1 -3 1.2 -1.3 1.1 0.1 1.2 1.7 1.7 0.8 1.3 1 3.5 -0.2 3 -0.8 1 -1.6 1 -7.1 2.8 -15.1 4.2 -5.8 0.8 -7 0.4 -6.9-0.7 -8.4-1.7 -4.4-1.5 -3.6-2 -1.8-1.8 -3.4-4 -0.7-1.2 0.1-1 1.6-4 -0.1-1.3 -0.5-1.2 -1.6-2 -3-1.2 -4-0.5 -4 0.3 -2.3 0.7 -3.7 1.8 -5.6 0.4 -3.4 0.6 -2.3 1.1 -1 1.4 -0.2 1.4 0.5 1.7 1 1.3 1.6 1 2.1 0.5 3 0.1 7.3-1.3 3.3 0.7 -0.2 0.5 -1.2 0.7 -6.6 2 -6.3 1 -5.8 0.6 -9.5 0 -16.9-1.6 -5.5-1.2 -4.2-1.5 -1.9-1.3 -1.2-1.4 -1-2.8 -0.2-3.3 -0.2-1 -1.1-1.5 -2.3-2zM446.6 387.6l-6.7 1.5 -3.3 0 -5.7-0.4 -0.9 0.4 -0.1 0.8 0.5 1.3 1.2 1.7 3 2.2 4.3 1.4 4.2 0.3 4-0.4 4.6-1.5 6.9-3.5 1.9-1.3 0.7-1 -0.3-0.9 -1.8-0.6 -5.7-0.6zM632.1 388.4l9.8 0.3 8.5 1.4 2.7 0.8 2.1 1.2 1.1 1.3 0.1 1.2 -0.5 0.8 -1 0.8 -3 1.1 -4 0.5 -6 0 -7.1-0.7 -5.4-1 -3.5-1.2 -1.8-1.5 -0.4-1 0.1-1 0.5-1 0.8-0.7 2.8-0.9zM765.9 395.7l0 64.2 -456.9 0 0.4-1.3 1.1-1 7.1-3.4 1.8-1.8 0.5-1.8 -0.1-5.7 0.4-4 1-5 1.4-1.5 2.5-1 10.8-2.7 25.7-8.3 7.5-1.8 5.3-1 15.7-1.8 14.3-2.1 7.5-0.2 5.7 0.9 27.8 6.9 9.7 1.9 11.3 1.8 10 0.5 8-0.4 8-0.8 16.2-2.9 36.5-4.9 10.3-0.8 7.2 0.3 5.8 1 5.5 2.3 2.7 1.8 6.8 5.4 5 3.5 8.2 5 4.3 2 4 1.1 6.5 0.9 6.7 0.5 10.3 0.2 9-0.7 8.5-1.2 18.2-3.6 12.8-3.2 9.2-2.7 5.5-1.8 9.3-3.5 5-2.5 3-2 3.2-2.9 2.9-3.5 1.2-2.5 0.4-2.5 -0.5-2.2 -1.6-2.8 0.4-0.5 2.5-0.2 27.2 2.1 9-1 3-0.8 4.8-2.5 1.3-1.3z"/>
<path fill="#00f680" d="M321.3 376.1l-2.9 3.5 -0.3 1.3 0 2.2 -0.5 1.8 -1.5 2.8 -1.5 1.7 -14 8.5 -8.2 4 -1.8 1.7 -2.1 2.8 -3.9 7.4 -1 1.3 -1.5 0.9 -4 0.3 -2.2 0.6 -2.2 1.5 -1.6 2.1 -1 2.7 -3.1 13.7 -0.7 7 -0.1 5.5 0.7 2.4 1.2 2 1.8 1.4 4.7 2.9 1 1 0.2 0.8 -216.7 0 0-83.8zM130.1 379.7l-17 1.2 -4.5 0.6 -6.5 1.6 -0.5 0.5 0.2 0.3 2.1 0.6 0.9 0.9 0.6 6.3 1.1 3.2 -3.9 1.7 -2 1.5 -2.8 5.3 0.2 1.5 1.6 2.2 2.5 1.6 3.8 1.3 4.5 0.6 3.5-0.1 3.7-0.5 3.3-1 4.2-1.8 0.5 1.7 1.8-2.7 1.5-0.7 3.7 0.2 7 1.5 3.8 2 2.5 2.4 1.6 3 0.4 1.5 -0.1 1.3 -0.9 1.3 -1.5 0.8 -5.3 1.2 -4.7 0.4 -1.1 0.3 -0.3 0.2 0.2 0.3 4.4 1.8 8.3 2.1 10.7 1.4 5.5 0.3 6.3-0.2 5.5-1.2 2.5-1.2 2.2-1.5 1.6-1.5 1.1-1.5 0.7-2 0.3-2.5 -0.1-6.8 -0.6-3.2 -1.2-3.6 -1-2.1 -2.1-3.1 0.2-0.7 0.9-0.4 4.7-0.4 14.3 0 5.7 0.1 3.1 0.4 0.3 0.3 -0.1 0.5 -3.7 3.2 -1.7 2.8 -0.3 1.5 0 1.5 0.9 2.7 2.2 2.5 3.3 2 4.5 1.5 6 1.1 7.5 0.7 7.3 0.1 7.5-0.6 6.7-1.1 4.8-1.3 3.7-1.8 2.5-2.3 1.4-2.5 0.2-1.8 -0.2-1.7 -0.6-1.5 -1.1-1.5 -2.7-2.3 -5.1-2.7 -0.9-0.8 0.8-0.7 8.5-2.6 2-1.2 1.3-1.2 0.8-2 -0.5-2 -1.4-1.3 -2.5-0.9 -5-1.2 -3.2-0.5 -17.3-1.3 -8-0.3 -22.5-0.5 -43.2 0zM328.4 376.1l437.5 0 0 12.3 -3.5-1.6 -11.8-4.1 -27-3.4 -5.7-0.4 -38.8-1.6 -59 0.1 -41.2 1.3 -26.8 2.3 -3.5 0.5 -9.8 2.6 -0.9 1 -0.3 2.7 -0.9-1.2 -1.1-0.7 -3-0.7 -4.7 0.1 -5.3 0.8 -1 0.5 -0.6 0.8 -0.2 0.7 0.4 1 2.6 2.3 3.1 1.2 3.5 0.1 3.7-0.8 2.3-1.3 1.2-1.9 0.3 0.7 0 1.5 -1.3 4 -1 1 -2.8 1.5 -6.1 2.2 -7.3 1.5 -7.3 0.6 -4.2-0.6 -4.2-1.5 -3.2-2 -3.1-3.1 -2.3-3.1 -0.5-1.3 0.4-4.5 1.1-4 -0.3-1 -0.9-1 -2.8-1.3 -2.7-0.5 -4.5-0.5 -7.5 0 -7.3 1 -3 1.2 -1.4 1.1 -0.3 0.8 0.2 0.7 2.4 2.8 0.8 2 0.4 1.7 -0.3 3 -0.6 0.8 -1.4 1 -6.4 2.5 -15.1 4.2 -6.5 1 -6.8 0.3 -6.3-0.5 -8.6-1.8 -4-1.2 -4.2-2.3 -4.6-4.9 -1.1-1.6 0-1.5 1.8-4 -0.1-1 -0.6-1.5 -1.8-2 -3.2-1.4 -2.8-0.4 -3.5 0.1 -3 0.6 -4.5 1.6 -8.5 0.6 -3.2 1.2 -1 0.8 -0.8 1.2 -0.4 2 0.5 2 1.3 1.7 1.6 1.1 2.5 0.8 3.3 0.1 3.5-0.4 4-0.9 1.4 0.1 -0.9 0.7 -6.2 1.8 -6.5 1 -5.1 0.5 -8.7 0 -12.4-1 -5.6-0.8 -5.2-1.2 -3.4-1.3 -1.9-1.2 -1.3-1.6 -0.8-2.4 -0.4-4.3zM449.5 385.9l-9.9 1.9 -3.2 0 -6.3-0.5 -1.4 0.8 -0.3 0.8 0 1 0.6 1.5 1.1 1.7 1.5 1.5 2 1.4 2.3 1.1 2.2 0.6 5 0.4 5.3-0.7 5.5-2.1 6.7-3.7 1.6-1.2 0.8-1.3 -0.1-1 -0.5-0.6 -2.3-1 -6.5-0.8zM631.6 389.1l9.5 0 8 1.1 3 0.8 2 0.9 1.4 1.2 0.2 1.3 -0.3 0.7 -0.9 0.8 -2.6 1 -3.8 0.5 -5.5-0.1 -5.2-0.5 -6.9-1.2 -3.4-1.1 -1.7-1.4 -0.2-1.5 1-1.2 1.9-0.8zM765.9 396.5l0 63.4 -451.2 0 1-1.5 5.4-3.3 1.4-1.2 0.8-1.3 0.5-2.2 0.2-6.8 0.5-4 0.8-2.7 1.3-1.5 7.8-2.4 10.1-3.9 15.8-5.5 7.8-2 6.3-1.1 30-3.8 7.5-0.2 5.7 0.9 27.5 6.8 9.8 2 11.5 1.8 10 0.6 8.2-0.4 8.3-0.9 15.7-2.9 36.3-5.2 10.2-0.8 7.3 0.3 5.7 1 5.5 2.2 3 1.9 6.5 5.3 4.8 3.3 8.2 4.8 4.8 2.3 4.2 1.1 6.8 0.9 12.2 0.7 4.8-0.1 8.2-0.6 8.5-1.2 18.3-3.6 13-3.2 9.2-2.8 6-1.9 8.8-3.3 5-2.5 3-1.9 3.3-3 2.8-3.2 1.5-2.8 0.5-2.2 -0.3-2.5 -1.2-2.8 0.4-0.6 2.2-0.1 26.5 1.9 9.3-1 3-0.8 4.7-2.5 1.4-1.4 2.1-3zM131.1 396.9l1 0.7 0.5 1.3 -0.2 1.8 -0.8 1.4 -1.1 1.3 -2.9 2.1 -1.2 0.4 -0.3-0.3 0.3-2.2 -0.3-1.8 -2.3-4 0.8-0.3z"/>
<path fill="#09f24e" d="M320.2 376.1l-2.8 3.7 -1 0.7 -9-1.2 -8.5 0.1 -4.3 1 -2 0.7 -2.7 1.8 -1.5 1.9 -0.8 1.6 0 1.2 0.8 0.7 1.5 0.3 1-0.2 8-3.9 4-1.2 2.7-0.5 2.3 0 1.7 0.4 1.4 1.2 0.5 1.7 -0.7 1.8 -2.4 2.2 -3.8 1.9 -6.7 2.9 -5 2.8 -0.8 1.2 -0.5 2.2 -3.8 4.8 -3.4 6.2 -1.3 1.5 -1.5 0.7 -4 0.3 -2.5 0.8 -2.5 1.7 -1.7 2.3 -0.9 2.2 -1.2 6.8 -2.5 9 -0.7 5.5 -0.1 6 0.4 2.7 1.2 2.4 1.7 1.9 3.7 2.7 0.7 1.3 -213.1 0 0-83.8zM157.8 378.4l-27.7 0.8 -17.2 1.2 -4.5 0.6 -7 1.7 -0.9 0.7 0.3 0.5 3.1 0.8 0.9 0.9 0.4 7.8 -0.5 1 -3.1 2.2 -1.2 1.3 -3 5.7 0.1 1.3 1.1 1.7 1.8 1.6 2 1.1 2.7 0.9 4.3 0.7 3.5 0.1 4.2-0.5 6-1.4 0.8 0.3 1 2.5 0.5-0.4 1.8-4.1 0.9-0.9 1-0.5 3.5-0.2 7 1.5 3.9 2.1 2.5 2.5 1.6 3.2 0.2 1.5 -0.4 1.3 -1.3 1.2 -2.7 0.8 -3.5 0.7 -7.3 0.4 -0.6 0.1 0.1 0.5 2 1.2 3.8 1.4 8.2 2.1 10.8 1.5 6.2 0.4 6.3-0.2 5.7-1.2 5.5-2.6 1.8-1.3 1.1-1.5 0.8-1.8 0.4-2 0.3-6.2 -0.7-4.8 -3.5-9 0.3-0.7 1.3-0.5 3.5-0.3 13 0.1 3.7 0.1 1.8 0.4 0.4 0.4 -0.1 0.5 -2.8 3.3 -1.2 2.7 0 2.8 1.2 3 2.2 2.4 3 1.7 4.5 1.5 5.5 1 7.8 0.7 7.7 0.2 7.8-0.5 7.2-1.1 5.3-1.3 3.7-1.7 2.7-2.2 1.6-2.7 0.2-1.8 -0.2-1.7 -0.4-1.8 -0.8-1.5 -2.1-2.2 -4.7-3 -0.6-0.8 0.8-0.7 7-2.6 1.8-1.3 1.1-1.4 0.6-2 -0.5-2 -1.5-1.4 -2.5-0.9 -8-1.7 -19-1.5 -28.7-0.7zM329.6 376.1l436.3 0 0 11.7 -12.5-4.8 -2.8-0.8 -27-3.4 -5.7-0.3 -39-1.6 -58.5 0 -41.5 1.3 -28.5 2.5 -10.5 2.5 -3.3 1.2 -3.5-0.6 -2.7-0.2 -5.3 0.5 -3 0.6 -2.2 1.4 -0.6 0.8 -0.2 1 0.8 2 2.5 2.3 2.5 1.4 3.2 0.6 3.5-0.2 4.3-1 0.4 0.4 -0.3 1.2 -1 1 -2.4 1.3 -6 2.2 -7.3 1.5 -7.2 0.6 -4.1-0.6 -4.2-1.5 -3.4-2.2 -2.8-2.9 -2-2.9 -0.5-1.2 0.5-4.5 1.1-3.8 -0.5-1.2 -1.1-1.1 -2.7-1.4 -3.3-0.6 -4.2-0.5 -7.5 0 -7.3 1 -3 1.2 -1.7 1.1 -0.7 1 0 1 2.7 3 1 2.6 0.1 2.2 -0.5 1.7 -1 1 -2.4 1.3 -8.2 2.5 -1.3 0 6.3-3.9 1.7-1.3 0.9-1.1 0.4-1 -0.1-1 -0.5-1 -0.9-0.8 -1.8-0.8 -2-0.4 -6.7-0.6 -5.3 0.5 -7.5 1.6 -3.5 0 -5.5-0.5 -2 0.4 -1.3 1.4 -0.1 2.2 1.3 2.8 2.1 2.4 2.3 1.7 2.7 1.2 3 0.8 4.4 0.6 -4.4 1 -6.5 0.3 -6.2-0.5 -8.6-1.8 -3.9-1.2 -3.8-2 -4.7-4.4 -1.4-1.9 -0.1-1 0.3-1 2-3.7 0-0.8 -0.5-1.2 -1.2-1.8 -1.1-1 -1.8-0.9 -2.2-0.6 -2.5-0.4 -3 0 -2.8 0.6 -4.5 1.5 -9 0.3 -3.7 0.9 -1.5 1 -1.1 1.4 -0.6 1.7 0 2 0.5 1.8 1.1 1.7 1.1 1.1 2.5 1.7 -1.7 0.5 -2.1 0.2 -8.9 0 -16.6-1.5 -6.2-1.1 -3.1-1.1 -2.3-1.5 -1.4-1.7 -0.7-2.3 -0.1-3.3 -0.9-1.7 -1.7-2.3zM638.6 389.6l6.5 0.3 6 1.2 2 0.8 1.2 0.7 0.6 0.8 0.1 1 -1.1 1.3 -2.8 0.9 -3.5 0.3 -5.5-0.1 -4.5-0.6 -7.3-1.6 -2.5-1 -1.1-1.2 0.1-0.8 0.5-0.5 2-0.7zM765.9 397.3l0 62.6 -422 0 0.8-2.5 3.7-4.8 0.5-1.5 0-1.2 -1-2.3 -3.3-4 -1.5-2.2 -1.8-3.8 -0.8-2.5 0.1-1.2 0.8-1.3 3.3-2.2 8.1-3.3 10.5-3.5 11.1-2.3 30.7-3.5 5-0.1 4.5 0.5 37 8.8 13.3 2.2 10.5 0.7 8.5-0.3 8.2-0.8 31-5.6 16.5-2.6 9.8-1.1 8.5-0.4 8.2 0.8 3.3 0.9 3.2 1.3 3.5 2.1 7 5.7 5.8 4 8.2 4.6 4.8 1.9 7 1.4 8.5 0.7 9.2 0.3 9-0.6 15.5-2.2 12-2.5 9.3-2.2 18-5.3 11.7-4.5 4.5-2.3 3-2 3.2-2.8 2.6-3 1.4-2.5 0.7-2.3 0-2.5 -0.9-3 0.5-0.6 2 0 25.5 1.8 9.3-1 3-0.8 4.7-2.4 1.4-1.2 2.1-3zM325.6 455.6l1.5 0 1.5 1 1 1.5 0.4 1.8 -11.3 0 0.3-0.8 1.2-1z"/>
<path fill="#12ef1c" d="M318.4 376.1l-1 1.8 -1.5 0.8 -9.3-1 -7 0 -3.2 0.5 -3.5 1 -2 1 -2.5 1.8 -1.4 1.9 -1.1 2.2 0 1.8 1 1 2.5 0.7 1.2-0.2 8.3-4.1 5.7-1.6 2.5-0.2 1.8 0.3 1.3 0.8 0.4 1.5 -0.6 1.5 -2.1 1.9 -10.2 4.6 -5.8 3.2 -1 1.6 -1.4 3.2 -3.4 4.3 -2.7 4.2 -1 1 -1.5 0.6 -4.5 0.7 -2.5 0.9 -2.4 1.6 -1.8 2.2 -0.9 2.8 -1.2 8 -3.3 10 -0.6 3.7 -0.2 5.3 0.2 3.5 0.8 2.7 1.5 2.3 2.9 3 0.5 1 -209.3 0 0-83.8zM155.9 377.6l-25.5 0.7 -17.3 1.3 -5.2 0.7 -7.3 1.8 -1.1 0.8 0 0.7 1.7 0.8 2.7 0.4 0.8 0.8 0.2 7 -0.6 1.3 -4.2 3.9 -1.8 4.1 -1.5 2 0.2 1.5 1.4 1.9 2 1.7 2.5 1.2 3 0.9 6.2 0.6 4.3-0.4 4.5-0.8 1.2 0.1 0.8 0.8 1.1 3.5 0.9 1.4 0.2 0 0.6-4.2 0.8-2.7 0.8-1.8 1.1-1 1.5-0.5 2.5-0.2 4 0.6 3.2 0.9 4 2.2 2.5 2.6 1 1.8 0.5 1.6 0 1.5 -0.4 1 -1.8 1.2 -5.3 1.1 -5.7 0.3 -5.8-0.6 -0.3 0.3 0.4 0.5 1.9 1.4 2.5 1.2 3.8 1.5 3.7 1 8.5 1.8 9.3 1.1 4.5 0.3 7-0.2 6.5-1.2 5.2-2.1 1.9-1.3 1.5-1.8 0.9-1.7 0.6-2.3 0.4-6.5 -0.6-4 -2.6-5.2 -0.7-2.5 -0.1-2.5 0.5-0.5 1-0.4 13.5 0 3.5 0.5 0.3 0.4 -0.1 0.5 -2 3.5 -0.6 2.5 0.7 3 1.5 3.5 1.7 1.7 2.5 1.3 3.7 1.2 5 1 7.8 0.9 8 0.3 7.5-0.2 7.7-0.9 6.5-1.2 5.1-1.6 3.2-1.9 1.1-1.1 0.7-1.3 0.2-1.5 -0.1-3 -1.2-4.9 -1-1.6 -3.5-2.7 -0.5-0.8 0.8-0.7 3.2-1.4 2-1.2 1.6-1.4 1-1.8 0.3-2 -0.7-2 -1.4-1.4 -2.3-1 -8.7-2 -19.5-1.4 -28.5-0.8zM391.1 376.1l-2.9 1.3 -2.3 0.5 -28.8 0.1 -13 0.8 -9.5 1.3 -0.7-0.1 -0.8-0.6 -1.7-2.5 -0.2-0.8zM399.6 376.1l75.1 0 -6.3 1.6 -2.5 1.2 -2.5 1.8 -1 0.3 -6.8-1.2 -4-0.4 -8.7-0.5 -14.5 0 -12.5 0.7 -8.5 1.7 -1.3-0.5 -3-2.9zM487.6 376.1l129.2 0 -41.2 1.7 -25 2.2 -13 2.9 -1.2-0.2 -6.8-2.6 -8.2-1.2 -9.8 0 -5.9 0.5 -2.6 0.4 -4.7 1.2 -0.8-0.3 -2-1.9 -2-1.1zM683.6 376.1l82.3 0 0 10.8 -13.3-4.8 -3.7-0.8 -26.3-3.2 -32.7-1.4zM343.6 381.4l2.8 0.3 1.5 1.2 0.5 1.7 -0.7 2 -1.6 1.6 -2.7 1.3 -3 0.4 -2.3-0.8 -0.9-1 -0.3-1 0-1.2 0.6-1.3 1.1-1.2 1.5-1zM408.4 382.9l6.5-0.1 3.2 0.7 1.8 0.8 1.4 1.3 0.7 1.5 0.2 1.8 -0.7 2 -1.6 1.6 -3 1 -6.3 0 -2-0.4 -1.7-0.8 -2.6-2.2 -0.6-1 -0.1-1 0.7-2 1.1-1.5 1.5-1.3zM507.1 390.1l1.8 0.1 2 0.6 1.5 0.8 1 1.3 0.4 1.5 -0.3 1.7 -0.9 1.3 -1.2 0.9 -2.8 0.8 -2.5-0.2 -2.7-1.1 -1.7-1.7 -0.3-2 1-2 2-1.4zM638.1 390.3l6.4 0.1 5.9 0.9 3 1.3 0.7 0.9 0.1 0.9 -1.1 1 -2.2 0.7 -3.3 0.3 -5-0.1 -5.4-0.9 -5.8-2.8 -0.1-0.2 0.6-0.4zM765.9 398.4l0 61.5 -416.3 0 0.5-1.8 2.7-4.7 0.3-1.5 -0.1-1.8 -1.3-3 -5.6-7 -1.3-2.7 -0.5-2.3 0.1-1.2 0.5-1.3 1.3-1.2 1.6-1 7.8-3.3 8.4-2.7 6.4-1.5 5-0.8 27.5-2.7 5.7-0.1 5.3 0.5 16 4.2 20.2 4.8 14.3 2.4 11.2 0.8 9.5-0.4 9-1 18-3.4 11-2.8 14.8-2.7 10.7-1.5 9.5-0.4 8 0.8 3.3 0.9 3.2 1.4 3.7 2.2 7.3 6.2 6.5 4.7 6 3.2 5.5 2.3 6.8 1.3 8.5 0.7 9.5 0.3 9.2-0.5 15.5-2.2 17.8-3.9 9.7-2.5 10.8-3.2 12.7-4.8 4.5-2.2 3-1.9 3.3-2.8 2.8-3.2 1.6-2.5 1-2.5 0.3-2.5 -0.5-3.2 0.5-0.5 2.8-0.1 23.2 1.6 9-0.9 3.3-0.8 5-2.5 1.5-1.3z"/>
<path fill="#34f10e" d="M343.4 381.9l2.2 0.1 1.8 1 0.4 0.9 0.1 1 -0.7 1.7 -2.1 1.7 -2.5 0.9 -2.2 0.2 -2-0.7 -0.7-0.8 -0.4-1 0.1-1 0.5-1 2.2-1.9zM97.4 383.5l2.9 0.9 3.3 0.5 0.8 0.5 0.3 1 0 6 -0.6 1.2 -4 3.7 -2.2 5 -1 0.9 -1.5 0.6 -15.3 0.1 -20-3.8 0-16.8zM408.6 383.6l6 0 2.5 0.4 2 0.7 1.3 1 0.8 1.4 0.2 1.5 -0.4 1.5 -1.6 1.8 -2.8 0.8 -6 0 -2.5-0.4 -1.7-0.7 -1.3-0.9 -1-1.1 -0.3-1 0.1-1 0.7-1.7 1-1.2 1.3-0.8zM305.9 383.9l2.5 0.1 1.5 0.9 0.3 1.5 -0.9 1.5 -2.7 1.9 -8.7 3.8 -6.2 3.3 -0.8 0.9 -1.8 3.6 -1.2 1.6 -3.8 3.8 -3 2.3 -5 2.1 -3.7 1.1 -2.5 0.3 -2-0.1 -1.8-0.5 -1.5-1 -0.9-1.1 -0.7-1.5 -0.5-2.3 -0.8-6 0-2.7 0.5-1.8 1.1-1.7 1.3-1.4 1.8-1.3 2-1 2.5-0.7 10-1.3 3 0.1 3.3 1.3 2.7 0.4 9.2-4.5 3.5-1zM507.1 390.9l3 0.4 1.5 0.7 0.9 0.9 0.5 1 0 1.2 -0.5 1.3 -0.9 0.8 -2.5 1 -2.2 0.2 -2.5-0.7 -1.7-1.3 -0.5-1.8 0.7-1.9 1.7-1.3zM640.6 390.9l5.3 0.2 4.4 0.8 2.4 1 0.4 0.5 0.2 0.7 -0.6 0.8 -1.3 0.6 -4.8 0.4 -4.1-0.3 -3.1-0.5 -1.8-0.5 -1.2-1 -0.2-1 0.9-1 1.3-0.5zM185.6 398.1l2.3 0.1 2.5 1 3.5 2.4 2.2 2.2 1.9 2.8 0.9 2.5 0 2.3 -1 1.5 -2 0.7 -2.3-0.5 -2.2-1.5 -2.5-2.7 -3.5-4.5 -1.3-2.5 -0.2-1.5 0.2-1.1 0.5-0.8zM131.1 406.1l3.3 0.2 4.5 0.9 1.7 0.7 2.8 1.6 2.2 2.2 1.5 2.4 0.5 2.3 -0.5 1.6 -1.2 1 -3 0.8 -3 0.5 -4.5 0.3 -4.5-0.4 -2-0.7 -1.5-0.8 -1.1-1.6 -0.6-1.7 0.2-3 0.6-2.5 0.7-1.8 0.9-1.1 1.3-0.6zM258.9 414.4l2.2-0.2 1.9 0.4 1.6 1 1.3 1.5 0.7 2.2 0.4 3.3 -0.1 3 -0.5 2.8 -1 2.6 -1.5 2.8 -1.8 2.4 -1.5 1.5 -1.5 1 -2.2 1 -6.3 1.8 -9.2 1.4 -9 0.4 -9.5-0.6 -8.5-1.5 -7.5-2.5 -5.3-2.9 -2-1.7 -1.7-2 -1.2-2 -0.7-2.2 -0.2-3.8 1.2-3.5 1.3-2 1.3-1.4 1.3-0.9 1.5-0.5 3.7-0.1 16.8 1.8 10.2 0.2 12-1zM552.6 420.6l6-0.1 6.3 0.6 4.5 1.1 4 1.8 4 2.9 9.9 9 1.8 2.7 0.1 1.3 -0.4 1 -2.2 2.1 -3.5 2.2 -4.7 2 -5 1.6 -5.8 1.2 -6.2 0.7 -6.3 0.4 -6.2-0.2 -6.3-0.6 -5.7-1.1 -5.5-1.5 -4.5-1.7 -3.8-2 -3.2-2.3 -2.4-2.6 -1.8-3 -0.8-3 0.1-1.2 0.4-1.3 2.1-2.2 3.2-1.8 4.8-1.5 12.1-2.6 7.5-1.2zM398.9 421.1l7.7 0.1 6.5 1.1 6.1 2.3 2.5 1.5 2 1.8 1.3 1.7 1 2.3 0.5 2.5 0 2.5 -0.5 2.5 -1 2.2 -1.5 2.3 -1.8 2 -3.6 2.6 -4.7 2.5 -5.8 2 -6.2 1.5 -7 1 -7.3 0.5 -7 0 -7.2-0.6 -9.3-1.6 -2.5-0.8 -2-1.1 -1.5-1.4 -8.1-9.4 -1.5-2.2 -0.9-2 -0.3-1.5 0.2-1.5 0.7-1.3 1.2-1 4.7-2.5 8.8-3.2 6.7-1.8 6.3-1.1 12.5-1.2z"/>
<path fill="#62f50b" d="M342.9 382.3l2.2-0.1 1.8 0.9 0.6 1.3 -0.4 1.7 -1.7 1.6 -2.3 1 -2.5 0.4 -2-0.7 -0.7-0.8 -0.2-0.7 0.5-1.8 1.9-1.7zM96.1 384l7.3 1 0.8 0.4 0.3 0.7 0.1 6 -0.7 1.3 -3.8 3.5 -2 4.8 -1.2 1.1 -2.8 0.4 -13 0 -2.2-0.2 -18.8-3.7 0-15.3zM306.9 384.1l1.7 0.3 1.2 1 0 1.2 -1.2 1.5 -3.7 2.2 -6.6 2.8 -6.9 3.5 -0.8 0.8 -2.2 4 -1.5 1.8 -3.8 3.3 -3.5 2.3 -4.7 1.9 -2.8 0.7 -2.2 0.1 -2-0.3 -1.8-0.7 -1.2-0.8 -1-1.3 -0.7-1.5 -0.5-2.5 -0.4-3.8 0.1-2.2 0.6-1.8 1-1.7 1.4-1.5 1.7-1.2 2-0.9 2.5-0.7 8.5-1.1 4-0.1 4.3 1 1.5 0 9.7-4.7 4.3-1.2zM408.1 384.1l6.3-0.1 4.2 0.9 1.4 1 0.8 1.2 0.2 1.3 -0.4 1.5 -1.5 1.6 -2.5 0.8 -6 0 -4.2-1 -2-1.7 -0.4-1 0.1-1 0.6-1.5 0.9-1.1 1-0.6zM506.6 391.4l2.8 0.1 1.5 0.6 1 0.7 0.5 0.8 0.2 1 -0.2 1 -0.5 0.8 -1.8 1.1 -2.5 0.5 -2.5-0.5 -1.5-0.9 -0.9-1.5 0.3-1.7 1.4-1.3zM640.4 392.1l4-0.1 3.4 0.4 2.8 0.7 0.6 0.8 -0.8 0.6 -2.3 0.3 -6.5-0.4 -1.9-0.5 -1-0.8 0.4-0.6zM185.9 399.9l1.2-0.1 1.8 0.7 3.5 2.4 3 2.6 1.2 1.4 0.7 1.5 0.1 1.2 -0.5 1.2 -1.5 0.5 -1.8-0.6 -5.7-4.9 -1.8-2 -0.9-1.7 -0.1-1.4zM130.4 406.4l2.7-0.1 4.3 0.7 2.7 0.8 3 1.6 2.3 2.2 1.5 2.3 0.6 2.2 -0.4 1.8 -1 0.8 -1.2 0.5 -6 1.1 -4.3 0.1 -3.2-0.4 -3.5-1.4 -0.9-1 -0.8-1.7 -0.2-1.5 0.3-2.8 0.7-2.5 0.8-1.5 1.1-0.8zM253.9 416.6l2.7 0.2 2.3 0.6 2.2 1.1 2 1.7 1.2 1.7 0.6 1.7 0.2 2 -0.5 2.3 -0.8 1.7 -1.2 1.6 -3.2 2.6 -5.8 2.4 -6.7 1.8 -7.5 1 -7.3 0.3 -7.7-0.6 -7.3-1.2 -6.5-2 -5.2-2.6 -3.2-2.8 -1-1.5 -0.6-1.7 0.1-3 1.4-2.7 2.5-2.2 3-1.2 4.5-0.3 13.8 0.7 7.5 0zM555.4 421.4l5.7 0.1 4.5 0.6 3.8 1 3.6 1.8 4.1 3 4.3 4.7 1.6 2.8 0.1 1 -0.3 1 -1.7 1.7 -3 1.8 -4 1.6 -4.2 1.3 -4.5 0.9 -5 0.6 -5.3 0.3 -5-0.2 -5-0.5 -4.7-0.8 -4.3-1.2 -4.2-1.5 -3.8-1.9 -2.9-1.9 -2-2 -1.2-2.2 -0.3-2 0.7-1.8 1.7-1.5 2.8-1.2 7-2.3 6-1.4 7.7-1.2zM390.1 423.1l7.5 0 5.5 0.5 4.9 1.3 4.9 2.2 3.7 2.5 1.4 1.5 1 1.5 0.5 1.5 0.2 1.8 -0.9 3 -1.7 2.2 -3 2.4 -4.2 2.2 -4.8 1.8 -5 1.3 -5.7 1 -6.3 0.6 -6 0.1 -6-0.4 -5.5-0.8 -5.2-1.1 -4.3-1.4 -3-1.6 -3.3-2.6 -2.8-3 -1.5-2.5 -0.3-1.2 0.1-1.3 0.5-1 0.9-1 4.2-2.5 6.4-2.7 6.1-1.8 5.7-1.1 7-0.8z"/>
<path fill="#90f808" d="M342.9 382.6l2.2-0.1 1.5 0.7 0.6 1.4 -0.5 1.5 -1.6 1.5 -2.2 0.9 -2.3 0.3 -1.7-0.6 -0.9-1.3 0.5-1.8 1.9-1.5zM408.6 384.3l5.8 0 4 0.9 1.2 0.8 0.8 1.1 0.3 1.3 -0.3 1.2 -1.3 1.6 -2.5 0.8 -5.7 0 -4.5-1 -1-0.6 -0.9-1 -0.3-1 0.2-1.3 0.7-1.2 0.8-0.8 1-0.4zM96.4 384.4l6.7 0.7 0.8 0.3 0.5 0.7 0 5.8 -0.6 1.2 -3.9 3.7 -1.8 4.6 -1.2 1.2 -2.5 0.3 -15-0.2 -19.3-3.7 0-14.6zM304.6 384.6l2.5-0.2 1.5 0.3 0.9 0.9 0 1 -1 1.3 -1.6 1.1 -8.7 3.9 -7.3 3.7 -2.7 4.3 -1.6 1.9 -3.5 3 -3.2 2.2 -4.5 2 -5 1 -2-0.2 -1.8-0.6 -1.5-1.1 -1-1.2 -0.6-1.8 -0.5-2.7 -0.2-2.8 0.1-2 0.6-1.7 1.1-1.8 1.3-1.3 1.5-1.1 3.7-1.4 7.3-1.1 5.5-0.2 4.7 0.8 1.3-0.1 9.2-4.6zM507.1 391.6l2.8 0.4 1.7 1 0.7 1.6 -0.2 1 -0.6 0.8 -1.6 0.9 -2.5 0.4 -2.3-0.5 -1.5-1 -0.6-1.3 0.4-1.6 1.5-1.1zM187.1 401.6l1 0.2 1.5 0.8 4.5 3.4 1.6 1.9 0.2 0.7 -0.2 0.8 -0.8 0.2 -1.3-0.4 -4.4-3.8 -2.3-2.5 -0.2-0.8zM132.1 406.4l3 0.2 4 0.9 4.4 2.4 2.1 2.2 1.3 2.1 0.5 2.2 -0.4 1.5 -1.4 1 -2.7 0.7 -3.3 0.5 -4 0.1 -4.5-0.5 -3.2-1.4 -1.1-1.4 -0.5-1.8 0.1-3 0.7-2.7 0.8-1.5 1-0.9zM249.6 417.9l3.1 0.2 2.4 0.6 2.4 1.2 2.6 2 1.4 2 0.4 2 -0.6 2 -1.5 1.7 -2.7 2 -3.2 1.8 -3.8 1.4 -4 1 -4.7 0.8 -5 0.5 -4.8 0.1 -9.7-1 -4.3-1 -3.7-1.2 -3.8-1.8 -3.1-2.1 -1.9-1.9 -0.8-1.8 0.3-2.3 1.5-2.2 2.6-1.8 3.2-1.1 4.7-0.4 18 0.1zM553.1 422.4l5.3-0.2 5.2 0.4 3.8 0.8 3.2 1.2 3.9 2.5 3 3 1.5 3 0.1 1.3 -0.3 1 -1.2 1.5 -2.1 1.5 -2.9 1.4 -3.2 1.1 -7.8 1.6 -8.5 0.3 -8.2-0.8 -7-1.9 -2.8-1.3 -2.2-1.4 -1.9-1.8 -1.2-1.7 -0.6-2.3 0.5-2 1.5-1.7 2.4-1.5 3.3-1.3 4-1 6-1zM385.4 424.9l6.2 0 5.8 0.6 4.7 1.1 3.9 1.5 3.3 2.3 1.9 2.5 0.7 2.7 -0.7 2.8 -1.4 2 -2.1 1.7 -2.6 1.5 -3.2 1.2 -4 1.1 -4.5 0.8 -9.5 0.7 -9.8-0.8 -4.5-0.8 -3.7-1.1 -3.2-1.3 -2.4-1.5 -2-1.8 -1.3-2 -0.6-2.5 0.7-2.2 1.9-2 3.3-2 4.7-1.8 5.9-1.4 5.7-0.9z"/>
<path fill="#bdfb05" d="M342.9 382.9l2-0.2 1.5 0.7 0.6 1.2 -0.6 1.5 -1.5 1.3 -2.3 0.9 -2.2 0.2 -1.5-0.6 -0.6-1.3 0.5-1.5 1.8-1.4zM306.6 384.6l1.8 0.3 0.8 0.7 0 1 -1.1 1.3 -3.7 2.1 -6.2 2.6 -7.6 3.7 -2.7 4.4 -1.9 2.2 -3.6 3 -3.8 2.3 -4.5 1.7 -4.2 0.6 -1.8-0.3 -1.7-0.7 -1.2-0.9 -0.8-1.2 -0.7-1.8 -0.4-2.7 -0.1-2.5 0.2-1.8 0.6-1.7 0.9-1.5 1.2-1.3 1.8-1.2 4-1.3 7.7-1 4.8-0.2 5.2 0.6 10-4.8 4-1.1zM408.6 384.6l5.5-0.1 4 0.8 1.3 0.8 0.7 1 0.3 1.3 -0.3 1.2 -1.4 1.5 -2.3 0.7 -5.8-0.1 -4.2-1 -1-0.6 -0.8-1 -0.2-1 0.2-1 0.8-1.2 0.7-0.7zM96.4 384.6l6.7 0.7 0.8 0.2 0.4 0.6 0 5.5 -0.7 1.4 -4 3.8 -1.7 4.6 -1 1 -2.5 0.2 -15-0.1 -19.3-3.8 0-14.1zM507.1 391.9l2.5 0.3 1.8 0.9 0.6 1.5 -0.6 1.5 -1.5 0.9 -2.3 0.4 -2.2-0.4 -1.5-0.9 -0.7-1.2 0.5-1.5 1.4-1.1zM131.1 406.6l3.2 0 3.8 0.8 2.2 0.7 2.8 1.6 2 1.9 1.5 2.3 0.7 2.2 -0.4 1.7 -1.3 0.9 -2.5 0.7 -3.2 0.5 -4 0.2 -4.8-0.6 -3-1.3 -1-1.3 -0.6-1.8 0-2.5 0.4-2.2 0.7-1.8 0.8-1 1-0.6zM247.6 419.1l2.8 0.3 2.3 0.7 1.9 1.3 1.5 1.7 0.7 2 -0.3 2 -1.1 2 -1.7 1.5 -2 1.3 -5.7 2 -7.9 1.2 -8 0.2 -8-1 -6.2-1.8 -2.5-1.3 -1.8-1.3 -1.3-1.5 -0.7-1.8 0-2.2 1.1-2 1.9-1.5 2.5-0.9 4-0.4zM555.6 423.1l4.5 0 4 0.4 3.3 0.7 2.6 1.2 2.9 2 2.5 2.7 0.8 2 -0.4 2 -1 1.3 -1.9 1.3 -5.3 2.1 -7 1.4 -7.5 0.4 -6.5-0.6 -5.5-1.5 -5-2.5 -1.5-1.4 -1-1.5 -0.4-1.7 0.4-1.8 1.2-1.5 2.1-1.2 3.8-1.3 5.3-1.2zM382.1 426.6l5.3 0 5 0.5 4.2 1 4.8 1.8 2.8 1.5 1.8 1.7 0.8 2 -0.3 2 -0.9 1.5 -1.4 1.3 -4.9 2.2 -7.2 1.9 -7.7 0.7 -7.3-0.5 -6.7-1.5 -5.6-2.3 -1.7-1.3 -1.2-1.5 -0.5-1.7 0.3-1.8 1.2-1.6 2-1.4 3.8-1.7 4.4-1.5 4.3-0.8z"/>
<path fill="#e9fe02" d="M342.9 383.1l2-0.1 1.4 0.6 0.4 1.3 -0.6 1.2 -1.5 1.2 -2 0.8 -2 0.2 -1.5-0.5 -0.6-1.2 0.6-1.4 1.7-1.3zM96.4 384.9l6.7 0.5 0.8 0.3 0.3 0.7 -0.1 5.2 -0.6 1.3 -4 3.7 -1.6 4.5 -1 1 -2.3 0.3 -15-0.1 -19.5-3.8 0-13.6zM306.1 384.9l1.8 0 1 0.7 0 1 -1 1.2 -3.8 2.1 -13.7 6.2 -2.7 4.3 -2 2.2 -3.6 3 -3.7 2.3 -4.3 1.6 -4.2 0.6 -1.8-0.3 -1.5-0.6 -1.1-0.8 -0.9-1.3 -0.6-1.7 -0.4-2.8 0.1-4 0.7-1.6 1-1.5 1.2-1.3 1.5-1 3.8-1.2 7-1 5.2-0.2 5.5 0.5 10-4.9 3.6-1zM408.6 384.8l5.5 0 3.8 0.7 1.2 0.7 0.8 0.9 0.3 1 -0.2 1.3 -1.4 1.5 -2 0.6 -5.7 0 -4.3-0.9 -1-0.6 -0.8-0.9 -0.2-1 0.2-1 1.3-1.6zM507.1 392.1l2.3 0.3 1.7 0.8 0.7 1.4 -0.5 1.3 -1.4 0.8 -2.3 0.5 -2-0.4 -1.5-0.8 -0.6-1.1 0.4-1.4 1.2-0.9zM130.4 406.9l2.7-0.2 3.5 0.4 3.3 1 2.9 1.5 2.1 1.9 1.5 2.2 0.7 2.2 -0.3 1.7 -0.7 0.8 -1.2 0.5 -6.3 1 -3.7 0 -3-0.4 -3.5-1.4 -0.9-1 -0.7-1.5 0-4 0.6-2.1 0.7-1.4 1-0.8zM229.6 420.1l9.9 0 6.6 0.4 2.5 0.4 2.3 0.9 1.6 1.3 0.9 1.8 -0.1 1.7 -0.6 1.3 -1.3 1.2 -4 2.1 -6.5 1.5 -7.3 0.7 -7-0.5 -6.5-1.3 -4.6-2 -1.5-1.2 -0.9-1.3 -0.3-1.5 0.3-1.5 1-1.3 1.8-1 3.5-0.9zM555.6 424.1l7.8 0.2 2.7 0.6 2.5 0.9 2 1.3 1.5 1.8 0.7 2 -0.2 1.5 -1 1.2 -1.2 1 -4.5 2.2 -5.8 1.4 -6 0.6 -5.7-0.3 -4.5-1.1 -3.2-1.8 -2.4-2.7 -0.4-1.5 0.3-1.3 1.2-1.2 2.4-1.5 2.8-1.2 3-0.9zM381.6 428.4l3.8-0.1 3.7 0.3 3.5 0.8 2.6 1 1.9 1.2 1.6 1.8 0.5 1.7 -0.3 1.8 -2 2.2 -3 1.6 -4.3 1.2 -5 0.4 -5.2-0.2 -4.8-1 -3.4-1.5 -2.3-2 -0.7-1.5 0.1-1.7 0.7-1.5 1.6-1.5 2-1.1 2.5-0.9z"/>
<path fill="#ffe500" d="M342.9 383.3l1.7-0.1 1.3 0.4 0.6 1 -0.5 1.3 -1.4 1.1 -2 0.9 -2 0.2 -1.3-0.5 -0.5-1 0.4-1.2 1.6-1.3zM96.4 385.1l6.5 0.4 0.7 0.3 0.4 0.6 -0.1 5 -0.5 1.3 -4.1 3.9 -1.6 4.5 -0.8 0.8 -2.3 0.3 -15-0.2 -19.5-3.7 0-13.2zM305.9 385.1l1.5 0 0.9 0.3 0.5 0.7 -0.3 0.8 -1.4 1.2 -3 1.5 -6.2 2.7 -5 2.6 -2.5 0.8 -0.8 0.8 -2.2 3.7 -2 2.2 -3.3 2.7 -3.7 2.4 -4 1.6 -4.3 0.7 -3-0.7 -1.2-0.9 -0.9-1.1 -0.5-1.5 -0.5-2.5 -0.1-2.5 0.2-1.7 0.5-1.6 1-1.6 2.6-2.1 3.5-1.2 6.9-1 5.5-0.2 5.3 0.5 10.2-5zM408.4 385.1l5.5-0.1 3.7 0.7 1.3 0.6 0.7 0.8 0.3 1 -0.1 1 -1.2 1.5 -2 0.6 -5.7 0 -4-0.8 -1.8-1.2 -0.2-1.6 1.1-1.7zM507.1 392.4l2 0.1 1.8 0.9 0.6 1 -0.4 1.2 -1.2 0.9 -2 0.4 -2-0.2 -1.5-0.8 -0.6-1 0.3-1.3 1.3-0.8zM131.6 406.9l2.8 0 3.7 0.7 2.2 0.8 2.6 1.5 2 1.8 1.5 2.3 0.6 2.1 -0.3 1.5 -1.1 0.9 -2.3 0.6 -3.4 0.5 -3.8 0.1 -4.7-0.5 -3-1.3 -1-1.3 -0.5-1.5 0-2.7 0.5-2.3 0.6-1.5 0.9-1zM229.6 420.9l7.8 0 4.7 0.8 2 0.9 1.4 1.3 0.7 1.2 -0.1 1.3 -1.7 2 -2.8 1.6 -3.7 1 -4.3 0.4 -4.7-0.2 -4.3-0.9 -2.9-1.4 -2.1-2 -0.3-1.3 0.2-1 0.7-1 1.3-1 3.1-1.1zM558.4 425.4l5.5 0.3 3.8 1.2 1.4 1 0.6 1 0.2 1 -0.3 1.2 -1.7 1.9 -3.3 1.7 -4.2 1.3 -4.8 0.8 -5 0 -4-0.6 -2.7-1.1 -1.7-1.7 -0.3-1.5 0.5-1.5 1.2-1.4 1.9-1.1 5.6-1.8zM381.4 430.9l5.5 0 5 1.1 1.5 0.8 1 0.8 0.6 1 -0.1 1.3 -1.3 1.5 -2 1 -3.2 0.8 -4 0.4 -4-0.2 -3.8-0.7 -2.5-1.1 -1.5-1.2 -0.3-0.8 0-1 0.6-1 0.8-0.7 3.1-1.3z"/>
<path fill="#ffb100" d="M342.9 383.6l1.5-0.2 1.2 0.4 0.6 0.8 -0.3 1 -1.5 1.3 -1.8 0.7 -2 0.2 -1.1-0.4 -0.4-1 0.5-1 1.3-1zM96.4 385.3l6.5 0.4 0.7 0.3 0.2 0.6 -0.1 4.8 -0.6 1.2 -3.9 3.8 -1.6 4.4 -0.7 0.9 -2 0.2 -15-0.1 -19.8-3.8 0-12.7zM305.9 385.4l2 0.1 0.4 0.4 0 0.7 -1.3 1.3 -2.9 1.5 -6.2 2.6 -5.3 2.7 -2.5 0.7 -0.7 0.7 -2.3 3.8 -1.9 2.2 -3.4 2.8 -3.7 2.3 -3.7 1.5 -4.3 0.7 -3-0.8 -1-0.7 -0.8-1 -0.5-1.5 -0.4-2.5 0.1-4 0.5-1.5 1-1.5 2.5-2 3.8-1.3 7.1-0.9 5-0.2 5 0.5 10.4-5.1zM408.4 385.4l5.5-0.2 3.5 0.7 1.1 0.5 0.8 0.7 0.3 1 -0.1 1 -1.1 1.3 -2 0.6 -5.3 0 -4-0.8 -1.7-1.1 -0.3-1.5 1-1.5zM507.1 392.6l1.8 0.1 1.6 0.7 0.7 1 -0.2 1 -1.1 0.8 -1.8 0.4 -1.7-0.1 -1.6-0.6 -0.7-1 0.2-1 1.1-0.9zM131.1 407.1l3-0.1 3.3 0.6 2.5 0.8 2.7 1.5 2 1.8 1.5 2.1 0.7 2.1 -0.2 1.5 -0.7 0.7 -1.2 0.5 -5.8 0.9 -5.5-0.1 -2.5-0.5 -2.1-1 -1-1 -0.7-1.7 0.3-4.3 0.5-1.7 0.7-1.1 1-0.7zM231.1 421.6l5.8 0.2 3.7 0.8 1.3 0.6 0.8 0.9 0.4 1 -0.2 1.3 -1 1.3 -2 1.2 -3 0.7 -3.3 0.3 -3.7-0.1 -3.5-0.6 -2.3-1 -1.5-1.3 -0.4-1 0-1 0.6-1 0.9-0.8 2.8-1zM557.4 427.4l2.5-0.2 1.7 0.4 1.1 1 0 1.3 -0.6 0.8 -1 0.7 -4 1.3 -3.5 0.1 -1-0.3 -0.9-0.6 -0.3-1.5 0.8-1.3 1.9-0.9z"/>
<path fill="#ff7e00" d="M342.9 383.9l2.3 0 0.6 0.7 -0.1 0.8 -1.1 1 -2 0.9 -1.7 0.2 -1.2-0.4 -0.3-0.7 0.6-1 1.4-1zM96.4 385.6l6.2 0.3 0.7 0.2 0.3 0.5 -0.1 4.5 -0.6 1.4 -4 3.9 -1.5 4.4 -0.8 0.7 -16.5 0.1 -20-3.8 0-12.2zM306.1 385.6l1.3 0.1 0.6 0.4 -0.3 0.8 -1.2 1 -9.1 4 -4.8 2.5 -2.9 0.7 -2.6 4.1 -2.2 2.6 -3.8 3.1 -3.8 2.2 -4.2 1.5 -3.2 0.3 -2.8-0.8 -1.5-1.6 -0.5-1.4 -0.4-2.7 0.2-3.5 1.5-2.8 2.5-1.9 3.5-1.2 7.2-0.9 5-0.1 4.8 0.5 5.6-3.1 4.9-2.3 3.3-1zM408.6 385.6l5.3-0.1 3.2 0.6 1.8 1 0.4 0.8 0 1 -0.9 1.2 -2.3 0.6 -5.5 0 -4.2-1.1 -1-1.2 0.2-1.3 1-1zM507.6 392.9l1.6 0.2 1.2 0.6 0.5 0.8 -0.3 0.9 -1.2 0.7 -1.8 0.3 -1.7-0.3 -1.2-0.7 -0.3-0.9 0.5-0.8 1-0.6zM133.4 407.2l3.2 0.4 2.8 0.8 3.2 1.7 1.8 1.6 1.5 2.1 0.7 2.1 -0.2 1.5 -0.9 0.7 -1.6 0.5 -5.8 0.7 -3.2 0 -3-0.4 -3-1.2 -1-1.1 -0.5-1.4 0.1-3.8 0.4-1.5 0.7-1.5 1-0.7zM229.6 422.9l4.8-0.1 4.2 0.5 2.1 1.1 0.5 0.7 -0.1 0.8 -0.7 1 -1.8 0.8 -2.7 0.6 -2.8 0.2 -3-0.1 -2.9-0.5 -1.9-0.8 -1.1-1 0-1.2 0.9-0.9 1.8-0.7zM558.1 428.6l2 0.1 0.4 0.2 0.2 0.5 -0.8 0.8 -2.8 0.9 -2.2 0.2 -1.3-0.4 0-0.6 0.8-0.7z"/>
<path fill="#ff5500" d="M343.6 384.1l1.1 0 0.7 0.5 -0.1 0.5 -0.6 0.8 -2.6 1.2 -1.2 0.1 -0.9-0.3 -0.1-0.8 0.6-0.7 1.4-0.8zM409.9 385.9l4.1 0 2.9 0.5 1.7 1 0.4 0.7 -0.1 0.8 -0.5 0.7 -1 0.6 -3.5 0.2 -4.5-0.3 -2-0.5 -1.3-0.7 -0.3-1.3 0.7-1 1.1-0.4zM96.1 385.9l6.3 0.3 0.7 0.2 0.3 0.5 -0.1 4 -0.7 1.5 -3.9 3.7 -1.6 4.5 -0.5 0.6 -1.7 0.2 -14.8-0.1 -20-3.9 0-11.5zM305.1 386.1l1.5-0.1 0.8 0.4 -0.5 0.7 -1.2 0.8 -8.3 3.7 -5 2.5 -1.3 0.2 -1.5-0.5 -2.5 4.5 -2.2 2.8 -3.7 3 -4.1 2.5 -3.3 1.3 -3.7 0.5 -2.5-0.6 -1.5-1.5 -0.8-3.7 0.1-3.5 0.5-1.3 0.9-1.4 2.4-1.8 4.3-1.2 7.6-0.9 5.3 0.1 3 1 1.6-1.5 5.8-3.2 4.2-1.8zM506.6 393.3l1.5 0 1.4 0.3 0.8 0.5 0.1 0.8 -0.8 0.7 -1.2 0.3 -1.5 0.1 -1.2-0.4 -0.7-0.5 -0.2-0.7 0.6-0.6zM133.6 407.5l3 0.4 2.7 0.7 2.9 1.5 1.9 1.7 1.5 2 0.8 2.1 -0.3 1.4 -1.2 0.8 -2.2 0.5 -6.3 0.5 -4.4-0.5 -2.9-1.2 -1-1 -0.4-1.3 0.2-4.1 1-2.4 1-0.7z"/>
<path fill="#ff3600" d="M343.4 384.6l1 0 0.3 0.5 -0.8 0.8 -1 0.5 -1.5 0.3 -0.8-0.3 0.8-1zM96.4 386.3l5.7 0.2 0.6 0.1 0.3 0.5 -0.1 3.5 -0.5 1.4 -4.2 4.1 -1.3 4.1 -0.5 0.6 -16.3 0.1 -20-3.9 0-10.7zM413.6 386.3l2.5 0.4 1.8 0.7 0.5 0.5 0 0.7 -0.5 0.8 -0.8 0.4 -3.2 0.2 -4.6-0.4 -1.9-0.5 -0.8-0.5 -0.3-0.7 0.4-0.8 0.9-0.5zM305.1 386.6l1 0 0.1 0.3 -2.5 1.5 -6.3 2.7 -5 2.5 -1 0.1 -0.4-0.3 0.1-0.5 0.8-0.8 5.4-3 3.6-1.5zM283.4 393.2l3.2 0.1 1.3 0.6 0.2 1 -1.2 2.6 -2.3 2.9 -2.8 2.5 -3.3 2.2 -3 1.5 -3.6 1 -2.5 0.1 -1.9-0.8 -0.6-0.8 -0.5-1.2 -0.5-3.8 0.3-2.2 1.1-2 1.5-1.3 2.2-1 3.6-0.7zM506.4 393.9l2.2-0.1 0.8 0.3 0.4 0.5 -0.4 0.5 -0.8 0.3 -2.2 0 -0.9-0.8zM131.9 407.9l2.6 0 3.7 0.7 2 0.8 2.1 1.2 1.8 1.7 1.3 1.8 0.6 1.8 -0.1 1.1 -0.8 0.6 -3 0.8 -5.7 0.3 -4.8-0.6 -2.3-1 -0.7-0.7 -0.6-1.5 0-2.3 0.4-2.1 1-1.9z"/>
</g>
<path fill="#fff" fill-rule="evenodd" d="M58 374 H768 V462 H58 z M66.8 390 L120 389 L184 387.5 L240 385.5 L298 383.3 L330 381.8 L420 381.6 L530 381.7 L600 382.4 L658 383.3 L700 386 L759 390 L759 393.3 L759 393.3 L744 393.3 L744 397.5 L744 397.5 L729 397.5 L729 400.8 L729 400.8 L713.3 400.8 L713.3 404 L713.3 404 L699 404 L699 408.3 L699 408.3 L684 408.3 L684 412.5 L684 412.5 L670 412.5 L670 416.7 L670 416.7 L655 416.7 L655 421 L655 421 L640 421 L640 426.7 L640 426.7 L625 426.7 L625 431.7 L625 431.7 L610 431.7 L610 435.8 L610 435.8 L594 435.8 L594 440 L594 440 L580 440 L580 445 L580 445 L565 445 L565 450 L565 450 L550 450 L550 454.3 L291.7 454.3 L291.7 450.8 L276.7 450.8 L276.7 447.5 L261.7 447.5 L261.7 443.3 L246.7 443.3 L246.7 439.2 L231.7 439.2 L231.7 435 L216.7 435 L216.7 431.7 L201.7 431.7 L201.7 427.5 L186.7 427.5 L186.7 423.3 L172.7 423.3 L172.7 419.2 L157.7 419.2 L157.7 415.8 L142.7 415.8 L142.7 411.7 L127.7 411.7 L127.7 408.3 L112.7 408.3 L112.7 403.3 L97.7 403.3 L97.7 399.2 L82.7 399.2 L82.7 395 L66.8 395 z"/>
<path fill="#0a120a" opacity="0.85" d="M262 391.3 L270 388 L285 385 L300 383.3 L319.5 382 L318.5 385.5 L311 385.3 L306 384 L296 387 L288 391.5 L280 390.8 L268 392.5z"/>
<path fill="#0a120a" opacity="0.7" d="M296 400 L299 395.5 L308 391 L317 388 L319 384.5 L311.5 386.5 L306 390 L298 393.3 L292 397z"/>
<path fill="#0a120a" opacity="0.55" d="M286 396 L290 392 L287 404 L283 406z"/>
<path fill="#0a120a" opacity="0.85" d="M331 381.8 L376 381.8 L376 383.8 L352 385 L349 383.3 L339.5 383.3 L337 388.3 L331.5 387.5z"/>
<path fill="#0a120a" opacity="0.8" d="M334 389.3 L340 391.8 L362 394 L363 391 L350 390.3 L341 388.5z"/>
<path fill="#0a120a" opacity="0.5" d="M349 385.5 L372 384 L371 388 L352 390z"/>
<path fill="#0a120a" opacity="0.85" d="M404 381.8 L427 381.8 L426.5 385.5 L420.5 384.6 L404 384.2z"/>
<path fill="#0a120a" opacity="0.65" d="M404 390.5 L413 392 L419 396.5 L411 396.7z"/>
<path fill="#0a120a" opacity="0.85" d="M494.5 381.8 L519 381.8 L516.5 390 L512 392 L504 391 L498.5 387z"/>
<path fill="#0a120a" opacity="0.65" d="M502.5 396.8 L512.5 397 L511 400.3 L505 399.8z"/>
<path fill="#0a120a" opacity="0.8" d="M104.5 391.5 L99.5 396.5 L98 402.5 L99.3 402.8 L101 397.5 L105.8 392.5z"/>
<path fill="#0a120a" opacity="0.8" d="M119 407.3 L128 404.3 L136 404.5 L143 408 L147 413 L145 413.3 L141 409 L135 406.2 L128 406.2 L120 408.7z"/>
<path fill="#0a120a" opacity="0.5" d="M96 390.3 L110 390.3 L104 392z"/>
<path fill="#0a120a" opacity="0.4" d="M106 390 L170 388.3 L230 386 L262 384.5 L262 386 L230 388 L170 390.3 L120 391.5z"/>
<path fill="none" stroke="#5a4a86" stroke-width="1.5" stroke-linecap="round" stroke-linejoin="round" opacity="0.85" d="M330.5 388 L340 392.5 L365 395 L383 393.5 L396.5 388.5 L403 390 L410 398.3 L435 403.3 L460 397 L476 390.5 L486 389 L493 391 L503 401.5 L518 402.5 L538 397 L547 393.5 L587 390 L613 398.3 L633 403.3 L658 401.7 L678.3 395.8 L713.3 403.3"/>
<path fill="none" stroke="#5a4a86" stroke-width="1.5" stroke-linecap="round" stroke-linejoin="round" opacity="0.8" d="M572 413.5 L585 425 L596.7 435 L605 438.5"/>
<path fill="none" stroke="#5a4a86" stroke-width="1.5" stroke-linecap="round" stroke-linejoin="round" opacity="0.7" d="M288 421 L300 427.7 L323 427.7 L348 421.2"/>
<rect x="111.5" y="397.1" width="8" height="6.4" fill="#fff" stroke="#888" stroke-width="0.3"/><text x="115.5" y="402.1" font-size="5" text-anchor="middle" fill="#333">1.0</text><rect x="151.5" y="403.8" width="8" height="6.4" fill="#fff" stroke="#888" stroke-width="0.3"/><text x="155.5" y="408.8" font-size="5" text-anchor="middle" fill="#333">0.0</text><rect x="225.5" y="404.8" width="8" height="6.4" fill="#fff" stroke="#888" stroke-width="0.3"/><text x="229.5" y="409.8" font-size="5" text-anchor="middle" fill="#333">0.0</text><rect x="274" y="395.8" width="9" height="6.4" fill="#fff" stroke="#888" stroke-width="0.3"/><text x="278.5" y="400.8" font-size="5" text-anchor="middle" fill="#333">310</text><rect x="232" y="432.6" width="9" height="6.4" fill="#fff" stroke="#888" stroke-width="0.3"/><text x="236.5" y="437.6" font-size="5" text-anchor="middle" fill="#333">170</text><rect x="282.8" y="440.8" width="6.5" height="6.4" fill="#fff" stroke="#888" stroke-width="0.3"/><text x="286" y="445.8" font-size="5" text-anchor="middle" fill="#333">65</text><rect x="316.5" y="403.8" width="8" height="6.4" fill="#fff" stroke="#888" stroke-width="0.3"/><text x="320.5" y="408.8" font-size="5" text-anchor="middle" fill="#333">0.0</text><rect x="349" y="385.3" width="9" height="6.4" fill="#fff" stroke="#888" stroke-width="0.3"/><text x="353.5" y="390.3" font-size="5" text-anchor="middle" fill="#333">300</text><rect x="369" y="394.3" width="8" height="6.4" fill="#fff" stroke="#888" stroke-width="0.3"/><text x="373" y="399.3" font-size="5" text-anchor="middle" fill="#333">5.0</text><rect x="384.5" y="428.3" width="9" height="6.4" fill="#fff" stroke="#888" stroke-width="0.3"/><text x="389" y="433.3" font-size="5" text-anchor="middle" fill="#333">160</text><rect x="425.2" y="382.3" width="6.5" height="6.4" fill="#fff" stroke="#888" stroke-width="0.3"/><text x="428.5" y="387.3" font-size="5" text-anchor="middle" fill="#333">75</text><rect x="447.5" y="404.1" width="8" height="6.4" fill="#fff" stroke="#888" stroke-width="0.3"/><text x="451.5" y="409.1" font-size="5" text-anchor="middle" fill="#333">1.0</text><rect x="470.5" y="434.8" width="9" height="6.4" fill="#fff" stroke="#888" stroke-width="0.3"/><text x="475" y="439.8" font-size="5" text-anchor="middle" fill="#333">110</text><rect x="501.5" y="385.3" width="9" height="6.4" fill="#fff" stroke="#888" stroke-width="0.3"/><text x="506" y="390.3" font-size="5" text-anchor="middle" fill="#333">120</text><rect x="566.5" y="402.3" width="8" height="6.4" fill="#fff" stroke="#888" stroke-width="0.3"/><text x="570.5" y="407.3" font-size="5" text-anchor="middle" fill="#333">2.0</text><rect x="545.5" y="431.3" width="9" height="6.4" fill="#fff" stroke="#888" stroke-width="0.3"/><text x="550" y="436.3" font-size="5" text-anchor="middle" fill="#333">160</text><rect x="639.2" y="384.8" width="6.5" height="6.4" fill="#fff" stroke="#888" stroke-width="0.3"/><text x="642.5" y="389.8" font-size="5" text-anchor="middle" fill="#333">15</text><rect x="635.5" y="407.3" width="8" height="6.4" fill="#fff" stroke="#888" stroke-width="0.3"/><text x="639.5" y="412.3" font-size="5" text-anchor="middle" fill="#333">0.0</text>
<line x1="27.8" y1="382" x2="27.8" y2="529.5" stroke="#333" stroke-width="1"/>
<line x1="23.2" y1="383.2" x2="27.8" y2="383.2" stroke="#333" stroke-width="1"/>
<text class="b" x="22.4" y="386.5" font-size="8.9" text-anchor="end">50</text>
<line x1="23.2" y1="412.5" x2="27.8" y2="412.5" stroke="#333" stroke-width="1"/>
<text class="b" x="22.4" y="415.8" font-size="8.9" text-anchor="end">40</text>
<line x1="23.2" y1="441.7" x2="27.8" y2="441.7" stroke="#333" stroke-width="1"/>
<text class="b" x="22.4" y="445" font-size="8.9" text-anchor="end">30</text>
<line x1="23.2" y1="471" x2="27.8" y2="471" stroke="#333" stroke-width="1"/>
<text class="b" x="22.4" y="474.3" font-size="8.9" text-anchor="end">20</text>
<line x1="23.2" y1="500.2" x2="27.8" y2="500.2" stroke="#333" stroke-width="1"/>
<text class="b" x="22.4" y="503.5" font-size="8.9" text-anchor="end">10</text>
<line x1="23.2" y1="529.5" x2="27.8" y2="529.5" stroke="#333" stroke-width="1"/>
<text class="b" x="22.4" y="532.8" font-size="8.9" text-anchor="end">0</text>
<line x1="27.5" y1="529.6" x2="768" y2="529.6" stroke="#2424b4" stroke-width="2.2"/>
<line x1="66.9" y1="459.4" x2="759.4" y2="459.4" stroke="#777" stroke-width="0.8"/>
<line x1="66.9" y1="459.4" x2="66.9" y2="461.2" stroke="#777" stroke-width="0.7"/>
<text x="66.9" y="467.6" font-size="5.6" text-anchor="middle" fill="#505050">0</text>
<line x1="96.3" y1="459.4" x2="96.3" y2="461.2" stroke="#777" stroke-width="0.7"/>
<text x="96.3" y="467.6" font-size="5.6" text-anchor="middle" fill="#505050">10.</text>
<line x1="125.7" y1="459.4" x2="125.7" y2="461.2" stroke="#777" stroke-width="0.7"/>
<text x="125.7" y="467.6" font-size="5.6" text-anchor="middle" fill="#505050">20.</text>
<line x1="155" y1="459.4" x2="155" y2="461.2" stroke="#777" stroke-width="0.7"/>
<text x="155" y="467.6" font-size="5.6" text-anchor="middle" fill="#505050">30.</text>
<line x1="184.4" y1="459.4" x2="184.4" y2="461.2" stroke="#777" stroke-width="0.7"/>
<text x="184.4" y="467.6" font-size="5.6" text-anchor="middle" fill="#505050">40.</text>
<line x1="213.8" y1="459.4" x2="213.8" y2="461.2" stroke="#777" stroke-width="0.7"/>
<text x="213.8" y="467.6" font-size="5.6" text-anchor="middle" fill="#505050">50.</text>
<line x1="243.2" y1="459.4" x2="243.2" y2="461.2" stroke="#777" stroke-width="0.7"/>
<text x="243.2" y="467.6" font-size="5.6" text-anchor="middle" fill="#505050">60.</text>
<line x1="272.6" y1="459.4" x2="272.6" y2="461.2" stroke="#777" stroke-width="0.7"/>
<text x="272.6" y="467.6" font-size="5.6" text-anchor="middle" fill="#505050">70.</text>
<line x1="301.9" y1="459.4" x2="301.9" y2="461.2" stroke="#777" stroke-width="0.7"/>
<text x="301.9" y="467.6" font-size="5.6" text-anchor="middle" fill="#505050">80.</text>
<line x1="331.3" y1="459.4" x2="331.3" y2="461.2" stroke="#777" stroke-width="0.7"/>
<text x="331.3" y="467.6" font-size="5.6" text-anchor="middle" fill="#505050">90.</text>
<line x1="360.7" y1="459.4" x2="360.7" y2="461.2" stroke="#777" stroke-width="0.7"/>
<text x="360.7" y="467.6" font-size="5.6" text-anchor="middle" fill="#505050">100.</text>
<line x1="390.1" y1="459.4" x2="390.1" y2="461.2" stroke="#777" stroke-width="0.7"/>
<text x="390.1" y="467.6" font-size="5.6" text-anchor="middle" fill="#505050">110.</text>
<line x1="419.5" y1="459.4" x2="419.5" y2="461.2" stroke="#777" stroke-width="0.7"/>
<text x="419.5" y="467.6" font-size="5.6" text-anchor="middle" fill="#505050">120.</text>
<line x1="448.8" y1="459.4" x2="448.8" y2="461.2" stroke="#777" stroke-width="0.7"/>
<text x="448.8" y="467.6" font-size="5.6" text-anchor="middle" fill="#505050">130.</text>
<line x1="478.2" y1="459.4" x2="478.2" y2="461.2" stroke="#777" stroke-width="0.7"/>
<text x="478.2" y="467.6" font-size="5.6" text-anchor="middle" fill="#505050">140.</text>
<line x1="507.6" y1="459.4" x2="507.6" y2="461.2" stroke="#777" stroke-width="0.7"/>
<text x="507.6" y="467.6" font-size="5.6" text-anchor="middle" fill="#505050">150.</text>
<line x1="537" y1="459.4" x2="537" y2="461.2" stroke="#777" stroke-width="0.7"/>
<text x="537" y="467.6" font-size="5.6" text-anchor="middle" fill="#505050">160.</text>
<line x1="566.4" y1="459.4" x2="566.4" y2="461.2" stroke="#777" stroke-width="0.7"/>
<text x="566.4" y="467.6" font-size="5.6" text-anchor="middle" fill="#505050">170.</text>
<line x1="595.7" y1="459.4" x2="595.7" y2="461.2" stroke="#777" stroke-width="0.7"/>
<text x="595.7" y="467.6" font-size="5.6" text-anchor="middle" fill="#505050">180.</text>
<line x1="625.1" y1="459.4" x2="625.1" y2="461.2" stroke="#777" stroke-width="0.7"/>
<text x="625.1" y="467.6" font-size="5.6" text-anchor="middle" fill="#505050">190.</text>
<line x1="654.5" y1="459.4" x2="654.5" y2="461.2" stroke="#777" stroke-width="0.7"/>
<text x="654.5" y="467.6" font-size="5.6" text-anchor="middle" fill="#505050">200.</text>
<line x1="683.9" y1="459.4" x2="683.9" y2="461.2" stroke="#777" stroke-width="0.7"/>
<text x="683.9" y="467.6" font-size="5.6" text-anchor="middle" fill="#505050">210.</text>
<line x1="713.3" y1="459.4" x2="713.3" y2="461.2" stroke="#777" stroke-width="0.7"/>
<text x="713.3" y="467.6" font-size="5.6" text-anchor="middle" fill="#505050">220.</text>
<line x1="742.6" y1="459.4" x2="742.6" y2="461.2" stroke="#777" stroke-width="0.7"/>
<text x="742.6" y="467.6" font-size="5.6" text-anchor="middle" fill="#505050">230.</text>
<text x="742.6" y="473.8" font-size="5.2" text-anchor="middle" fill="#505050">[m]</text>
<rect x="353.2" y="470.4" width="121" height="8.8" fill="url(#cb)"/>
<text x="351.7" y="479" font-size="5" text-anchor="end" fill="#444">[Chargeability]</text>
<text x="475.7" y="479" font-size="5" fill="#444">[%]</text>
<text x="353.6" y="486.7" font-size="5.2" text-anchor="middle" fill="#444">0.</text>
<line x1="353.6" y1="476.8" x2="353.6" y2="479" stroke="#333" stroke-width="0.5" opacity="0.6"/>
<text x="383" y="486.7" font-size="5.2" text-anchor="middle" fill="#444">50.</text>
<line x1="383" y1="476.8" x2="383" y2="479" stroke="#333" stroke-width="0.5" opacity="0.6"/>
<text x="412.6" y="486.7" font-size="5.2" text-anchor="middle" fill="#444">100.</text>
<line x1="412.6" y1="476.8" x2="412.6" y2="479" stroke="#333" stroke-width="0.5" opacity="0.6"/>
<text x="442.7" y="486.7" font-size="5.2" text-anchor="middle" fill="#444">150.</text>
<line x1="442.7" y1="476.8" x2="442.7" y2="479" stroke="#333" stroke-width="0.5" opacity="0.6"/>
<text x="472" y="486.7" font-size="5.2" text-anchor="middle" fill="#444">200.</text>
<line x1="472" y1="476.8" x2="472" y2="479" stroke="#333" stroke-width="0.5" opacity="0.6"/>
<g stroke="#474747" stroke-width="1.6" stroke-linecap="round">
<line x1="179" y1="376.3" x2="226.5" y2="385.4"/>
<line x1="70.3" y1="439.6" x2="134.3" y2="412.5"/>
<line x1="620.8" y1="435.8" x2="645" y2="443.3"/>
<line x1="713" y1="403.3" x2="753.3" y2="405.4"/>
</g>
<text class="b" x="96" y="376.8" font-size="8.6" textLength="77.5" lengthAdjust="spacingAndGlyphs">ZONA CARICABILE</text>
<text class="b" x="33.3" y="454.8" font-size="8.6" textLength="77.5" lengthAdjust="spacingAndGlyphs">ZONA CARICABILE</text>
<text class="b" x="651.5" y="449" font-size="8.6" textLength="133" lengthAdjust="spacingAndGlyphs">ZONA MEDIAMENTE CARICABILE</text>
<text class="q" x="339.3" y="550.7" font-size="13.6" textLength="69" lengthAdjust="spacingAndGlyphs">Quota falda</text>
<text class="b" x="29.3" y="550.2" font-size="13.6" textLength="36" lengthAdjust="spacingAndGlyphs">Quote</text>
<text class="b" x="22.3" y="564.2" font-size="13" textLength="50" lengthAdjust="spacingAndGlyphs">(m.s.l.m.)</text>
</svg>
</body></html>
